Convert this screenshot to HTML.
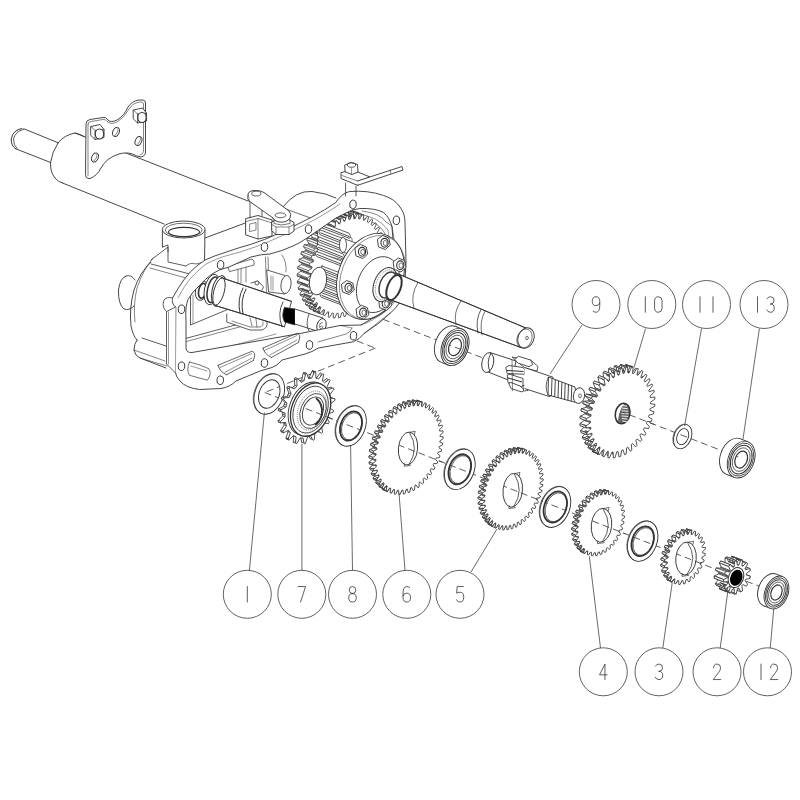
<!DOCTYPE html>
<html><head><meta charset="utf-8"><style>
html,body{margin:0;padding:0;background:#fff;width:800px;height:800px;overflow:hidden;font-family:"Liberation Sans",sans-serif}
svg{display:block}
</style></head><body>
<svg width="800" height="800" viewBox="0 0 800 800">
<rect width="800" height="800" fill="#fff"/>
<path d="M75,133 L248,201" fill="none" stroke="#333" stroke-width="0.9" stroke-linejoin="round" stroke-linecap="round" />
<path d="M62.5,183 L164,224" fill="none" stroke="#333" stroke-width="0.9" stroke-linejoin="round" stroke-linecap="round" />
<path d="M58,143 Q52,152 50.6,162.5 Q50,172 55,178 Q58,182 62.5,183" fill="none" stroke="#333" stroke-width="0.9" stroke-linejoin="round" stroke-linecap="round" />
<path d="M58,143 Q64,135 75,133 Q80,134 84,136.5" fill="none" stroke="#333" stroke-width="0.9" stroke-linejoin="round" stroke-linecap="round" />
<path d="M23.75,128.75 L58.1,142.75" fill="none" stroke="#333" stroke-width="0.9" stroke-linejoin="round" stroke-linecap="round" />
<path d="M15.6,148.75 L50.6,162.5" fill="none" stroke="#333" stroke-width="0.9" stroke-linejoin="round" stroke-linecap="round" />
<path d="M21.9,128.5 Q13,130 11.25,138.75 Q11,146 15.6,148.75" fill="none" stroke="#333" stroke-width="1.0" stroke-linejoin="round" stroke-linecap="round" />
<path d="M23.5,129.5 Q15.5,131 13.5,139 Q13.5,145.5 17,148.5" fill="none" stroke="#333" stroke-width="0.8" stroke-linejoin="round" stroke-linecap="round" />
<path d="M86,124 Q86,120 90,119.5 L103,117.5 Q106,117 108,120 Q111,123 117,120 Q124,116 128,107 Q132,101 139,100 L143,100 Q145.5,100.5 145.5,103 L145.5,152 Q145.5,156 141,157 L137,156 Q128,151 119,154 Q106,158 101,168 Q97,176 90,178.5 L88,178.5 Q85.5,178 85.5,175 Z" fill="#fff" stroke="#333" stroke-width="0.9" stroke-linejoin="round" stroke-linecap="round" />
<path d="M88,124.5 Q88,121.5 91,121.5 L103,119.5 Q105.5,119 107,121.5 Q111,125 117,122 Q124,118 129,109 Q133,102.5 139,102 L142,102 Q143.5,102.5 143.5,104 L143.5,151 Q143.5,154.5 140,155" fill="none" stroke="#333" stroke-width="0.6" stroke-linejoin="round" stroke-linecap="round" />
<path d="M88,124.5 L88,176" fill="none" stroke="#333" stroke-width="0.6" stroke-linejoin="round" stroke-linecap="round" />
<path d="M91,126.5 L100,124.5 L104,129.5 L104,137.5 L95,139.5 L91,135.5 Z" fill="#fff" stroke="#333" stroke-width="0.9" stroke-linejoin="round" stroke-linecap="round" />
<path d="M91,126.5 L95,130.5 L104,129.5" fill="none" stroke="#333" stroke-width="0.7" stroke-linejoin="round" stroke-linecap="round" />
<path d="M95,130.5 L95,139.5" fill="none" stroke="#333" stroke-width="0.7" stroke-linejoin="round" stroke-linecap="round" />
<ellipse cx="99.5" cy="134.0" rx="4.2" ry="5" fill="#fff" stroke="#333" stroke-width="1.1"/>
<path d="M133.5,110 L142.5,108 L146.5,113 L146.5,121 L137.5,123 L133.5,119 Z" fill="#fff" stroke="#333" stroke-width="0.9" stroke-linejoin="round" stroke-linecap="round" />
<path d="M133.5,110 L137.5,114 L146.5,113" fill="none" stroke="#333" stroke-width="0.7" stroke-linejoin="round" stroke-linecap="round" />
<path d="M137.5,114 L137.5,123" fill="none" stroke="#333" stroke-width="0.7" stroke-linejoin="round" stroke-linecap="round" />
<ellipse cx="142.0" cy="117.5" rx="4.2" ry="5" fill="#fff" stroke="#333" stroke-width="1.1"/>
<ellipse cx="116" cy="132" rx="3.2" ry="4.8" transform="rotate(20 116 132)" fill="none" stroke="#333" stroke-width="0.9"/>
<path d="M114.5,135.5 Q118.5,133 118,128.5" fill="none" stroke="#333" stroke-width="0.6" stroke-linejoin="round" stroke-linecap="round" />
<ellipse cx="138.5" cy="141" rx="3.2" ry="4.8" transform="rotate(20 138.5 141)" fill="none" stroke="#333" stroke-width="0.9"/>
<path d="M137.0,144.5 Q141.0,142 140.5,137.5" fill="none" stroke="#333" stroke-width="0.6" stroke-linejoin="round" stroke-linecap="round" />
<ellipse cx="95" cy="157.5" rx="3.2" ry="4.8" transform="rotate(20 95 157.5)" fill="none" stroke="#333" stroke-width="0.9"/>
<path d="M93.5,161.0 Q97.5,158.5 97,154.0" fill="none" stroke="#333" stroke-width="0.6" stroke-linejoin="round" stroke-linecap="round" />
<path d="M205,238 L248,222" fill="none" stroke="#333" stroke-width="0.9" stroke-linejoin="round" stroke-linecap="round" />
<path d="M285,208.75 L316,220" fill="none" stroke="#333" stroke-width="0.7" stroke-linejoin="round" stroke-linecap="round" />
<path d="M151,262 Q140,272 134,290 Q129,308 131,326 Q133,336 137,340" fill="none" stroke="#333" stroke-width="0.9" stroke-linejoin="round" stroke-linecap="round" />
<path d="M153,258 Q143,270 137,288 Q133,305 135,322" fill="none" stroke="#333" stroke-width="0.6" stroke-linejoin="round" stroke-linecap="round" />
<path d="M151,260 L168,247 L168,252" fill="none" stroke="#333" stroke-width="0.8" stroke-linejoin="round" stroke-linecap="round" />
<path d="M151,264 L190,274" fill="none" stroke="#333" stroke-width="0.8" stroke-linejoin="round" stroke-linecap="round" />
<path d="M150,268 L186,278" fill="none" stroke="#333" stroke-width="0.6" stroke-linejoin="round" stroke-linecap="round" />
<path d="M126,276 Q120,278 118.5,290 Q118,304 124,309 Q129,311 134,306" fill="none" stroke="#333" stroke-width="0.9" stroke-linejoin="round" stroke-linecap="round" />
<path d="M126,276 Q131,274 135,280" fill="none" stroke="#333" stroke-width="0.8" stroke-linejoin="round" stroke-linecap="round" />
<path d="M137,340 Q134,344 134,350 Q135,356 140,358 L166,368" fill="none" stroke="#333" stroke-width="0.9" stroke-linejoin="round" stroke-linecap="round" />
<path d="M142,338 L166,346" fill="none" stroke="#333" stroke-width="0.8" stroke-linejoin="round" stroke-linecap="round" />
<path d="M140,358 L167,366" fill="none" stroke="#333" stroke-width="0.6" stroke-linejoin="round" stroke-linecap="round" />
<path d="M134,350 L165,361" fill="none" stroke="#333" stroke-width="0.6" stroke-linejoin="round" stroke-linecap="round" />
<path d="M175,372 Q182,380 191,384 Q203,388 215,388 L235,381" fill="none" stroke="#333" stroke-width="0.9" stroke-linejoin="round" stroke-linecap="round" />
<path d="M162.4,230 L162.4,247 M205,230 L204.5,262" fill="none" stroke="#333" stroke-width="0.9" stroke-linejoin="round" stroke-linecap="round" />
<path d="M162.4,247 L168,245 L168,262 L186,266" fill="none" stroke="#333" stroke-width="0.8" stroke-linejoin="round" stroke-linecap="round" />
<path d="M186,266 Q190,262 196,264 L204.5,262" fill="none" stroke="#333" stroke-width="0.7" stroke-linejoin="round" stroke-linecap="round" />
<ellipse cx="183.7" cy="229.5" rx="21.3" ry="8.5" fill="#fff" stroke="#333" stroke-width="0.9"/>
<ellipse cx="183.7" cy="230" rx="18.5" ry="6.8" fill="none" stroke="#333" stroke-width="0.7"/>
<ellipse cx="184" cy="232" rx="15.5" ry="4.6" fill="none" stroke="#333" stroke-width="1.1"/>
<path d="M190.5,293.5 L190.5,325 L230,308.5" fill="none" stroke="#333" stroke-width="0.8" stroke-linejoin="round" stroke-linecap="round" />
<path d="M193,295 L193,323.5" fill="none" stroke="#333" stroke-width="0.5" stroke-linejoin="round" stroke-linecap="round" />
<path d="M180,340 L276,314" fill="none" stroke="#333" stroke-width="0.8" stroke-linejoin="round" stroke-linecap="round" />
<path d="M181,343 L276,317" fill="none" stroke="#333" stroke-width="0.6" stroke-linejoin="round" stroke-linecap="round" />
<path d="M186,358 L276,334" fill="none" stroke="#333" stroke-width="0.5" stroke-linejoin="round" stroke-linecap="round" />
<path d="M226.75,314 L226.75,322 L250,330 L262,330 Q268,328 267,322 L262,318" fill="#fff" stroke="#333" stroke-width="0.8" stroke-linejoin="round" stroke-linecap="round" />
<path d="M232,321 L250,327 L260,327 Q264,326 263,322" fill="none" stroke="#333" stroke-width="0.6" stroke-linejoin="round" stroke-linecap="round" />
<path d="M250,318 L252,326 M256,319 L257,327" fill="none" stroke="#333" stroke-width="0.6" stroke-linejoin="round" stroke-linecap="round" />
<path d="M228,266 L252,259 L254,261 L254,265 L230,271.5 Z" fill="#fff" stroke="#333" stroke-width="0.7" stroke-linejoin="round" stroke-linecap="round" />
<path d="M238,270 L238,283 M241,269 L241,283 M246,267.5 L246,282" fill="none" stroke="#333" stroke-width="0.6" stroke-linejoin="round" stroke-linecap="round" />
<path d="M265.5,257 L266.5,292 M268,257 L269,292" fill="none" stroke="#333" stroke-width="0.6" stroke-linejoin="round" stroke-linecap="round" />
<path d="M282,255 Q287,262 286,272" fill="none" stroke="#333" stroke-width="0.6" stroke-linejoin="round" stroke-linecap="round" />
<path d="M267,270 L285,275.5 L285,294 L269,292 Z" fill="#fff" stroke="#333" stroke-width="0.8" stroke-linejoin="round" stroke-linecap="round" />
<ellipse cx="286" cy="284.5" rx="5" ry="9" transform="rotate(8 286 284.5)" fill="#fff" stroke="#333" stroke-width="0.8"/>
<path d="M271,276 L271,290 M273,276.5 L273,290.5" fill="none" stroke="#333" stroke-width="0.5" stroke-linejoin="round" stroke-linecap="round" />
<path d="M366.00,273.80 L365.74,274.45 L368.03,277.32 L367.12,279.36 L363.61,279.26 L363.15,280.20 L362.83,280.82 L364.68,284.24 L363.60,286.16 L360.28,285.35 L359.74,286.23 L359.37,286.81 L360.75,290.70 L359.51,292.47 L356.45,290.97 L355.84,291.77 L355.43,292.29 L356.31,296.58 L354.94,298.16 L352.20,296.00 L351.54,296.70 L351.09,297.16 L351.45,301.76 L349.98,303.11 L347.62,300.34 L346.91,300.93 L346.43,301.31 L346.27,306.12 L344.73,307.22 L342.79,303.90 L342.06,304.36 L341.56,304.66 L340.88,309.59 L339.29,310.42 L337.82,306.60 L337.07,306.93 L336.57,307.14 L335.38,312.09 L333.79,312.63 L332.81,308.40 L332.06,308.59 L331.56,308.70 L329.89,313.57 L328.32,313.80 L327.86,309.25 L327.13,309.30 L326.64,309.32 L324.52,314.00 L323.00,313.93 L323.07,309.14 L322.37,309.04 L321.91,308.96 L319.38,313.37 L317.95,312.99 L318.54,308.07 L317.88,307.83 L317.45,307.66 L314.57,311.70 L313.26,311.02 L314.35,306.07 L313.76,305.69 L313.37,305.42 L310.20,309.01 L309.02,308.05 L310.61,303.16 L310.09,302.65 L309.75,302.30 L306.34,305.37 L305.33,304.14 L307.37,299.42 L306.93,298.79 L306.65,298.36 L303.08,300.84 L302.26,299.38 L304.71,294.92 L304.37,294.18 L304.15,293.68 L300.49,295.53 L299.87,293.85 L302.69,289.74 L302.44,288.92 L302.29,288.36 L298.61,289.53 L298.21,287.68 L301.34,284.00 L301.19,283.10 L301.11,282.50 L297.49,282.97 L297.31,280.98 L300.68,277.82 L300.65,276.86 L300.63,276.22 L297.15,275.99 L297.20,273.90 L300.75,271.31 L300.82,270.31 L300.87,269.65 L297.59,268.72 L297.87,266.57 L301.52,264.61 L301.70,263.60 L301.82,262.93 L298.82,261.31 L299.31,259.16 L302.99,257.86 L303.27,256.85 L303.46,256.18 L300.79,253.92 L301.50,251.80 L305.13,251.20 L305.51,250.21 L305.76,249.56 L303.48,246.69 L304.38,244.64 L307.89,244.75 L308.36,243.81 L308.67,243.19 L306.82,239.77 L307.90,237.84 L311.22,238.65 L311.76,237.78 L312.13,237.20 L310.75,233.31 L311.99,231.54 L315.05,233.03 L315.66,232.24 L316.07,231.72 L315.19,227.43 L316.56,225.85 L319.30,228.00 L319.97,227.31 L320.42,226.85 L320.05,222.25 L321.52,220.90 L323.88,223.67 L324.59,223.08 L325.07,222.70 L325.23,217.89 L326.77,216.78 L328.71,220.11 L329.45,219.65 L329.94,219.35 L330.62,214.42 L332.21,213.59 L333.68,217.41 L334.43,217.08 L334.93,216.87 L336.12,211.92 L337.72,211.38 L338.69,215.61 L339.44,215.42 L339.94,215.31 L341.61,210.44 L343.18,210.21 L343.64,214.76 L344.37,214.71 L344.86,214.69 L346.98,210.01 L348.50,210.08 L348.43,214.87 L349.13,214.97 L349.59,215.04 L352.12,210.64 L353.55,211.02 L352.97,215.94 L353.62,216.18 L354.05,216.35 L356.93,212.31 L358.25,212.99 L357.15,217.94 L357.74,218.32 L358.13,218.59 L361.31,215.00 L362.48,215.96 L360.90,220.85 L361.42,221.36 L361.76,221.71 L365.16,218.64 L366.17,219.86 L364.13,224.59 L364.57,225.22 L364.85,225.65 L368.42,223.16 L369.25,224.63 L366.79,229.09 L367.13,229.83 L367.36,230.33 L371.02,228.48 L371.64,230.15 L368.81,234.27 L369.06,235.09 L369.22,235.65 L372.89,234.48 L373.30,236.33 L370.17,240.00 L370.31,240.91 L370.40,241.51 L374.01,241.04 L374.19,243.03 L370.82,246.19 L370.86,247.15 L370.87,247.79 L374.35,248.02 L374.30,250.11 L370.76,252.70 L370.69,253.69 L370.63,254.36 L373.91,255.29 L373.63,257.43 L369.98,259.40 L369.81,260.41 L369.68,261.08 L372.69,262.70 L372.19,264.85 L368.51,266.15 L368.23,267.15 L368.04,267.83 L370.71,270.09 L370.00,272.21 L366.37,272.81 Z" fill="#fff" stroke="#333" stroke-width="0.8" stroke-linejoin="round" />
<line x1="323.50" y1="315.02" x2="313.26" y2="311.02" stroke="#333" stroke-width="0.7200000000000001" />
<line x1="324.60" y1="310.06" x2="314.35" y2="306.07" stroke="#333" stroke-width="0.7200000000000001" />
<line x1="324.01" y1="309.68" x2="313.76" y2="305.69" stroke="#333" stroke-width="0.7200000000000001" />
<line x1="323.62" y1="309.42" x2="313.37" y2="305.42" stroke="#333" stroke-width="0.7200000000000001" />
<line x1="320.44" y1="313.01" x2="310.20" y2="309.01" stroke="#333" stroke-width="0.7200000000000001" />
<line x1="319.27" y1="312.05" x2="309.02" y2="308.05" stroke="#333" stroke-width="0.7200000000000001" />
<line x1="320.85" y1="307.16" x2="310.61" y2="303.16" stroke="#333" stroke-width="0.7200000000000001" />
<line x1="320.34" y1="306.65" x2="310.09" y2="302.65" stroke="#333" stroke-width="0.7200000000000001" />
<line x1="320.00" y1="306.30" x2="309.75" y2="302.30" stroke="#333" stroke-width="0.7200000000000001" />
<line x1="316.59" y1="309.37" x2="306.34" y2="305.37" stroke="#333" stroke-width="0.7200000000000001" />
<line x1="315.58" y1="308.14" x2="305.33" y2="304.14" stroke="#333" stroke-width="0.7200000000000001" />
<line x1="317.62" y1="303.42" x2="307.37" y2="299.42" stroke="#333" stroke-width="0.7200000000000001" />
<line x1="317.18" y1="302.79" x2="306.93" y2="298.79" stroke="#333" stroke-width="0.7200000000000001" />
<line x1="316.90" y1="302.36" x2="306.65" y2="298.36" stroke="#333" stroke-width="0.7200000000000001" />
<line x1="313.33" y1="304.84" x2="303.08" y2="300.84" stroke="#333" stroke-width="0.7200000000000001" />
<line x1="312.50" y1="303.37" x2="302.26" y2="299.38" stroke="#333" stroke-width="0.7200000000000001" />
<line x1="314.96" y1="298.91" x2="304.71" y2="294.92" stroke="#333" stroke-width="0.7200000000000001" />
<line x1="314.62" y1="298.18" x2="304.37" y2="294.18" stroke="#333" stroke-width="0.7200000000000001" />
<line x1="314.39" y1="297.68" x2="304.15" y2="293.68" stroke="#333" stroke-width="0.7200000000000001" />
<line x1="310.73" y1="299.52" x2="300.49" y2="295.53" stroke="#333" stroke-width="0.7200000000000001" />
<line x1="310.11" y1="297.85" x2="299.87" y2="293.85" stroke="#333" stroke-width="0.7200000000000001" />
<line x1="312.94" y1="293.74" x2="302.69" y2="289.74" stroke="#333" stroke-width="0.7200000000000001" />
<line x1="312.69" y1="292.91" x2="302.44" y2="288.92" stroke="#333" stroke-width="0.7200000000000001" />
<line x1="312.53" y1="292.35" x2="302.29" y2="288.36" stroke="#333" stroke-width="0.7200000000000001" />
<line x1="308.86" y1="293.53" x2="298.61" y2="289.53" stroke="#333" stroke-width="0.7200000000000001" />
<line x1="308.45" y1="291.68" x2="298.21" y2="287.68" stroke="#333" stroke-width="0.7200000000000001" />
<line x1="311.58" y1="288.00" x2="301.34" y2="284.00" stroke="#333" stroke-width="0.7200000000000001" />
<line x1="311.44" y1="287.10" x2="301.19" y2="283.10" stroke="#333" stroke-width="0.7200000000000001" />
<line x1="311.35" y1="286.49" x2="301.11" y2="282.50" stroke="#333" stroke-width="0.7200000000000001" />
<line x1="307.74" y1="286.97" x2="297.49" y2="282.97" stroke="#333" stroke-width="0.7200000000000001" />
<line x1="307.56" y1="284.98" x2="297.31" y2="280.98" stroke="#333" stroke-width="0.7200000000000001" />
<line x1="310.93" y1="281.81" x2="300.68" y2="277.82" stroke="#333" stroke-width="0.7200000000000001" />
<line x1="310.90" y1="280.86" x2="300.65" y2="276.86" stroke="#333" stroke-width="0.7200000000000001" />
<line x1="310.88" y1="280.21" x2="300.63" y2="276.22" stroke="#333" stroke-width="0.7200000000000001" />
<line x1="307.40" y1="279.98" x2="297.15" y2="275.99" stroke="#333" stroke-width="0.7200000000000001" />
<line x1="307.45" y1="277.90" x2="297.20" y2="273.90" stroke="#333" stroke-width="0.7200000000000001" />
<line x1="310.99" y1="275.31" x2="300.75" y2="271.31" stroke="#333" stroke-width="0.7200000000000001" />
<line x1="311.07" y1="274.31" x2="300.82" y2="270.31" stroke="#333" stroke-width="0.7200000000000001" />
<line x1="311.12" y1="273.64" x2="300.87" y2="269.65" stroke="#333" stroke-width="0.7200000000000001" />
<line x1="307.84" y1="272.71" x2="297.59" y2="268.72" stroke="#333" stroke-width="0.7200000000000001" />
<line x1="308.12" y1="270.57" x2="297.87" y2="266.57" stroke="#333" stroke-width="0.7200000000000001" />
<line x1="311.77" y1="268.61" x2="301.52" y2="264.61" stroke="#333" stroke-width="0.7200000000000001" />
<line x1="311.95" y1="267.60" x2="301.70" y2="263.60" stroke="#333" stroke-width="0.7200000000000001" />
<line x1="312.07" y1="266.92" x2="301.82" y2="262.93" stroke="#333" stroke-width="0.7200000000000001" />
<line x1="309.07" y1="265.30" x2="298.82" y2="261.31" stroke="#333" stroke-width="0.7200000000000001" />
<line x1="309.56" y1="263.15" x2="299.31" y2="259.16" stroke="#333" stroke-width="0.7200000000000001" />
<line x1="313.24" y1="261.86" x2="302.99" y2="257.86" stroke="#333" stroke-width="0.7200000000000001" />
<line x1="313.52" y1="260.85" x2="303.27" y2="256.85" stroke="#333" stroke-width="0.7200000000000001" />
<line x1="313.71" y1="260.18" x2="303.46" y2="256.18" stroke="#333" stroke-width="0.7200000000000001" />
<line x1="311.04" y1="257.91" x2="300.79" y2="253.92" stroke="#333" stroke-width="0.7200000000000001" />
<line x1="311.75" y1="255.79" x2="301.50" y2="251.80" stroke="#333" stroke-width="0.7200000000000001" />
<line x1="315.38" y1="255.19" x2="305.13" y2="251.20" stroke="#333" stroke-width="0.7200000000000001" />
<line x1="315.75" y1="254.21" x2="305.51" y2="250.21" stroke="#333" stroke-width="0.7200000000000001" />
<line x1="316.01" y1="253.55" x2="305.76" y2="249.56" stroke="#333" stroke-width="0.7200000000000001" />
<line x1="313.72" y1="250.68" x2="303.48" y2="246.69" stroke="#333" stroke-width="0.7200000000000001" />
<line x1="314.63" y1="248.64" x2="304.38" y2="244.64" stroke="#333" stroke-width="0.7200000000000001" />
<line x1="318.14" y1="248.75" x2="307.89" y2="244.75" stroke="#333" stroke-width="0.7200000000000001" />
<line x1="318.60" y1="247.81" x2="308.36" y2="243.81" stroke="#333" stroke-width="0.7200000000000001" />
<line x1="318.92" y1="247.18" x2="308.67" y2="243.19" stroke="#333" stroke-width="0.7200000000000001" />
<line x1="317.07" y1="243.77" x2="306.82" y2="239.77" stroke="#333" stroke-width="0.7200000000000001" />
<line x1="318.15" y1="241.84" x2="307.90" y2="237.84" stroke="#333" stroke-width="0.7200000000000001" />
<line x1="321.47" y1="242.65" x2="311.22" y2="238.65" stroke="#333" stroke-width="0.7200000000000001" />
<line x1="322.01" y1="241.77" x2="311.76" y2="237.78" stroke="#333" stroke-width="0.7200000000000001" />
<line x1="322.38" y1="241.20" x2="312.13" y2="237.20" stroke="#333" stroke-width="0.7200000000000001" />
<line x1="321.00" y1="237.30" x2="310.75" y2="233.31" stroke="#333" stroke-width="0.7200000000000001" />
<line x1="322.24" y1="235.53" x2="311.99" y2="231.54" stroke="#333" stroke-width="0.7200000000000001" />
<line x1="325.30" y1="237.03" x2="315.05" y2="233.03" stroke="#333" stroke-width="0.7200000000000001" />
<line x1="325.91" y1="236.24" x2="315.66" y2="232.24" stroke="#333" stroke-width="0.7200000000000001" />
<line x1="326.32" y1="235.71" x2="316.07" y2="231.72" stroke="#333" stroke-width="0.7200000000000001" />
<line x1="325.44" y1="231.42" x2="315.19" y2="227.43" stroke="#333" stroke-width="0.7200000000000001" />
<line x1="326.81" y1="229.85" x2="316.56" y2="225.85" stroke="#333" stroke-width="0.7200000000000001" />
<line x1="329.55" y1="232.00" x2="319.30" y2="228.00" stroke="#333" stroke-width="0.7200000000000001" />
<line x1="330.22" y1="231.30" x2="319.97" y2="227.31" stroke="#333" stroke-width="0.7200000000000001" />
<line x1="330.67" y1="230.85" x2="320.42" y2="226.85" stroke="#333" stroke-width="0.7200000000000001" />
<line x1="330.30" y1="226.25" x2="320.05" y2="222.25" stroke="#333" stroke-width="0.7200000000000001" />
<line x1="331.77" y1="224.89" x2="321.52" y2="220.90" stroke="#333" stroke-width="0.7200000000000001" />
<line x1="334.13" y1="227.66" x2="323.88" y2="223.67" stroke="#333" stroke-width="0.7200000000000001" />
<line x1="334.84" y1="227.08" x2="324.59" y2="223.08" stroke="#333" stroke-width="0.7200000000000001" />
<line x1="335.32" y1="226.70" x2="325.07" y2="222.70" stroke="#333" stroke-width="0.7200000000000001" />
<line x1="335.48" y1="221.88" x2="325.23" y2="217.89" stroke="#333" stroke-width="0.7200000000000001" />
<line x1="337.02" y1="220.78" x2="326.77" y2="216.78" stroke="#333" stroke-width="0.7200000000000001" />
<line x1="338.96" y1="224.11" x2="328.71" y2="220.11" stroke="#333" stroke-width="0.7200000000000001" />
<line x1="339.70" y1="223.64" x2="329.45" y2="219.65" stroke="#333" stroke-width="0.7200000000000001" />
<line x1="340.19" y1="223.35" x2="329.94" y2="219.35" stroke="#333" stroke-width="0.7200000000000001" />
<line x1="340.87" y1="218.41" x2="330.62" y2="214.42" stroke="#333" stroke-width="0.7200000000000001" />
<line x1="342.46" y1="217.59" x2="332.21" y2="213.59" stroke="#333" stroke-width="0.7200000000000001" />
<line x1="343.93" y1="221.40" x2="333.68" y2="217.41" stroke="#333" stroke-width="0.7200000000000001" />
<line x1="344.68" y1="221.07" x2="334.43" y2="217.08" stroke="#333" stroke-width="0.7200000000000001" />
<line x1="345.18" y1="220.86" x2="334.93" y2="216.87" stroke="#333" stroke-width="0.7200000000000001" />
<line x1="346.37" y1="215.91" x2="336.12" y2="211.92" stroke="#333" stroke-width="0.7200000000000001" />
<line x1="347.96" y1="215.38" x2="337.72" y2="211.38" stroke="#333" stroke-width="0.7200000000000001" />
<line x1="348.94" y1="219.60" x2="338.69" y2="215.61" stroke="#333" stroke-width="0.7200000000000001" />
<line x1="349.69" y1="219.42" x2="339.44" y2="215.42" stroke="#333" stroke-width="0.7200000000000001" />
<line x1="350.19" y1="219.30" x2="339.94" y2="215.31" stroke="#333" stroke-width="0.7200000000000001" />
<line x1="351.86" y1="214.43" x2="341.61" y2="210.44" stroke="#333" stroke-width="0.7200000000000001" />
<line x1="353.43" y1="214.20" x2="343.18" y2="210.21" stroke="#333" stroke-width="0.7200000000000001" />
<line x1="353.89" y1="218.75" x2="343.64" y2="214.76" stroke="#333" stroke-width="0.7200000000000001" />
<line x1="354.62" y1="218.71" x2="344.37" y2="214.71" stroke="#333" stroke-width="0.7200000000000001" />
<line x1="355.11" y1="218.69" x2="344.86" y2="214.69" stroke="#333" stroke-width="0.7200000000000001" />
<line x1="357.23" y1="214.00" x2="346.98" y2="210.01" stroke="#333" stroke-width="0.7200000000000001" />
<line x1="358.75" y1="214.08" x2="348.50" y2="210.08" stroke="#333" stroke-width="0.7200000000000001" />
<line x1="358.68" y1="218.86" x2="348.43" y2="214.87" stroke="#333" stroke-width="0.7200000000000001" />
<line x1="359.38" y1="218.96" x2="349.13" y2="214.97" stroke="#333" stroke-width="0.7200000000000001" />
<line x1="359.84" y1="219.04" x2="349.59" y2="215.04" stroke="#333" stroke-width="0.7200000000000001" />
<line x1="362.37" y1="214.63" x2="352.12" y2="210.64" stroke="#333" stroke-width="0.7200000000000001" />
<line x1="363.80" y1="215.01" x2="353.55" y2="211.02" stroke="#333" stroke-width="0.7200000000000001" />
<path d="M376.25,277.79 L375.99,278.45 L378.28,281.32 L377.37,283.36 L373.86,283.25 L373.40,284.19 L373.08,284.82 L374.93,288.23 L373.85,290.16 L370.53,289.35 L369.99,290.23 L369.62,290.80 L371.00,294.70 L369.76,296.47 L366.70,294.97 L366.09,295.76 L365.68,296.29 L366.56,300.58 L365.19,302.15 L362.45,300.00 L361.78,300.70 L361.33,301.15 L361.70,305.75 L360.23,307.11 L357.87,304.34 L357.16,304.92 L356.68,305.30 L356.52,310.12 L354.98,311.22 L353.04,307.89 L352.30,308.36 L351.81,308.65 L351.13,313.59 L349.54,314.41 L348.07,310.60 L347.32,310.93 L346.82,311.14 L345.63,316.09 L344.04,316.62 L343.06,312.40 L342.31,312.58 L341.81,312.70 L340.14,317.57 L338.57,317.80 L338.11,313.25 L337.38,313.29 L336.89,313.31 L334.77,318.00 L333.25,317.92 L333.32,313.14 L332.62,313.04 L332.16,312.96 L329.63,317.37 L328.20,316.99 L328.78,312.07 L328.13,311.83 L327.70,311.65 L324.82,315.69 L323.50,315.02 L324.60,310.06 L324.01,309.68 L323.62,309.42 L320.44,313.01 L319.27,312.05 L320.85,307.16 L320.34,306.65 L320.00,306.30 L316.59,309.37 L315.58,308.14 L317.62,303.42 L317.18,302.79 L316.90,302.36 L313.33,304.84 L312.50,303.37 L314.96,298.91 L314.62,298.18 L314.39,297.68 L310.73,299.52 L310.11,297.85 L312.94,293.74 L312.69,292.91 L312.53,292.35 L308.86,293.53 L308.45,291.68 L311.58,288.00 L311.44,287.10 L311.35,286.49 L307.74,286.97 L307.56,284.98 L310.93,281.81 L310.90,280.86 L310.88,280.21 L307.40,279.98 L307.45,277.90 L310.99,275.31 L311.07,274.31 L311.12,273.64 L307.84,272.71 L308.12,270.57 L311.77,268.61 L311.95,267.60 L312.07,266.92 L309.07,265.30 L309.56,263.15 L313.24,261.86 L313.52,260.85 L313.71,260.18 L311.04,257.91 L311.75,255.79 L315.38,255.19 L315.75,254.21 L316.01,253.55 L313.72,250.68 L314.63,248.64 L318.14,248.75 L318.60,247.81 L318.92,247.18 L317.07,243.77 L318.15,241.84 L321.47,242.65 L322.01,241.77 L322.38,241.20 L321.00,237.30 L322.24,235.53 L325.30,237.03 L325.91,236.24 L326.32,235.71 L325.44,231.42 L326.81,229.85 L329.55,232.00 L330.22,231.30 L330.67,230.85 L330.30,226.25 L331.77,224.89 L334.13,227.66 L334.84,227.08 L335.32,226.70 L335.48,221.88 L337.02,220.78 L338.96,224.11 L339.70,223.64 L340.19,223.35 L340.87,218.41 L342.46,217.59 L343.93,221.40 L344.68,221.07 L345.18,220.86 L346.37,215.91 L347.96,215.38 L348.94,219.60 L349.69,219.42 L350.19,219.30 L351.86,214.43 L353.43,214.20 L353.89,218.75 L354.62,218.71 L355.11,218.69 L357.23,214.00 L358.75,214.08 L358.68,218.86 L359.38,218.96 L359.84,219.04 L362.37,214.63 L363.80,215.01 L363.22,219.93 L363.87,220.17 L364.30,220.35 L367.18,216.31 L368.50,216.98 L367.40,221.94 L367.99,222.32 L368.38,222.58 L371.56,218.99 L372.73,219.95 L371.15,224.84 L371.66,225.35 L372.00,225.70 L375.41,222.63 L376.42,223.86 L374.38,228.58 L374.82,229.21 L375.10,229.64 L378.67,227.16 L379.50,228.63 L377.04,233.09 L377.38,233.82 L377.61,234.32 L381.27,232.48 L381.89,234.15 L379.06,238.26 L379.31,239.09 L379.47,239.65 L383.14,238.47 L383.55,240.32 L380.42,244.00 L380.56,244.90 L380.65,245.51 L384.26,245.03 L384.44,247.02 L381.07,250.19 L381.10,251.14 L381.12,251.79 L384.60,252.02 L384.55,254.10 L381.01,256.69 L380.93,257.69 L380.88,258.36 L384.16,259.29 L383.88,261.43 L380.23,263.39 L380.05,264.40 L379.93,265.08 L382.93,266.70 L382.44,268.85 L378.76,270.14 L378.48,271.15 L378.29,271.82 L380.96,274.09 L380.25,276.21 L376.62,276.81 Z" fill="#fff" stroke="#333" stroke-width="0.8" stroke-linejoin="round" />
<path d="M318,226 L352,238 L352,262 L318,254 Z" fill="#fff" stroke="#333" stroke-width="0.6" stroke-linejoin="round" stroke-linecap="round" />
<path d="M321.0,222.5 L349.0,233.2 Q351.5,235.8 349.5,238.4 L321.5,227.7 Q319.0,225.1 321.0,222.5 Z" fill="#fff" stroke="#333" stroke-width="0.8" stroke-linejoin="round" stroke-linecap="round" />
<path d="M322.0,225.7 L349.0,236.5" fill="none" stroke="#333" stroke-width="0.8800000000000001" stroke-linejoin="round" stroke-linecap="round" />
<path d="M319.8,229.7 L347.1,240.2 Q349.6,242.8 347.6,245.4 L320.3,234.9 Q317.8,232.3 319.8,229.7 Z" fill="#fff" stroke="#333" stroke-width="0.8" stroke-linejoin="round" stroke-linecap="round" />
<path d="M320.8,232.9 L347.1,243.4" fill="none" stroke="#333" stroke-width="0.8800000000000001" stroke-linejoin="round" stroke-linecap="round" />
<path d="M318.6,236.9 L345.1,247.1 Q347.6,249.7 345.6,252.3 L319.1,242.1 Q316.6,239.5 318.6,236.9 Z" fill="#fff" stroke="#333" stroke-width="0.8" stroke-linejoin="round" stroke-linecap="round" />
<path d="M319.6,240.1 L345.1,250.3" fill="none" stroke="#333" stroke-width="0.8800000000000001" stroke-linejoin="round" stroke-linecap="round" />
<path d="M317.4,244.1 L343.2,254.0 Q345.7,256.6 343.7,259.2 L317.9,249.3 Q315.4,246.7 317.4,244.1 Z" fill="#fff" stroke="#333" stroke-width="0.8" stroke-linejoin="round" stroke-linecap="round" />
<path d="M318.4,247.3 L343.2,257.2" fill="none" stroke="#333" stroke-width="0.8800000000000001" stroke-linejoin="round" stroke-linecap="round" />
<path d="M316.2,251.3 L341.2,260.9 Q343.7,263.5 341.7,266.1 L316.7,256.5 Q314.2,253.9 316.2,251.3 Z" fill="#fff" stroke="#333" stroke-width="0.8" stroke-linejoin="round" stroke-linecap="round" />
<path d="M317.2,254.5 L341.2,264.1" fill="none" stroke="#333" stroke-width="0.8800000000000001" stroke-linejoin="round" stroke-linecap="round" />
<path d="M322,268 L348,277 L348,302 L322,296 Z" fill="#fff" stroke="#333" stroke-width="0.6" stroke-linejoin="round" stroke-linecap="round" />
<path d="M322.0,266.0 L346.3,275.3 Q348.8,277.7 346.8,280.1 L322.5,270.8 Q320.0,268.4 322.0,266.0 Z" fill="#fff" stroke="#333" stroke-width="0.8" stroke-linejoin="round" stroke-linecap="round" />
<path d="M323.0,269.0 L346.3,278.3" fill="none" stroke="#333" stroke-width="0.8800000000000001" stroke-linejoin="round" stroke-linecap="round" />
<path d="M321.7,272.6 L346.0,281.9 Q348.5,284.3 346.5,286.7 L322.2,277.4 Q319.7,275.0 321.7,272.6 Z" fill="#fff" stroke="#333" stroke-width="0.8" stroke-linejoin="round" stroke-linecap="round" />
<path d="M322.7,275.6 L346.0,284.9" fill="none" stroke="#333" stroke-width="0.8800000000000001" stroke-linejoin="round" stroke-linecap="round" />
<path d="M321.4,279.2 L345.7,288.5 Q348.2,290.9 346.2,293.3 L321.9,284.0 Q319.4,281.6 321.4,279.2 Z" fill="#fff" stroke="#333" stroke-width="0.8" stroke-linejoin="round" stroke-linecap="round" />
<path d="M322.4,282.2 L345.7,291.5" fill="none" stroke="#333" stroke-width="0.8800000000000001" stroke-linejoin="round" stroke-linecap="round" />
<path d="M321.1,285.8 L345.4,295.1 Q347.9,297.5 345.9,299.9 L321.6,290.6 Q319.1,288.2 321.1,285.8 Z" fill="#fff" stroke="#333" stroke-width="0.8" stroke-linejoin="round" stroke-linecap="round" />
<path d="M322.1,288.8 L345.4,298.1" fill="none" stroke="#333" stroke-width="0.8800000000000001" stroke-linejoin="round" stroke-linecap="round" />
<path d="M320.8,292.4 L345.1,301.7 Q347.6,304.1 345.6,306.5 L321.3,297.2 Q318.8,294.8 320.8,292.4 Z" fill="#fff" stroke="#333" stroke-width="0.8" stroke-linejoin="round" stroke-linecap="round" />
<path d="M321.8,295.4 L345.1,304.7" fill="none" stroke="#333" stroke-width="0.8800000000000001" stroke-linejoin="round" stroke-linecap="round" />
<ellipse cx="318" cy="281" rx="8.5" ry="14" transform="rotate(10 318 281)" fill="#fff" stroke="#333" stroke-width="0.85"/>
<path d="M342,238 L356,243 L356,256 L342,252 Z" fill="#fff" stroke="#333" stroke-width="0.8" stroke-linejoin="round" stroke-linecap="round" />
<ellipse cx="343" cy="245" rx="3.5" ry="7.5" fill="#fff" stroke="#333" stroke-width="0.8"/>
<ellipse cx="201.5" cy="290.5" rx="6" ry="10" transform="rotate(12 201.5 290.5)" fill="#fff" stroke="#333" stroke-width="0.9"/>
<ellipse cx="202.5" cy="290.8" rx="3.8" ry="7.5" transform="rotate(12 202.5 290.8)" fill="none" stroke="#333" stroke-width="1.6"/>
<ellipse cx="212" cy="289.5" rx="7.5" ry="15.5" transform="rotate(12 212 289.5)" fill="#fff" stroke="#333" stroke-width="0.9"/>
<ellipse cx="213" cy="289.8" rx="5.5" ry="13" transform="rotate(12 213 289.8)" fill="none" stroke="#333" stroke-width="1.5"/>
<ellipse cx="219" cy="291" rx="7" ry="15.5" transform="rotate(12 219 291)" fill="#fff" stroke="#333" stroke-width="1.0"/>
<path d="M221.5,277.75 L291.5,301.4 L284.5,326.75 L216,305.75 Z" fill="#fff" stroke="#333" stroke-width="0.9" stroke-linejoin="round" stroke-linecap="round" />
<ellipse cx="219" cy="291.5" rx="5.2" ry="14" transform="rotate(15 219 291.5)" fill="#fff" stroke="#333" stroke-width="0.9"/>
<path d="M221.5,277.75 L291.5,301.4 M216,305.75 L284.5,326.75" fill="none" stroke="#333" stroke-width="0.9" stroke-linejoin="round" stroke-linecap="round" />
<path d="M243,288 Q237,299 240,313 M246,289 Q240,300 243,314" fill="none" stroke="#333" stroke-width="1.0" stroke-linejoin="round" stroke-linecap="round" />
<path d="M283,302 Q277,313 282,326.75" fill="none" stroke="#333" stroke-width="0.9" stroke-linejoin="round" stroke-linecap="round" />
<path d="M284.5,307.5 L295,309 L295,325 L284.5,322 Q281,315 284.5,307.5 Z" fill="#000" stroke="#333" stroke-width="0.8" stroke-linejoin="round" stroke-linecap="round" />
<path d="M295,309 L323,318 L320,332 L295,324" fill="#fff" stroke="#333" stroke-width="0.9" stroke-linejoin="round" stroke-linecap="round" />
<path d="M309,314 Q305,324 309,331" fill="none" stroke="#333" stroke-width="0.8" stroke-linejoin="round" stroke-linecap="round" />
<ellipse cx="321.5" cy="325.5" rx="4.5" ry="7" transform="rotate(15 321.5 325.5)" fill="#fff" stroke="#333" stroke-width="0.9"/>
<path d="M320,324 Q318.5,327.5 321,329 Q323,328.5 322.5,326.5 Q321,325.5 320,326.5 M320,324 Q320.5,322.5 322.5,322.5" fill="none" stroke="#333" stroke-width="0.6" stroke-linejoin="round" stroke-linecap="round" />
<path d="M251,283 L258,281 L263.5,287 L262,290" fill="none" stroke="#333" stroke-width="0.8" stroke-linejoin="round" stroke-linecap="round" />
<circle cx="257" cy="283" r="2" fill="#fff" stroke="#333" stroke-width="0.8"/>
<path d="M175.5,307 Q171,303 172.5,298 Q178,288 183.75,280 Q190,271 198,265 Q205,259 214.6,256 L238.4,248 Q250,245 264.5,239.5 Q280,233 293,226.5 L312,217 Q325,210 335.8,202.5 Q342,193 349.7,191.5 Q368,190 383.7,195.5 Q395,199 400.7,208 Q405,214 405,222.5 L406,262 Q405,290 400,302 Q396,308 391,312.5 L379,323 L364,333.5 Q360,339 353.5,341.75 L318.5,348 Q312,352 305,354 L282,360 Q277,366 272,367.5 L260,371 L236,381 Q230,387 221,388.5 L199.5,389.5 Q186,388 180,381 Q176,377 175.5,373 Z M186,320.5 Q185,307 188,299.5 Q193,291 199,286 Q205,279 212,274 Q219,269 229,267 L251,257 Q262,254 270,254 Q282,251 293,246 Q300,243 307,238 L326,225 Q336,217 345,213.5 Q352,209 360,208.5 Q375,208 383.7,212.5 Q390,218 392,227 L393,240 L392,285 Q390,302 385,311 L361,325 L340,325.5 L300,333.5 L192,352.5 Q186,353 186,348 Z" fill="#fff" stroke="#333" stroke-width="0.9" stroke-linejoin="round" stroke-linecap="round" fill-rule="evenodd"/>
<path d="M175.5,307 L166.5,311.5 L166.5,364 L175.5,373" fill="#fff" stroke="#333" stroke-width="0.8" stroke-linejoin="round" stroke-linecap="round" />
<path d="M168.5,312 L168.5,364" fill="none" stroke="#333" stroke-width="0.5" stroke-linejoin="round" stroke-linecap="round" />
<path d="M172.5,298 Q166,296 163.5,301 Q162,308 166.5,311.5" fill="#fff" stroke="#333" stroke-width="0.8" stroke-linejoin="round" stroke-linecap="round" />
<path d="M178,298 Q184,286 190,279 Q198,270 206,264 Q214,260 222,257 L240,252 Q256,247 268,242 Q282,236 296,229 L316,219 Q330,211 340,204" fill="none" stroke="#333" stroke-width="0.5" stroke-linejoin="round" stroke-linecap="round" />
<path d="M189.5,362 Q199,364 209,368.8 Q212,374 207.4,380.2 L189.5,375.3 Q186,370 189.5,362" fill="none" stroke="#333" stroke-width="0.7" stroke-linejoin="round" stroke-linecap="round" />
<path d="M191,366 L207,371" fill="none" stroke="#333" stroke-width="0.5" stroke-linejoin="round" stroke-linecap="round" />
<path d="M218,365.25 L252.5,351 Q256.0,353.5 254.5,357 L253.3,360.5" fill="none" stroke="#333" stroke-width="0.75" stroke-linejoin="round" stroke-linecap="round" />
<path d="M219.5,367.75 L252.0,353.5" fill="none" stroke="#333" stroke-width="0.55" stroke-linejoin="round" stroke-linecap="round" />
<path d="M225.0,372.25 L252.0,358.0" fill="none" stroke="#333" stroke-width="0.55" stroke-linejoin="round" stroke-linecap="round" />
<path d="M226.5,374.75 L253.3,360.5 M218,365.25 Q219,371.25 226.5,374.75" fill="none" stroke="#333" stroke-width="0.75" stroke-linejoin="round" stroke-linecap="round" />
<path d="M263,348 L297.5,333 Q301.0,335.5 299.5,339 L298.4,342.5" fill="none" stroke="#333" stroke-width="0.75" stroke-linejoin="round" stroke-linecap="round" />
<path d="M264.5,350.5 L297.0,335.5" fill="none" stroke="#333" stroke-width="0.55" stroke-linejoin="round" stroke-linecap="round" />
<path d="M270.0,355.0 L297.0,340.0" fill="none" stroke="#333" stroke-width="0.55" stroke-linejoin="round" stroke-linecap="round" />
<path d="M271.5,357.5 L298.4,342.5 M263,348 Q264,354 271.5,357.5" fill="none" stroke="#333" stroke-width="0.75" stroke-linejoin="round" stroke-linecap="round" />
<path d="M318,342 L346,334 Q350,333 352,328" fill="none" stroke="#333" stroke-width="0.6" stroke-linejoin="round" stroke-linecap="round" />
<path d="M340,325.5 L352,328 M361,325 Q372,322 385,311" fill="none" stroke="#333" stroke-width="0.5" stroke-linejoin="round" stroke-linecap="round" />
<path d="M364,333.5 L385,317 L391,312.5" fill="none" stroke="#333" stroke-width="0.5" stroke-linejoin="round" stroke-linecap="round" />
<ellipse cx="181.5" cy="309.25" rx="3.3" ry="4.3" transform="rotate(10 181.5 309.25)" fill="#fff" stroke="#333" stroke-width="0.9"/>
<ellipse cx="181.5" cy="366.25" rx="3.3" ry="4.3" transform="rotate(10 181.5 366.25)" fill="#fff" stroke="#333" stroke-width="0.9"/>
<ellipse cx="220.6" cy="264.8" rx="3.3" ry="4.3" transform="rotate(10 220.6 264.8)" fill="#fff" stroke="#333" stroke-width="0.9"/>
<ellipse cx="264.5" cy="247" rx="3.3" ry="4.3" transform="rotate(10 264.5 247)" fill="#fff" stroke="#333" stroke-width="0.9"/>
<ellipse cx="308.5" cy="229.2" rx="3.3" ry="4.3" transform="rotate(10 308.5 229.2)" fill="#fff" stroke="#333" stroke-width="0.9"/>
<ellipse cx="353" cy="204.4" rx="3.3" ry="4.3" transform="rotate(10 353 204.4)" fill="#fff" stroke="#333" stroke-width="0.9"/>
<ellipse cx="396.4" cy="220.3" rx="3.3" ry="4.3" transform="rotate(10 396.4 220.3)" fill="#fff" stroke="#333" stroke-width="0.9"/>
<ellipse cx="353.5" cy="335.75" rx="3.3" ry="4.3" transform="rotate(10 353.5 335.75)" fill="#fff" stroke="#333" stroke-width="0.9"/>
<ellipse cx="309.5" cy="345" rx="3.3" ry="4.3" transform="rotate(10 309.5 345)" fill="#fff" stroke="#333" stroke-width="0.9"/>
<ellipse cx="264.5" cy="363" rx="3.3" ry="4.3" transform="rotate(10 264.5 363)" fill="#fff" stroke="#333" stroke-width="0.9"/>
<ellipse cx="220.25" cy="380.25" rx="3.3" ry="4.3" transform="rotate(10 220.25 380.25)" fill="#fff" stroke="#333" stroke-width="0.9"/>
<path d="M357,214 Q378,216 388,230 Q390,240 390,250" fill="none" stroke="#333" stroke-width="0.5" stroke-linejoin="round" stroke-linecap="round" />
<path d="M362,211 Q380,213 386,222 L392,226 L395,245 L395,262" fill="none" stroke="#333" stroke-width="0.6" stroke-linejoin="round" stroke-linecap="round" />
<path d="M372,222 Q382,226 386,236 L390,258" fill="none" stroke="#333" stroke-width="0.6" stroke-linejoin="round" stroke-linecap="round" />
<path d="M386,254 L394,252 L395,262" fill="none" stroke="#333" stroke-width="0.5" stroke-linejoin="round" stroke-linecap="round" />
<ellipse cx="370.50" cy="276.50" rx="31.99" ry="44.44" transform="rotate(21.30 370.50 276.50)" fill="#fff" stroke="#333" stroke-width="0.9" />
<ellipse cx="372.50" cy="277.50" rx="31.25" ry="43.40" transform="rotate(21.30 372.50 277.50)" fill="none" stroke="#333" stroke-width="0.5" />
<ellipse cx="378.00" cy="284.60" rx="20.29" ry="28.99" transform="rotate(21.30 378.00 284.60)" fill="#fff" stroke="#333" stroke-width="0.8" />
<path d="M377.75,239 L382.75,235.5 L388.75,238 L390.25,245 L385.25,249.5 L378.75,247 Z" fill="#fff" stroke="#333" stroke-width="0.9" stroke-linejoin="round" stroke-linecap="round" />
<ellipse cx="384.55" cy="242.8" rx="3.6" ry="4.4" fill="#fff" stroke="#333" stroke-width="1.1"/>
<ellipse cx="385.25" cy="243" rx="2" ry="2.6" fill="none" stroke="#333" stroke-width="0.7"/>
<path d="M355.25,248 L360.25,244.5 L366.25,247 L367.75,254 L362.75,258.5 L356.25,256 Z" fill="#fff" stroke="#333" stroke-width="0.9" stroke-linejoin="round" stroke-linecap="round" />
<ellipse cx="362.05" cy="251.8" rx="3.6" ry="4.4" fill="#fff" stroke="#333" stroke-width="1.1"/>
<ellipse cx="362.75" cy="252" rx="2" ry="2.6" fill="none" stroke="#333" stroke-width="0.7"/>
<path d="M393.5,261.5 L398.5,258.0 L404.5,260.5 L406.0,267.5 L401.0,272.0 L394.5,269.5 Z" fill="#fff" stroke="#333" stroke-width="0.9" stroke-linejoin="round" stroke-linecap="round" />
<ellipse cx="400.3" cy="265.3" rx="3.6" ry="4.4" fill="#fff" stroke="#333" stroke-width="1.1"/>
<ellipse cx="401.0" cy="265.5" rx="2" ry="2.6" fill="none" stroke="#333" stroke-width="0.7"/>
<path d="M341.75,284 L346.75,280.5 L352.75,283 L354.25,290 L349.25,294.5 L342.75,292 Z" fill="#fff" stroke="#333" stroke-width="0.9" stroke-linejoin="round" stroke-linecap="round" />
<ellipse cx="348.55" cy="287.8" rx="3.6" ry="4.4" fill="#fff" stroke="#333" stroke-width="1.1"/>
<ellipse cx="349.25" cy="288" rx="2" ry="2.6" fill="none" stroke="#333" stroke-width="0.7"/>
<path d="M379,299.75 L384,296.25 L390,298.75 L391.5,305.75 L386.5,310.25 L380,307.75 Z" fill="#fff" stroke="#333" stroke-width="0.9" stroke-linejoin="round" stroke-linecap="round" />
<ellipse cx="385.8" cy="303.55" rx="3.6" ry="4.4" fill="#fff" stroke="#333" stroke-width="1.1"/>
<ellipse cx="386.5" cy="303.75" rx="2" ry="2.6" fill="none" stroke="#333" stroke-width="0.7"/>
<path d="M356.4,308.75 L361.4,305.25 L367.4,307.75 L368.9,314.75 L363.9,319.25 L357.4,316.75 Z" fill="#fff" stroke="#333" stroke-width="0.9" stroke-linejoin="round" stroke-linecap="round" />
<ellipse cx="363.2" cy="312.55" rx="3.6" ry="4.4" fill="#fff" stroke="#333" stroke-width="1.1"/>
<ellipse cx="363.9" cy="312.75" rx="2" ry="2.6" fill="none" stroke="#333" stroke-width="0.7"/>
<ellipse cx="385.00" cy="284.60" rx="11.00" ry="17.74" transform="rotate(21.30 385.00 284.60)" fill="#fff" stroke="#333" stroke-width="1.0" />
<ellipse cx="386.00" cy="284.80" rx="9.70" ry="15.65" transform="rotate(21.30 386.00 284.80)" fill="none" stroke="#333" stroke-width="0.6" stroke-dasharray="1 1.2"/>
<ellipse cx="388.00" cy="285.00" rx="8.15" ry="13.59" transform="rotate(21.30 388.00 285.00)" fill="#fff" stroke="#333" stroke-width="1.4" />
<path d="M396,273 L527.5,328.75 L521,347.5 L391,300 Z" fill="#fff" stroke="#333" stroke-width="0.9" stroke-linejoin="round" stroke-linecap="round" />
<ellipse cx="394.00" cy="287.50" rx="6.58" ry="13.17" transform="rotate(21.30 394.00 287.50)" fill="#fff" stroke="#333" stroke-width="2.0" />
<path d="M396,273 L527.5,328.75 M391,300 L521,347.5" fill="none" stroke="#333" stroke-width="0.9" stroke-linejoin="round" stroke-linecap="round" />
<path d="M418,282.5 Q410,295 414,308" fill="none" stroke="#333" stroke-width="0.7" stroke-linejoin="round" stroke-linecap="round" />
<path d="M461,301 Q453,312 456,325" fill="none" stroke="#333" stroke-width="0.7" stroke-linejoin="round" stroke-linecap="round" />
<path d="M481,309.5 Q475,320 478,333" fill="none" stroke="#333" stroke-width="0.8" stroke-linejoin="round" stroke-linecap="round" />
<path d="M485,311 Q479,322 482,335" fill="none" stroke="#333" stroke-width="0.7" stroke-linejoin="round" stroke-linecap="round" />
<ellipse cx="526.00" cy="338.00" rx="7.88" ry="10.51" transform="rotate(21.30 526.00 338.00)" fill="#fff" stroke="#333" stroke-width="0.9" />
<ellipse cx="524.50" cy="338.50" rx="7.34" ry="9.79" transform="rotate(21.30 524.50 338.50)" fill="none" stroke="#333" stroke-width="0.6" />
<ellipse cx="527" cy="338" rx="1.3" ry="1.8" fill="none" stroke="#333" stroke-width="0.7"/>
<path d="M282.5,207.5 Q296,190 312,191.5 Q326,193 336,198" fill="none" stroke="#333" stroke-width="0.9" stroke-linejoin="round" stroke-linecap="round" />
<path d="M246,218.5 L258,215.5 L272,220 L272,236 L258,239 L246,235 Z" fill="#fff" stroke="#333" stroke-width="0.9" stroke-linejoin="round" stroke-linecap="round" />
<path d="M246,221.5 L258,218.5 L272,223 M258,218.5 L258,239" fill="none" stroke="#333" stroke-width="0.6" stroke-linejoin="round" stroke-linecap="round" />
<path d="M250,224 L256,222.5 L256,230 L250,231.5 Z" fill="none" stroke="#333" stroke-width="0.6" stroke-linejoin="round" stroke-linecap="round" />
<path d="M272,222 L276,219.5 L289,219.5 L294,222.5 L294,231 L289,234.5 L276,234.5 L272,231 Z" fill="#fff" stroke="#333" stroke-width="0.9" stroke-linejoin="round" stroke-linecap="round" />
<path d="M272,224.5 L276,227 L289,227 L294,224.5 M276,227 L276,234.5 M289,227 L289,234.5" fill="none" stroke="#333" stroke-width="0.6" stroke-linejoin="round" stroke-linecap="round" />
<path d="M250,200 L250,218 M262,198 L262,216" fill="none" stroke="#333" stroke-width="0.8" stroke-linejoin="round" stroke-linecap="round" />
<path d="M248,196 Q247,191 254,190.5 Q260,190 264,192.5 L289,211 Q292,214 290,218 Q287,223 279,222 Q274,221 273,218 L249,201 Q247,199 248,196 Z" fill="#fff" stroke="#333" stroke-width="0.9" stroke-linejoin="round" stroke-linecap="round" />
<path d="M249,201 L249,198 M273,218 L273,221" fill="none" stroke="#333" stroke-width="0.5" stroke-linejoin="round" stroke-linecap="round" />
<ellipse cx="256.3" cy="193.6" rx="4.6" ry="2.4" fill="#fff" stroke="#333" stroke-width="0.8"/>
<ellipse cx="280.5" cy="215.3" rx="5.4" ry="2.4" fill="none" stroke="#333" stroke-width="0.8"/>
<path d="M274,221 L274,223.5 Q281,226.5 290,223.5 L290,220" fill="none" stroke="#333" stroke-width="0.7" stroke-linejoin="round" stroke-linecap="round" />
<path d="M341,173 L341,178.5 L358,185.5 L359,181 L370,177 L353,170 Z" fill="#fff" stroke="#333" stroke-width="0.9" stroke-linejoin="round" stroke-linecap="round" />
<path d="M342,175.5 L357.5,181" fill="none" stroke="#333" stroke-width="0.6" stroke-linejoin="round" stroke-linecap="round" />
<path d="M345.6,183 L345.6,196 M356,186 L356,196" fill="none" stroke="#333" stroke-width="0.8" stroke-linejoin="round" stroke-linecap="round" />
<path d="M357.5,181 L402,166.5 L403,170 L358.5,185" fill="#fff" stroke="#333" stroke-width="0.9" stroke-linejoin="round" stroke-linecap="round" />
<path d="M390,170 L391,173.5" fill="none" stroke="#333" stroke-width="0.6" stroke-linejoin="round" stroke-linecap="round" />
<path d="M345,165 L351,162.5 L357.5,164.5 L358,172 L352,174.5 L345.5,172 Z" fill="#fff" stroke="#333" stroke-width="0.9" stroke-linejoin="round" stroke-linecap="round" />
<ellipse cx="351.5" cy="165" rx="4.2" ry="2.2" fill="none" stroke="#333" stroke-width="0.8"/>
<path d="M351.5,168 L351.5,174.5" fill="none" stroke="#333" stroke-width="0.5" stroke-linejoin="round" stroke-linecap="round" />
<line x1="357.00" y1="341.00" x2="375.40" y2="348.10" stroke="#333" stroke-width="0.8" stroke-dasharray="7 4"/>
<line x1="375.40" y1="348.10" x2="264.75" y2="392.50" stroke="#333" stroke-width="0.8" stroke-dasharray="7 4"/>
<line x1="264.75" y1="392.50" x2="760.00" y2="586.60" stroke="#333" stroke-width="0.8" stroke-dasharray="7 4"/>
<line x1="383.00" y1="319.25" x2="742.00" y2="458.50" stroke="#333" stroke-width="0.8" stroke-dasharray="7 4"/>
<ellipse cx="268.60" cy="393.75" rx="14.29" ry="21.01" transform="rotate(21.30 268.60 393.75)" fill="#fff" stroke="#333" stroke-width="0.6" />
<ellipse cx="269.25" cy="394.00" rx="14.29" ry="21.01" transform="rotate(21.30 269.25 394.00)" fill="#fff" stroke="#333" stroke-width="0.9" />
<ellipse cx="269.25" cy="394.00" rx="10.05" ry="14.78" transform="rotate(21.30 269.25 394.00)" fill="none" stroke="#333" stroke-width="0.9" />
<path d="M325.07,414.77 L324.28,416.67 L326.93,421.19 L326.13,422.72 L321.43,422.08 L320.33,423.76 L319.17,425.37 L320.30,431.22 L319.22,432.44 L315.35,429.69 L313.98,430.94 L312.57,432.09 L312.05,438.63 L310.81,439.41 L308.18,434.85 L306.69,435.54 L305.19,436.10 L303.07,442.63 L301.81,442.88 L300.72,437.01 L299.26,437.05 L297.83,436.97 L294.35,442.77 L293.20,442.47 L293.75,435.92 L292.49,435.32 L291.28,434.60 L286.82,439.04 L285.91,438.23 L288.05,431.71 L287.12,430.53 L286.27,429.25 L281.30,431.86 L280.72,430.62 L284.22,424.83 L283.72,423.20 L283.32,421.49 L278.39,421.99 L278.21,420.45 L282.69,416.03 L282.68,414.12 L282.76,412.18 L278.40,410.50 L278.64,408.84 L283.61,406.26 L284.09,404.29 L284.65,402.32 L281.33,398.65 L281.96,397.04 L286.89,396.58 L287.80,394.75 L288.79,392.97 L286.87,387.71 L287.83,386.32 L292.17,388.04 L293.42,386.55 L294.73,385.16 L294.42,378.87 L295.59,377.86 L298.89,381.56 L300.34,380.58 L301.81,379.72 L303.15,373.09 L304.41,372.57 L306.30,377.85 L307.80,377.48 L309.29,377.24 L312.12,370.99 L313.34,371.01 L313.62,377.31 L315.00,377.59 L316.34,378.01 L320.36,372.81 L321.41,373.37 L320.04,380.00 L321.15,380.90 L322.20,381.92 L326.98,378.34 L327.73,379.38 L324.87,385.62 L325.60,387.05 L326.23,388.56 L331.25,386.99 L331.63,388.39 L327.59,393.57 L327.85,395.36 L328.01,397.21 L332.72,397.81 L332.69,399.43 L327.90,402.98 L327.66,404.95 L327.33,406.93 L331.23,409.64 L330.79,411.30 L325.77,412.84 Z" fill="#fff" stroke="#333" stroke-width="0.85" stroke-linejoin="round" />
<line x1="294.82" y1="436.23" x2="292.49" y2="435.32" stroke="#333" stroke-width="0.765" />
<line x1="293.61" y1="435.50" x2="291.28" y2="434.60" stroke="#333" stroke-width="0.765" />
<line x1="289.15" y1="439.95" x2="286.82" y2="439.04" stroke="#333" stroke-width="0.765" />
<line x1="288.24" y1="439.14" x2="285.91" y2="438.23" stroke="#333" stroke-width="0.765" />
<line x1="290.38" y1="432.62" x2="288.05" y2="431.71" stroke="#333" stroke-width="0.765" />
<line x1="289.45" y1="431.44" x2="287.12" y2="430.53" stroke="#333" stroke-width="0.765" />
<line x1="288.60" y1="430.15" x2="286.27" y2="429.25" stroke="#333" stroke-width="0.765" />
<line x1="283.63" y1="432.77" x2="281.30" y2="431.86" stroke="#333" stroke-width="0.765" />
<line x1="283.05" y1="431.53" x2="280.72" y2="430.62" stroke="#333" stroke-width="0.765" />
<line x1="286.55" y1="425.74" x2="284.22" y2="424.83" stroke="#333" stroke-width="0.765" />
<line x1="286.05" y1="424.11" x2="283.72" y2="423.20" stroke="#333" stroke-width="0.765" />
<line x1="285.65" y1="422.40" x2="283.32" y2="421.49" stroke="#333" stroke-width="0.765" />
<line x1="280.71" y1="422.90" x2="278.39" y2="421.99" stroke="#333" stroke-width="0.765" />
<line x1="280.54" y1="421.36" x2="278.21" y2="420.45" stroke="#333" stroke-width="0.765" />
<line x1="285.02" y1="416.94" x2="282.69" y2="416.03" stroke="#333" stroke-width="0.765" />
<line x1="285.00" y1="415.03" x2="282.68" y2="414.12" stroke="#333" stroke-width="0.765" />
<line x1="285.09" y1="413.09" x2="282.76" y2="412.18" stroke="#333" stroke-width="0.765" />
<line x1="280.73" y1="411.41" x2="278.40" y2="410.50" stroke="#333" stroke-width="0.765" />
<line x1="280.97" y1="409.75" x2="278.64" y2="408.84" stroke="#333" stroke-width="0.765" />
<line x1="285.94" y1="407.17" x2="283.61" y2="406.26" stroke="#333" stroke-width="0.765" />
<line x1="286.42" y1="405.19" x2="284.09" y2="404.29" stroke="#333" stroke-width="0.765" />
<line x1="286.98" y1="403.23" x2="284.65" y2="402.32" stroke="#333" stroke-width="0.765" />
<line x1="283.66" y1="399.56" x2="281.33" y2="398.65" stroke="#333" stroke-width="0.765" />
<line x1="284.29" y1="397.94" x2="281.96" y2="397.04" stroke="#333" stroke-width="0.765" />
<line x1="289.22" y1="397.49" x2="286.89" y2="396.58" stroke="#333" stroke-width="0.765" />
<line x1="290.13" y1="395.66" x2="287.80" y2="394.75" stroke="#333" stroke-width="0.765" />
<line x1="291.12" y1="393.88" x2="288.79" y2="392.97" stroke="#333" stroke-width="0.765" />
<line x1="289.20" y1="388.62" x2="286.87" y2="387.71" stroke="#333" stroke-width="0.765" />
<line x1="290.16" y1="387.23" x2="287.83" y2="386.32" stroke="#333" stroke-width="0.765" />
<line x1="294.50" y1="388.95" x2="292.17" y2="388.04" stroke="#333" stroke-width="0.765" />
<line x1="295.75" y1="387.46" x2="293.42" y2="386.55" stroke="#333" stroke-width="0.765" />
<line x1="297.06" y1="386.07" x2="294.73" y2="385.16" stroke="#333" stroke-width="0.765" />
<line x1="296.75" y1="379.78" x2="294.42" y2="378.87" stroke="#333" stroke-width="0.765" />
<line x1="297.92" y1="378.77" x2="295.59" y2="377.86" stroke="#333" stroke-width="0.765" />
<line x1="301.22" y1="382.47" x2="298.89" y2="381.56" stroke="#333" stroke-width="0.765" />
<line x1="302.67" y1="381.49" x2="300.34" y2="380.58" stroke="#333" stroke-width="0.765" />
<line x1="304.14" y1="380.63" x2="301.81" y2="379.72" stroke="#333" stroke-width="0.765" />
<line x1="305.48" y1="374.00" x2="303.15" y2="373.09" stroke="#333" stroke-width="0.765" />
<line x1="306.74" y1="373.47" x2="304.41" y2="372.57" stroke="#333" stroke-width="0.765" />
<line x1="308.63" y1="378.76" x2="306.30" y2="377.85" stroke="#333" stroke-width="0.765" />
<line x1="310.13" y1="378.39" x2="307.80" y2="377.48" stroke="#333" stroke-width="0.765" />
<line x1="311.62" y1="378.15" x2="309.29" y2="377.24" stroke="#333" stroke-width="0.765" />
<line x1="314.45" y1="371.90" x2="312.12" y2="370.99" stroke="#333" stroke-width="0.765" />
<line x1="315.67" y1="371.92" x2="313.34" y2="371.01" stroke="#333" stroke-width="0.765" />
<line x1="315.95" y1="378.22" x2="313.62" y2="377.31" stroke="#333" stroke-width="0.765" />
<line x1="317.33" y1="378.50" x2="315.00" y2="377.59" stroke="#333" stroke-width="0.765" />
<path d="M289.15,439.95 L288.24,439.14 L285.91,438.23 L286.82,439.04 Z" fill="#fff" stroke="#333" stroke-width="0.765" stroke-linejoin="round" />
<path d="M283.63,432.77 L283.05,431.53 L280.72,430.62 L281.30,431.86 Z" fill="#fff" stroke="#333" stroke-width="0.765" stroke-linejoin="round" />
<path d="M280.71,422.90 L280.54,421.36 L278.21,420.45 L278.39,421.99 Z" fill="#fff" stroke="#333" stroke-width="0.765" stroke-linejoin="round" />
<path d="M280.73,411.41 L280.97,409.75 L278.64,408.84 L278.40,410.50 Z" fill="#fff" stroke="#333" stroke-width="0.765" stroke-linejoin="round" />
<path d="M283.66,399.56 L284.29,397.94 L281.96,397.04 L281.33,398.65 Z" fill="#fff" stroke="#333" stroke-width="0.765" stroke-linejoin="round" />
<path d="M289.20,388.62 L290.16,387.23 L287.83,386.32 L286.87,387.71 Z" fill="#fff" stroke="#333" stroke-width="0.765" stroke-linejoin="round" />
<path d="M296.75,379.78 L297.92,378.77 L295.59,377.86 L294.42,378.87 Z" fill="#fff" stroke="#333" stroke-width="0.765" stroke-linejoin="round" />
<path d="M305.48,374.00 L306.74,373.47 L304.41,372.57 L303.15,373.09 Z" fill="#fff" stroke="#333" stroke-width="0.765" stroke-linejoin="round" />
<path d="M314.45,371.90 L315.67,371.92 L313.34,371.01 L312.12,370.99 Z" fill="#fff" stroke="#333" stroke-width="0.765" stroke-linejoin="round" />
<path d="M327.39,415.68 L326.61,417.58 L329.26,422.10 L328.46,423.63 L323.76,422.98 L322.66,424.67 L321.50,426.28 L322.63,432.13 L321.55,433.35 L317.68,430.60 L316.31,431.85 L314.90,433.00 L314.38,439.54 L313.14,440.32 L310.51,435.76 L309.02,436.45 L307.52,437.01 L305.40,443.53 L304.14,443.79 L303.05,437.92 L301.59,437.96 L300.16,437.87 L296.68,443.68 L295.53,443.38 L296.08,436.83 L294.82,436.23 L293.61,435.50 L289.15,439.95 L288.24,439.14 L290.38,432.62 L289.45,431.44 L288.60,430.15 L283.63,432.77 L283.05,431.53 L286.55,425.74 L286.05,424.11 L285.65,422.40 L280.71,422.90 L280.54,421.36 L285.02,416.94 L285.00,415.03 L285.09,413.09 L280.73,411.41 L280.97,409.75 L285.94,407.17 L286.42,405.19 L286.98,403.23 L283.66,399.56 L284.29,397.94 L289.22,397.49 L290.13,395.66 L291.12,393.88 L289.20,388.62 L290.16,387.23 L294.50,388.95 L295.75,387.46 L297.06,386.07 L296.75,379.78 L297.92,378.77 L301.22,382.47 L302.67,381.49 L304.14,380.63 L305.48,374.00 L306.74,373.47 L308.63,378.76 L310.13,378.39 L311.62,378.15 L314.45,371.90 L315.67,371.92 L315.95,378.22 L317.33,378.50 L318.66,378.91 L322.69,373.72 L323.73,374.28 L322.37,380.90 L323.48,381.81 L324.53,382.83 L329.31,379.25 L330.06,380.29 L327.20,386.53 L327.93,387.95 L328.56,389.47 L333.58,387.89 L333.96,389.30 L329.92,394.47 L330.18,396.27 L330.34,398.12 L335.05,398.72 L335.02,400.34 L330.23,403.89 L329.99,405.86 L329.66,407.84 L333.56,410.55 L333.12,412.21 L328.10,413.75 Z" fill="#fff" stroke="#333" stroke-width="0.85" stroke-linejoin="round" />
<ellipse cx="308.27" cy="408.69" rx="18.77" ry="27.60" transform="rotate(21.30 308.27 408.69)" fill="#fff" stroke="#333" stroke-width="0.9" />
<ellipse cx="310.60" cy="409.60" rx="18.77" ry="27.60" transform="rotate(21.30 310.60 409.60)" fill="#fff" stroke="#333" stroke-width="1.3" />
<ellipse cx="310.60" cy="409.60" rx="16.51" ry="24.28" transform="rotate(21.30 310.60 409.60)" fill="none" stroke="#333" stroke-width="0.8" />
<ellipse cx="312.00" cy="410.50" rx="13.76" ry="20.23" transform="rotate(21.30 312.00 410.50)" fill="none" stroke="#333" stroke-width="0.6" stroke-dasharray="1 1"/>
<ellipse cx="313.00" cy="411.00" rx="12.35" ry="18.16" transform="rotate(21.30 313.00 411.00)" fill="none" stroke="#333" stroke-width="0.8" />
<ellipse cx="313.00" cy="411.00" rx="9.95" ry="14.63" transform="rotate(21.30 313.00 411.00)" fill="#fff" stroke="#333" stroke-width="0.9" />
<path d="M316,398 Q323,404 322,414 Q320,422 315,425" fill="none" stroke="#333" stroke-width="1.8" stroke-linejoin="round"/>
<ellipse cx="350.35" cy="425.75" rx="14.29" ry="21.01" transform="rotate(21.30 350.35 425.75)" fill="#fff" stroke="#333" stroke-width="0.6" />
<ellipse cx="351.00" cy="426.00" rx="14.29" ry="21.01" transform="rotate(21.30 351.00 426.00)" fill="#fff" stroke="#333" stroke-width="0.9" />
<ellipse cx="351.00" cy="426.00" rx="10.30" ry="15.15" transform="rotate(21.30 351.00 426.00)" fill="none" stroke="#333" stroke-width="1.8" />
<ellipse cx="351.75" cy="426.29" rx="9.58" ry="14.09" transform="rotate(21.30 351.75 426.29)" fill="none" stroke="#333" stroke-width="0.7" />
<path d="M432.09,457.39 L431.87,457.95 L434.02,460.48 L433.25,462.22 L430.05,462.06 L429.66,462.86 L429.39,463.39 L431.17,466.39 L430.25,468.04 L427.22,467.27 L426.75,468.02 L426.44,468.52 L427.82,471.93 L426.76,473.45 L423.95,472.10 L423.43,472.79 L423.08,473.24 L424.03,477.00 L422.86,478.37 L420.32,476.46 L419.75,477.06 L419.37,477.46 L419.87,481.50 L418.61,482.69 L416.39,480.25 L415.78,480.77 L415.37,481.11 L415.43,485.35 L414.10,486.33 L412.24,483.42 L411.60,483.84 L411.18,484.11 L410.77,488.48 L409.40,489.24 L407.94,485.91 L407.28,486.22 L406.85,486.41 L406.00,490.82 L404.60,491.35 L403.57,487.66 L402.91,487.85 L402.47,487.97 L401.19,492.35 L399.80,492.63 L399.21,488.64 L398.56,488.72 L398.13,488.76 L396.44,493.01 L395.09,493.05 L394.95,488.84 L394.32,488.80 L393.90,488.76 L391.84,492.82 L390.54,492.60 L390.86,488.25 L390.26,488.09 L389.87,487.98 L387.46,491.76 L386.25,491.29 L387.02,486.88 L386.47,486.61 L386.10,486.42 L383.40,489.86 L382.30,489.15 L383.50,484.77 L383.00,484.39 L382.68,484.12 L379.73,487.15 L378.75,486.22 L380.37,481.94 L379.93,481.46 L379.65,481.13 L376.52,483.69 L375.68,482.55 L377.68,478.45 L377.32,477.87 L377.08,477.48 L373.82,479.53 L373.14,478.21 L375.49,474.37 L375.21,473.71 L375.02,473.26 L371.69,474.76 L371.19,473.27 L373.83,469.77 L373.63,469.04 L373.51,468.55 L370.17,469.46 L369.85,467.84 L372.75,464.73 L372.63,463.95 L372.57,463.42 L369.28,463.74 L369.15,462.02 L372.25,459.36 L372.22,458.53 L372.21,457.98 L369.05,457.70 L369.10,455.90 L372.34,453.75 L372.41,452.90 L372.46,452.32 L369.47,451.45 L369.71,449.61 L373.03,448.01 L373.19,447.14 L373.30,446.56 L370.54,445.10 L370.97,443.26 L374.31,442.24 L374.55,441.37 L374.71,440.80 L372.24,438.79 L372.84,436.98 L376.14,436.54 L376.46,435.70 L376.68,435.15 L374.53,432.62 L375.30,430.87 L378.49,431.04 L378.89,430.23 L379.16,429.70 L377.38,426.71 L378.30,425.06 L381.33,425.82 L381.79,425.07 L382.11,424.57 L380.73,421.16 L381.78,419.64 L384.59,420.99 L385.12,420.31 L385.47,419.85 L384.52,416.10 L385.69,414.73 L388.22,416.64 L388.79,416.03 L389.18,415.63 L388.67,411.59 L389.93,410.41 L392.15,412.84 L392.76,412.32 L393.17,411.99 L393.12,407.74 L394.45,406.76 L396.31,409.67 L396.94,409.25 L397.37,408.98 L397.77,404.62 L399.15,403.85 L400.61,407.19 L401.26,406.88 L401.70,406.68 L402.55,402.27 L403.94,401.74 L404.98,405.44 L405.64,405.24 L406.07,405.12 L407.36,400.75 L408.74,400.47 L409.34,404.46 L409.99,404.38 L410.42,404.33 L412.11,400.08 L413.46,400.05 L413.60,404.26 L414.23,404.29 L414.64,404.33 L416.71,400.28 L418.01,400.50 L417.69,404.84 L418.29,405.00 L418.68,405.11 L421.08,401.34 L422.30,401.80 L421.53,406.21 L422.08,406.48 L422.44,406.67 L425.14,403.24 L426.25,403.94 L425.05,408.33 L425.55,408.71 L425.87,408.97 L428.81,405.94 L429.80,406.87 L428.18,411.16 L428.61,411.64 L428.90,411.97 L432.03,409.41 L432.86,410.55 L430.87,414.64 L431.23,415.22 L431.46,415.61 L434.72,413.56 L435.40,414.89 L433.06,418.73 L433.34,419.38 L433.52,419.83 L436.85,418.34 L437.36,419.82 L434.71,423.33 L434.91,424.06 L435.04,424.55 L438.38,423.63 L438.70,425.25 L435.80,428.36 L435.91,429.15 L435.98,429.67 L439.26,429.35 L439.40,431.08 L436.30,433.73 L436.32,434.56 L436.33,435.12 L439.50,435.40 L439.44,437.19 L436.20,439.34 L436.14,440.20 L436.09,440.77 L439.08,441.65 L438.83,443.48 L435.51,445.09 L435.36,445.95 L435.25,446.53 L438.01,447.99 L437.58,449.83 L434.24,450.86 L434.00,451.72 L433.83,452.29 L436.31,454.31 L435.71,456.12 L432.41,456.55 Z" fill="#fff" stroke="#333" stroke-width="0.85" stroke-linejoin="round" />
<line x1="390.19" y1="488.07" x2="386.47" y2="486.61" stroke="#333" stroke-width="0.765" />
<line x1="389.83" y1="487.88" x2="386.10" y2="486.42" stroke="#333" stroke-width="0.765" />
<line x1="387.13" y1="491.31" x2="383.40" y2="489.86" stroke="#333" stroke-width="0.765" />
<line x1="386.02" y1="490.61" x2="382.30" y2="489.15" stroke="#333" stroke-width="0.765" />
<line x1="387.22" y1="486.22" x2="383.50" y2="484.77" stroke="#333" stroke-width="0.765" />
<line x1="386.73" y1="485.84" x2="383.00" y2="484.39" stroke="#333" stroke-width="0.765" />
<line x1="386.40" y1="485.58" x2="382.68" y2="484.12" stroke="#333" stroke-width="0.765" />
<line x1="383.46" y1="488.60" x2="379.73" y2="487.15" stroke="#333" stroke-width="0.765" />
<line x1="382.48" y1="487.67" x2="378.75" y2="486.22" stroke="#333" stroke-width="0.765" />
<line x1="384.09" y1="483.39" x2="380.37" y2="481.94" stroke="#333" stroke-width="0.765" />
<line x1="383.66" y1="482.91" x2="379.93" y2="481.46" stroke="#333" stroke-width="0.765" />
<line x1="383.38" y1="482.58" x2="379.65" y2="481.13" stroke="#333" stroke-width="0.765" />
<line x1="380.25" y1="485.14" x2="376.52" y2="483.69" stroke="#333" stroke-width="0.765" />
<line x1="379.41" y1="484.00" x2="375.68" y2="482.55" stroke="#333" stroke-width="0.765" />
<line x1="381.41" y1="479.90" x2="377.68" y2="478.45" stroke="#333" stroke-width="0.765" />
<line x1="381.04" y1="479.33" x2="377.32" y2="477.87" stroke="#333" stroke-width="0.765" />
<line x1="380.81" y1="478.94" x2="377.08" y2="477.48" stroke="#333" stroke-width="0.765" />
<line x1="377.55" y1="480.98" x2="373.82" y2="479.53" stroke="#333" stroke-width="0.765" />
<line x1="376.87" y1="479.66" x2="373.14" y2="478.21" stroke="#333" stroke-width="0.765" />
<line x1="379.22" y1="475.82" x2="375.49" y2="474.37" stroke="#333" stroke-width="0.765" />
<line x1="378.93" y1="475.16" x2="375.21" y2="473.71" stroke="#333" stroke-width="0.765" />
<line x1="378.75" y1="474.72" x2="375.02" y2="473.26" stroke="#333" stroke-width="0.765" />
<line x1="375.42" y1="476.21" x2="371.69" y2="474.76" stroke="#333" stroke-width="0.765" />
<line x1="374.91" y1="474.73" x2="371.19" y2="473.27" stroke="#333" stroke-width="0.765" />
<line x1="377.56" y1="471.22" x2="373.83" y2="469.77" stroke="#333" stroke-width="0.765" />
<line x1="377.36" y1="470.49" x2="373.63" y2="469.04" stroke="#333" stroke-width="0.765" />
<line x1="377.24" y1="470.00" x2="373.51" y2="468.55" stroke="#333" stroke-width="0.765" />
<line x1="373.90" y1="470.92" x2="370.17" y2="469.46" stroke="#333" stroke-width="0.765" />
<line x1="373.57" y1="469.30" x2="369.85" y2="467.84" stroke="#333" stroke-width="0.765" />
<line x1="376.47" y1="466.19" x2="372.75" y2="464.73" stroke="#333" stroke-width="0.765" />
<line x1="376.36" y1="465.40" x2="372.63" y2="463.95" stroke="#333" stroke-width="0.765" />
<line x1="376.29" y1="464.87" x2="372.57" y2="463.42" stroke="#333" stroke-width="0.765" />
<line x1="373.01" y1="465.19" x2="369.28" y2="463.74" stroke="#333" stroke-width="0.765" />
<line x1="372.87" y1="463.47" x2="369.15" y2="462.02" stroke="#333" stroke-width="0.765" />
<line x1="375.97" y1="460.82" x2="372.25" y2="459.36" stroke="#333" stroke-width="0.765" />
<line x1="375.95" y1="459.99" x2="372.22" y2="458.53" stroke="#333" stroke-width="0.765" />
<line x1="375.94" y1="459.43" x2="372.21" y2="457.98" stroke="#333" stroke-width="0.765" />
<line x1="372.78" y1="459.15" x2="369.05" y2="457.70" stroke="#333" stroke-width="0.765" />
<line x1="372.83" y1="457.35" x2="369.10" y2="455.90" stroke="#333" stroke-width="0.765" />
<line x1="376.07" y1="455.20" x2="372.34" y2="453.75" stroke="#333" stroke-width="0.765" />
<line x1="376.14" y1="454.35" x2="372.41" y2="452.90" stroke="#333" stroke-width="0.765" />
<line x1="376.19" y1="453.78" x2="372.46" y2="452.32" stroke="#333" stroke-width="0.765" />
<line x1="373.20" y1="452.90" x2="369.47" y2="451.45" stroke="#333" stroke-width="0.765" />
<line x1="373.44" y1="451.06" x2="369.71" y2="449.61" stroke="#333" stroke-width="0.765" />
<line x1="376.76" y1="449.46" x2="373.03" y2="448.01" stroke="#333" stroke-width="0.765" />
<line x1="376.92" y1="448.59" x2="373.19" y2="447.14" stroke="#333" stroke-width="0.765" />
<line x1="377.03" y1="448.02" x2="373.30" y2="446.56" stroke="#333" stroke-width="0.765" />
<line x1="374.26" y1="446.56" x2="370.54" y2="445.10" stroke="#333" stroke-width="0.765" />
<line x1="374.69" y1="444.72" x2="370.97" y2="443.26" stroke="#333" stroke-width="0.765" />
<line x1="378.03" y1="443.69" x2="374.31" y2="442.24" stroke="#333" stroke-width="0.765" />
<line x1="378.27" y1="442.83" x2="374.55" y2="441.37" stroke="#333" stroke-width="0.765" />
<line x1="378.44" y1="442.25" x2="374.71" y2="440.80" stroke="#333" stroke-width="0.765" />
<line x1="375.96" y1="440.24" x2="372.24" y2="438.79" stroke="#333" stroke-width="0.765" />
<line x1="376.57" y1="438.43" x2="372.84" y2="436.98" stroke="#333" stroke-width="0.765" />
<line x1="379.87" y1="438.00" x2="376.14" y2="436.54" stroke="#333" stroke-width="0.765" />
<line x1="380.19" y1="437.16" x2="376.46" y2="435.70" stroke="#333" stroke-width="0.765" />
<line x1="380.41" y1="436.60" x2="376.68" y2="435.15" stroke="#333" stroke-width="0.765" />
<line x1="378.26" y1="434.07" x2="374.53" y2="432.62" stroke="#333" stroke-width="0.765" />
<line x1="379.03" y1="432.32" x2="375.30" y2="430.87" stroke="#333" stroke-width="0.765" />
<line x1="382.22" y1="432.49" x2="378.49" y2="431.04" stroke="#333" stroke-width="0.765" />
<line x1="382.62" y1="431.69" x2="378.89" y2="430.23" stroke="#333" stroke-width="0.765" />
<line x1="382.89" y1="431.16" x2="379.16" y2="429.70" stroke="#333" stroke-width="0.765" />
<line x1="381.10" y1="428.16" x2="377.38" y2="426.71" stroke="#333" stroke-width="0.765" />
<line x1="382.03" y1="426.51" x2="378.30" y2="425.06" stroke="#333" stroke-width="0.765" />
<line x1="385.06" y1="427.27" x2="381.33" y2="425.82" stroke="#333" stroke-width="0.765" />
<line x1="385.52" y1="426.52" x2="381.79" y2="425.07" stroke="#333" stroke-width="0.765" />
<line x1="385.83" y1="426.03" x2="382.11" y2="424.57" stroke="#333" stroke-width="0.765" />
<line x1="384.45" y1="422.62" x2="380.73" y2="421.16" stroke="#333" stroke-width="0.765" />
<line x1="385.51" y1="421.09" x2="381.78" y2="419.64" stroke="#333" stroke-width="0.765" />
<line x1="388.32" y1="422.44" x2="384.59" y2="420.99" stroke="#333" stroke-width="0.765" />
<line x1="388.84" y1="421.76" x2="385.12" y2="420.31" stroke="#333" stroke-width="0.765" />
<line x1="389.20" y1="421.31" x2="385.47" y2="419.85" stroke="#333" stroke-width="0.765" />
<line x1="388.24" y1="417.55" x2="384.52" y2="416.10" stroke="#333" stroke-width="0.765" />
<line x1="389.41" y1="416.18" x2="385.69" y2="414.73" stroke="#333" stroke-width="0.765" />
<line x1="391.95" y1="418.09" x2="388.22" y2="416.64" stroke="#333" stroke-width="0.765" />
<line x1="392.52" y1="417.48" x2="388.79" y2="416.03" stroke="#333" stroke-width="0.765" />
<line x1="392.91" y1="417.09" x2="389.18" y2="415.63" stroke="#333" stroke-width="0.765" />
<line x1="392.40" y1="413.05" x2="388.67" y2="411.59" stroke="#333" stroke-width="0.765" />
<line x1="393.66" y1="411.86" x2="389.93" y2="410.41" stroke="#333" stroke-width="0.765" />
<line x1="395.88" y1="414.29" x2="392.15" y2="412.84" stroke="#333" stroke-width="0.765" />
<line x1="396.49" y1="413.78" x2="392.76" y2="412.32" stroke="#333" stroke-width="0.765" />
<line x1="396.90" y1="413.44" x2="393.17" y2="411.99" stroke="#333" stroke-width="0.765" />
<line x1="396.84" y1="409.20" x2="393.12" y2="407.74" stroke="#333" stroke-width="0.765" />
<line x1="398.18" y1="408.21" x2="394.45" y2="406.76" stroke="#333" stroke-width="0.765" />
<line x1="400.03" y1="411.12" x2="396.31" y2="409.67" stroke="#333" stroke-width="0.765" />
<line x1="400.67" y1="410.71" x2="396.94" y2="409.25" stroke="#333" stroke-width="0.765" />
<line x1="401.10" y1="410.44" x2="397.37" y2="408.98" stroke="#333" stroke-width="0.765" />
<line x1="401.50" y1="406.07" x2="397.77" y2="404.62" stroke="#333" stroke-width="0.765" />
<line x1="402.88" y1="405.31" x2="399.15" y2="403.85" stroke="#333" stroke-width="0.765" />
<line x1="404.34" y1="408.64" x2="400.61" y2="407.19" stroke="#333" stroke-width="0.765" />
<line x1="404.99" y1="408.33" x2="401.26" y2="406.88" stroke="#333" stroke-width="0.765" />
<line x1="405.43" y1="408.13" x2="401.70" y2="406.68" stroke="#333" stroke-width="0.765" />
<line x1="406.27" y1="403.72" x2="402.55" y2="402.27" stroke="#333" stroke-width="0.765" />
<line x1="407.67" y1="403.19" x2="403.94" y2="401.74" stroke="#333" stroke-width="0.765" />
<line x1="408.71" y1="406.89" x2="404.98" y2="405.44" stroke="#333" stroke-width="0.765" />
<line x1="409.36" y1="406.69" x2="405.64" y2="405.24" stroke="#333" stroke-width="0.765" />
<line x1="409.80" y1="406.57" x2="406.07" y2="405.12" stroke="#333" stroke-width="0.765" />
<line x1="411.08" y1="402.20" x2="407.36" y2="400.75" stroke="#333" stroke-width="0.765" />
<line x1="412.47" y1="401.92" x2="408.74" y2="400.47" stroke="#333" stroke-width="0.765" />
<line x1="413.06" y1="405.91" x2="409.34" y2="404.46" stroke="#333" stroke-width="0.765" />
<line x1="413.71" y1="405.83" x2="409.99" y2="404.38" stroke="#333" stroke-width="0.765" />
<line x1="414.14" y1="405.78" x2="410.42" y2="404.33" stroke="#333" stroke-width="0.765" />
<line x1="415.83" y1="401.53" x2="412.11" y2="400.08" stroke="#333" stroke-width="0.765" />
<line x1="417.19" y1="401.50" x2="413.46" y2="400.05" stroke="#333" stroke-width="0.765" />
<line x1="417.33" y1="405.71" x2="413.60" y2="404.26" stroke="#333" stroke-width="0.765" />
<line x1="417.95" y1="405.75" x2="414.23" y2="404.29" stroke="#333" stroke-width="0.765" />
<line x1="418.37" y1="405.78" x2="414.64" y2="404.33" stroke="#333" stroke-width="0.765" />
<line x1="420.44" y1="401.73" x2="416.71" y2="400.28" stroke="#333" stroke-width="0.765" />
<line x1="421.73" y1="401.95" x2="418.01" y2="400.50" stroke="#333" stroke-width="0.765" />
<line x1="421.42" y1="406.30" x2="417.69" y2="404.84" stroke="#333" stroke-width="0.765" />
<line x1="422.01" y1="406.45" x2="418.29" y2="405.00" stroke="#333" stroke-width="0.765" />
<path d="M387.13,491.31 L386.02,490.61 L382.30,489.15 L383.40,489.86 Z" fill="#fff" stroke="#333" stroke-width="0.765" stroke-linejoin="round" />
<path d="M383.46,488.60 L382.48,487.67 L378.75,486.22 L379.73,487.15 Z" fill="#fff" stroke="#333" stroke-width="0.765" stroke-linejoin="round" />
<path d="M380.25,485.14 L379.41,484.00 L375.68,482.55 L376.52,483.69 Z" fill="#fff" stroke="#333" stroke-width="0.765" stroke-linejoin="round" />
<path d="M377.55,480.98 L376.87,479.66 L373.14,478.21 L373.82,479.53 Z" fill="#fff" stroke="#333" stroke-width="0.765" stroke-linejoin="round" />
<path d="M375.42,476.21 L374.91,474.73 L371.19,473.27 L371.69,474.76 Z" fill="#fff" stroke="#333" stroke-width="0.765" stroke-linejoin="round" />
<path d="M373.90,470.92 L373.57,469.30 L369.85,467.84 L370.17,469.46 Z" fill="#fff" stroke="#333" stroke-width="0.765" stroke-linejoin="round" />
<path d="M373.01,465.19 L372.87,463.47 L369.15,462.02 L369.28,463.74 Z" fill="#fff" stroke="#333" stroke-width="0.765" stroke-linejoin="round" />
<path d="M372.78,459.15 L372.83,457.35 L369.10,455.90 L369.05,457.70 Z" fill="#fff" stroke="#333" stroke-width="0.765" stroke-linejoin="round" />
<path d="M373.20,452.90 L373.44,451.06 L369.71,449.61 L369.47,451.45 Z" fill="#fff" stroke="#333" stroke-width="0.765" stroke-linejoin="round" />
<path d="M374.26,446.56 L374.69,444.72 L370.97,443.26 L370.54,445.10 Z" fill="#fff" stroke="#333" stroke-width="0.765" stroke-linejoin="round" />
<path d="M375.96,440.24 L376.57,438.43 L372.84,436.98 L372.24,438.79 Z" fill="#fff" stroke="#333" stroke-width="0.765" stroke-linejoin="round" />
<path d="M378.26,434.07 L379.03,432.32 L375.30,430.87 L374.53,432.62 Z" fill="#fff" stroke="#333" stroke-width="0.765" stroke-linejoin="round" />
<path d="M381.10,428.16 L382.03,426.51 L378.30,425.06 L377.38,426.71 Z" fill="#fff" stroke="#333" stroke-width="0.765" stroke-linejoin="round" />
<path d="M384.45,422.62 L385.51,421.09 L381.78,419.64 L380.73,421.16 Z" fill="#fff" stroke="#333" stroke-width="0.765" stroke-linejoin="round" />
<path d="M388.24,417.55 L389.41,416.18 L385.69,414.73 L384.52,416.10 Z" fill="#fff" stroke="#333" stroke-width="0.765" stroke-linejoin="round" />
<path d="M392.40,413.05 L393.66,411.86 L389.93,410.41 L388.67,411.59 Z" fill="#fff" stroke="#333" stroke-width="0.765" stroke-linejoin="round" />
<path d="M396.84,409.20 L398.18,408.21 L394.45,406.76 L393.12,407.74 Z" fill="#fff" stroke="#333" stroke-width="0.765" stroke-linejoin="round" />
<path d="M401.50,406.07 L402.88,405.31 L399.15,403.85 L397.77,404.62 Z" fill="#fff" stroke="#333" stroke-width="0.765" stroke-linejoin="round" />
<path d="M406.27,403.72 L407.67,403.19 L403.94,401.74 L402.55,402.27 Z" fill="#fff" stroke="#333" stroke-width="0.765" stroke-linejoin="round" />
<path d="M411.08,402.20 L412.47,401.92 L408.74,400.47 L407.36,400.75 Z" fill="#fff" stroke="#333" stroke-width="0.765" stroke-linejoin="round" />
<path d="M415.83,401.53 L417.19,401.50 L413.46,400.05 L412.11,400.08 Z" fill="#fff" stroke="#333" stroke-width="0.765" stroke-linejoin="round" />
<path d="M420.44,401.73 L421.73,401.95 L418.01,400.50 L416.71,400.28 Z" fill="#fff" stroke="#333" stroke-width="0.765" stroke-linejoin="round" />
<path d="M435.81,458.84 L435.59,459.40 L437.74,461.93 L436.97,463.68 L433.78,463.51 L433.38,464.31 L433.11,464.84 L434.90,467.84 L433.97,469.49 L430.94,468.73 L430.48,469.48 L430.17,469.97 L431.55,473.38 L430.49,474.91 L427.68,473.56 L427.16,474.24 L426.80,474.69 L427.76,478.45 L426.59,479.82 L424.05,477.91 L423.48,478.52 L423.09,478.91 L423.60,482.95 L422.34,484.14 L420.12,481.71 L419.51,482.22 L419.10,482.56 L419.16,486.80 L417.82,487.79 L415.97,484.88 L415.33,485.29 L414.90,485.56 L414.50,489.93 L413.12,490.69 L411.66,487.36 L411.01,487.67 L410.57,487.87 L409.73,492.28 L408.33,492.81 L407.29,489.11 L406.64,489.31 L406.20,489.43 L404.92,493.80 L403.53,494.08 L402.94,490.09 L402.29,490.17 L401.86,490.22 L400.17,494.47 L398.81,494.50 L398.67,490.29 L398.05,490.25 L397.63,490.22 L395.56,494.27 L394.27,494.05 L394.58,489.70 L393.99,489.55 L393.60,489.43 L391.19,493.21 L389.98,492.75 L390.74,488.34 L390.19,488.07 L389.83,487.88 L387.13,491.31 L386.02,490.61 L387.22,486.22 L386.73,485.84 L386.40,485.58 L383.46,488.60 L382.48,487.67 L384.09,483.39 L383.66,482.91 L383.38,482.58 L380.25,485.14 L379.41,484.00 L381.41,479.90 L381.04,479.33 L380.81,478.94 L377.55,480.98 L376.87,479.66 L379.22,475.82 L378.93,475.16 L378.75,474.72 L375.42,476.21 L374.91,474.73 L377.56,471.22 L377.36,470.49 L377.24,470.00 L373.90,470.92 L373.57,469.30 L376.47,466.19 L376.36,465.40 L376.29,464.87 L373.01,465.19 L372.87,463.47 L375.97,460.82 L375.95,459.99 L375.94,459.43 L372.78,459.15 L372.83,457.35 L376.07,455.20 L376.14,454.35 L376.19,453.78 L373.20,452.90 L373.44,451.06 L376.76,449.46 L376.92,448.59 L377.03,448.02 L374.26,446.56 L374.69,444.72 L378.03,443.69 L378.27,442.83 L378.44,442.25 L375.96,440.24 L376.57,438.43 L379.87,438.00 L380.19,437.16 L380.41,436.60 L378.26,434.07 L379.03,432.32 L382.22,432.49 L382.62,431.69 L382.89,431.16 L381.10,428.16 L382.03,426.51 L385.06,427.27 L385.52,426.52 L385.83,426.03 L384.45,422.62 L385.51,421.09 L388.32,422.44 L388.84,421.76 L389.20,421.31 L388.24,417.55 L389.41,416.18 L391.95,418.09 L392.52,417.48 L392.91,417.09 L392.40,413.05 L393.66,411.86 L395.88,414.29 L396.49,413.78 L396.90,413.44 L396.84,409.20 L398.18,408.21 L400.03,411.12 L400.67,410.71 L401.10,410.44 L401.50,406.07 L402.88,405.31 L404.34,408.64 L404.99,408.33 L405.43,408.13 L406.27,403.72 L407.67,403.19 L408.71,406.89 L409.36,406.69 L409.80,406.57 L411.08,402.20 L412.47,401.92 L413.06,405.91 L413.71,405.83 L414.14,405.78 L415.83,401.53 L417.19,401.50 L417.33,405.71 L417.95,405.75 L418.37,405.78 L420.44,401.73 L421.73,401.95 L421.42,406.30 L422.01,406.45 L422.40,406.57 L424.81,402.79 L426.02,403.25 L425.26,407.66 L425.81,407.93 L426.17,408.12 L428.87,404.69 L429.98,405.39 L428.78,409.78 L429.27,410.16 L429.60,410.42 L432.54,407.40 L433.52,408.33 L431.91,412.61 L432.34,413.09 L432.62,413.42 L435.75,410.86 L436.59,412.00 L434.59,416.10 L434.96,416.67 L435.19,417.06 L438.45,415.02 L439.13,416.34 L436.78,420.18 L437.07,420.84 L437.25,421.28 L440.58,419.79 L441.09,421.27 L438.44,424.78 L438.64,425.51 L438.76,426.00 L442.10,425.08 L442.43,426.70 L439.53,429.81 L439.64,430.60 L439.71,431.13 L442.99,430.81 L443.13,432.53 L440.03,435.18 L440.05,436.01 L440.06,436.57 L443.22,436.85 L443.17,438.65 L439.93,440.80 L439.86,441.65 L439.81,442.22 L442.80,443.10 L442.56,444.94 L439.24,446.54 L439.08,447.41 L438.97,447.98 L441.74,449.44 L441.31,451.28 L437.97,452.31 L437.73,453.17 L437.56,453.75 L440.04,455.76 L439.43,457.57 L436.13,458.00 Z" fill="#fff" stroke="#333" stroke-width="0.85" stroke-linejoin="round" />
<ellipse cx="408.00" cy="448.50" rx="9.57" ry="16.50" transform="rotate(6 408.00 448.50)" fill="#fff" stroke="#333" stroke-width="0.9"/>
<path d="M409.4,432.5 Q419.5,448.5 409.0,464.5" fill="none" stroke="#333" stroke-width="0.8" stroke-linejoin="round"/>
<path d="M409.9,432.3 L415.2,431.2 L414.2,435.3" fill="none" stroke="#333" stroke-width="0.7" stroke-linejoin="round"/>
<path d="M404.7,463.4 L404.2,466.3 L410.9,465.3" fill="none" stroke="#333" stroke-width="0.7" stroke-linejoin="round"/>
<ellipse cx="459.15" cy="469.05" rx="14.32" ry="21.06" transform="rotate(21.30 459.15 469.05)" fill="#fff" stroke="#333" stroke-width="0.6" />
<ellipse cx="459.80" cy="469.30" rx="14.32" ry="21.06" transform="rotate(21.30 459.80 469.30)" fill="#fff" stroke="#333" stroke-width="0.9" />
<ellipse cx="459.80" cy="469.30" rx="10.58" ry="15.56" transform="rotate(21.30 459.80 469.30)" fill="none" stroke="#333" stroke-width="1.8" />
<ellipse cx="460.55" cy="469.59" rx="9.84" ry="14.47" transform="rotate(21.30 460.55 469.59)" fill="none" stroke="#333" stroke-width="0.7" />
<path d="M532.73,497.39 L532.53,497.89 L534.65,500.26 L533.94,501.85 L530.89,501.59 L530.53,502.31 L530.29,502.78 L532.03,505.63 L531.18,507.13 L528.31,506.26 L527.89,506.94 L527.60,507.38 L528.95,510.64 L527.97,512.02 L525.34,510.57 L524.86,511.18 L524.54,511.58 L525.45,515.20 L524.37,516.42 L522.02,514.42 L521.50,514.95 L521.15,515.30 L521.62,519.20 L520.45,520.24 L518.44,517.73 L517.88,518.18 L517.51,518.47 L517.52,522.56 L516.30,523.41 L514.66,520.44 L514.08,520.79 L513.69,521.02 L513.25,525.23 L511.99,525.86 L510.76,522.49 L510.17,522.74 L509.78,522.89 L508.88,527.13 L507.61,527.54 L506.82,523.84 L506.23,523.98 L505.84,524.06 L504.51,528.25 L503.26,528.42 L502.92,524.46 L502.34,524.48 L501.96,524.49 L500.23,528.54 L499.02,528.47 L499.14,524.33 L498.59,524.25 L498.22,524.19 L496.12,528.01 L494.98,527.70 L495.55,523.47 L495.04,523.28 L494.70,523.14 L492.27,526.66 L491.22,526.12 L492.24,521.89 L491.77,521.59 L491.46,521.38 L488.76,524.53 L487.81,523.77 L489.26,519.62 L488.84,519.22 L488.57,518.95 L485.65,521.66 L484.84,520.69 L486.67,516.70 L486.33,516.22 L486.10,515.88 L483.02,518.10 L482.35,516.95 L484.54,513.21 L484.26,512.64 L484.09,512.25 L480.91,513.93 L480.40,512.62 L482.90,509.20 L482.70,508.56 L482.57,508.12 L479.36,509.23 L479.02,507.79 L481.79,504.76 L481.67,504.06 L481.60,503.59 L478.42,504.11 L478.26,502.55 L481.23,499.98 L481.19,499.24 L481.17,498.74 L478.09,498.65 L478.11,497.02 L481.23,494.95 L481.27,494.19 L481.31,493.67 L478.39,492.98 L478.59,491.31 L481.78,489.79 L481.92,489.01 L482.01,488.49 L479.30,487.21 L479.68,485.53 L482.89,484.59 L483.10,483.82 L483.25,483.30 L480.82,481.46 L481.36,479.81 L484.53,479.46 L484.81,478.71 L485.01,478.20 L482.90,475.84 L483.61,474.25 L486.65,474.51 L487.01,473.79 L487.26,473.31 L485.51,470.46 L486.36,468.97 L489.23,469.83 L489.66,469.16 L489.94,468.71 L488.60,465.45 L489.57,464.08 L492.21,465.52 L492.69,464.91 L493.01,464.51 L492.09,460.90 L493.17,459.68 L495.52,461.67 L496.04,461.14 L496.40,460.79 L495.93,456.90 L497.09,455.85 L499.11,458.36 L499.66,457.92 L500.04,457.63 L500.03,453.53 L501.25,452.68 L502.89,455.65 L503.47,455.30 L503.85,455.08 L504.30,450.87 L505.56,450.23 L506.79,453.60 L507.38,453.36 L507.77,453.20 L508.67,448.96 L509.94,448.55 L510.73,452.26 L511.32,452.12 L511.71,452.03 L513.03,447.85 L514.29,447.68 L514.63,451.64 L515.20,451.61 L515.59,451.60 L517.32,447.56 L518.53,447.63 L518.41,451.76 L518.96,451.84 L519.33,451.91 L521.42,448.09 L522.57,448.39 L521.99,452.62 L522.51,452.81 L522.85,452.95 L525.27,449.43 L526.33,449.97 L525.31,454.20 L525.78,454.50 L526.09,454.71 L528.79,451.56 L529.73,452.32 L528.29,456.48 L528.70,456.87 L528.97,457.15 L531.89,454.44 L532.71,455.40 L530.87,459.39 L531.22,459.88 L531.45,460.21 L534.53,457.99 L535.20,459.14 L533.00,462.89 L533.28,463.46 L533.46,463.84 L536.64,462.16 L537.15,463.48 L534.64,466.90 L534.84,467.54 L534.97,467.97 L538.19,466.86 L538.52,468.31 L535.76,471.34 L535.88,472.03 L535.95,472.50 L539.13,471.99 L539.29,473.54 L536.32,476.12 L536.35,476.86 L536.37,477.35 L539.46,477.44 L539.44,479.07 L536.32,481.14 L536.27,481.91 L536.23,482.42 L539.16,483.11 L538.96,484.78 L535.76,486.30 L535.63,487.08 L535.54,487.60 L538.25,488.88 L537.87,490.56 L534.65,491.50 L534.44,492.28 L534.29,492.80 L536.73,494.64 L536.18,496.29 L533.02,496.63 Z" fill="#fff" stroke="#333" stroke-width="0.85" stroke-linejoin="round" />
<line x1="494.94" y1="527.58" x2="491.22" y2="526.12" stroke="#333" stroke-width="0.765" />
<line x1="495.96" y1="523.34" x2="492.24" y2="521.89" stroke="#333" stroke-width="0.765" />
<line x1="495.49" y1="523.04" x2="491.77" y2="521.59" stroke="#333" stroke-width="0.765" />
<line x1="495.18" y1="522.84" x2="491.46" y2="521.38" stroke="#333" stroke-width="0.765" />
<line x1="492.49" y1="525.98" x2="488.76" y2="524.53" stroke="#333" stroke-width="0.765" />
<line x1="491.54" y1="525.23" x2="487.81" y2="523.77" stroke="#333" stroke-width="0.765" />
<line x1="492.98" y1="521.07" x2="489.26" y2="519.62" stroke="#333" stroke-width="0.765" />
<line x1="492.57" y1="520.67" x2="488.84" y2="519.22" stroke="#333" stroke-width="0.765" />
<line x1="492.30" y1="520.40" x2="488.57" y2="518.95" stroke="#333" stroke-width="0.765" />
<line x1="489.38" y1="523.11" x2="485.65" y2="521.66" stroke="#333" stroke-width="0.765" />
<line x1="488.56" y1="522.15" x2="484.84" y2="520.69" stroke="#333" stroke-width="0.765" />
<line x1="490.40" y1="518.16" x2="486.67" y2="516.70" stroke="#333" stroke-width="0.765" />
<line x1="490.05" y1="517.67" x2="486.33" y2="516.22" stroke="#333" stroke-width="0.765" />
<line x1="489.82" y1="517.34" x2="486.10" y2="515.88" stroke="#333" stroke-width="0.765" />
<line x1="486.74" y1="519.55" x2="483.02" y2="518.10" stroke="#333" stroke-width="0.765" />
<line x1="486.08" y1="518.40" x2="482.35" y2="516.95" stroke="#333" stroke-width="0.765" />
<line x1="488.27" y1="514.66" x2="484.54" y2="513.21" stroke="#333" stroke-width="0.765" />
<line x1="487.99" y1="514.09" x2="484.26" y2="512.64" stroke="#333" stroke-width="0.765" />
<line x1="487.81" y1="513.70" x2="484.09" y2="512.25" stroke="#333" stroke-width="0.765" />
<line x1="484.63" y1="515.38" x2="480.91" y2="513.93" stroke="#333" stroke-width="0.765" />
<line x1="484.12" y1="514.07" x2="480.40" y2="512.62" stroke="#333" stroke-width="0.765" />
<line x1="486.63" y1="510.65" x2="482.90" y2="509.20" stroke="#333" stroke-width="0.765" />
<line x1="486.43" y1="510.01" x2="482.70" y2="508.56" stroke="#333" stroke-width="0.765" />
<line x1="486.30" y1="509.58" x2="482.57" y2="508.12" stroke="#333" stroke-width="0.765" />
<line x1="483.09" y1="510.69" x2="479.36" y2="509.23" stroke="#333" stroke-width="0.765" />
<line x1="482.75" y1="509.24" x2="479.02" y2="507.79" stroke="#333" stroke-width="0.765" />
<line x1="485.52" y1="506.21" x2="481.79" y2="504.76" stroke="#333" stroke-width="0.765" />
<line x1="485.40" y1="505.51" x2="481.67" y2="504.06" stroke="#333" stroke-width="0.765" />
<line x1="485.32" y1="505.04" x2="481.60" y2="503.59" stroke="#333" stroke-width="0.765" />
<line x1="482.14" y1="505.56" x2="478.42" y2="504.11" stroke="#333" stroke-width="0.765" />
<line x1="481.98" y1="504.01" x2="478.26" y2="502.55" stroke="#333" stroke-width="0.765" />
<line x1="484.95" y1="501.43" x2="481.23" y2="499.98" stroke="#333" stroke-width="0.765" />
<line x1="484.92" y1="500.69" x2="481.19" y2="499.24" stroke="#333" stroke-width="0.765" />
<line x1="484.90" y1="500.19" x2="481.17" y2="498.74" stroke="#333" stroke-width="0.765" />
<line x1="481.81" y1="500.10" x2="478.09" y2="498.65" stroke="#333" stroke-width="0.765" />
<line x1="481.84" y1="498.48" x2="478.11" y2="497.02" stroke="#333" stroke-width="0.765" />
<line x1="484.95" y1="496.41" x2="481.23" y2="494.95" stroke="#333" stroke-width="0.765" />
<line x1="485.00" y1="495.64" x2="481.27" y2="494.19" stroke="#333" stroke-width="0.765" />
<line x1="485.04" y1="495.13" x2="481.31" y2="493.67" stroke="#333" stroke-width="0.765" />
<line x1="482.11" y1="494.43" x2="478.39" y2="492.98" stroke="#333" stroke-width="0.765" />
<line x1="482.31" y1="492.76" x2="478.59" y2="491.31" stroke="#333" stroke-width="0.765" />
<line x1="485.51" y1="491.24" x2="481.78" y2="489.79" stroke="#333" stroke-width="0.765" />
<line x1="485.64" y1="490.46" x2="481.92" y2="489.01" stroke="#333" stroke-width="0.765" />
<line x1="485.74" y1="489.94" x2="482.01" y2="488.49" stroke="#333" stroke-width="0.765" />
<line x1="483.03" y1="488.66" x2="479.30" y2="487.21" stroke="#333" stroke-width="0.765" />
<line x1="483.41" y1="486.99" x2="479.68" y2="485.53" stroke="#333" stroke-width="0.765" />
<line x1="486.62" y1="486.04" x2="482.89" y2="484.59" stroke="#333" stroke-width="0.765" />
<line x1="486.83" y1="485.27" x2="483.10" y2="483.82" stroke="#333" stroke-width="0.765" />
<line x1="486.98" y1="484.75" x2="483.25" y2="483.30" stroke="#333" stroke-width="0.765" />
<line x1="484.54" y1="482.91" x2="480.82" y2="481.46" stroke="#333" stroke-width="0.765" />
<line x1="485.09" y1="481.26" x2="481.36" y2="479.81" stroke="#333" stroke-width="0.765" />
<line x1="488.25" y1="480.92" x2="484.53" y2="479.46" stroke="#333" stroke-width="0.765" />
<line x1="488.54" y1="480.16" x2="484.81" y2="478.71" stroke="#333" stroke-width="0.765" />
<line x1="488.74" y1="479.66" x2="485.01" y2="478.20" stroke="#333" stroke-width="0.765" />
<line x1="486.63" y1="477.29" x2="482.90" y2="475.84" stroke="#333" stroke-width="0.765" />
<line x1="487.33" y1="475.70" x2="483.61" y2="474.25" stroke="#333" stroke-width="0.765" />
<line x1="490.38" y1="475.96" x2="486.65" y2="474.51" stroke="#333" stroke-width="0.765" />
<line x1="490.74" y1="475.24" x2="487.01" y2="473.79" stroke="#333" stroke-width="0.765" />
<line x1="490.99" y1="474.76" x2="487.26" y2="473.31" stroke="#333" stroke-width="0.765" />
<line x1="489.24" y1="471.92" x2="485.51" y2="470.46" stroke="#333" stroke-width="0.765" />
<line x1="490.09" y1="470.42" x2="486.36" y2="468.97" stroke="#333" stroke-width="0.765" />
<line x1="492.96" y1="471.28" x2="489.23" y2="469.83" stroke="#333" stroke-width="0.765" />
<line x1="493.38" y1="470.61" x2="489.66" y2="469.16" stroke="#333" stroke-width="0.765" />
<line x1="493.67" y1="470.17" x2="489.94" y2="468.71" stroke="#333" stroke-width="0.765" />
<line x1="492.32" y1="466.90" x2="488.60" y2="465.45" stroke="#333" stroke-width="0.765" />
<line x1="493.30" y1="465.53" x2="489.57" y2="464.08" stroke="#333" stroke-width="0.765" />
<line x1="495.94" y1="466.98" x2="492.21" y2="465.52" stroke="#333" stroke-width="0.765" />
<line x1="496.41" y1="466.37" x2="492.69" y2="464.91" stroke="#333" stroke-width="0.765" />
<line x1="496.74" y1="465.97" x2="493.01" y2="464.51" stroke="#333" stroke-width="0.765" />
<line x1="495.82" y1="462.35" x2="492.09" y2="460.90" stroke="#333" stroke-width="0.765" />
<line x1="496.90" y1="461.13" x2="493.17" y2="459.68" stroke="#333" stroke-width="0.765" />
<line x1="499.25" y1="463.13" x2="495.52" y2="461.67" stroke="#333" stroke-width="0.765" />
<line x1="499.77" y1="462.59" x2="496.04" y2="461.14" stroke="#333" stroke-width="0.765" />
<line x1="500.12" y1="462.25" x2="496.40" y2="460.79" stroke="#333" stroke-width="0.765" />
<line x1="499.66" y1="458.35" x2="495.93" y2="456.90" stroke="#333" stroke-width="0.765" />
<line x1="500.82" y1="457.31" x2="497.09" y2="455.85" stroke="#333" stroke-width="0.765" />
<line x1="502.83" y1="459.81" x2="499.11" y2="458.36" stroke="#333" stroke-width="0.765" />
<line x1="503.39" y1="459.37" x2="499.66" y2="457.92" stroke="#333" stroke-width="0.765" />
<line x1="503.76" y1="459.08" x2="500.04" y2="457.63" stroke="#333" stroke-width="0.765" />
<line x1="503.75" y1="454.98" x2="500.03" y2="453.53" stroke="#333" stroke-width="0.765" />
<line x1="504.98" y1="454.14" x2="501.25" y2="452.68" stroke="#333" stroke-width="0.765" />
<line x1="506.61" y1="457.11" x2="502.89" y2="455.65" stroke="#333" stroke-width="0.765" />
<line x1="507.19" y1="456.76" x2="503.47" y2="455.30" stroke="#333" stroke-width="0.765" />
<line x1="507.58" y1="456.53" x2="503.85" y2="455.08" stroke="#333" stroke-width="0.765" />
<line x1="508.03" y1="452.32" x2="504.30" y2="450.87" stroke="#333" stroke-width="0.765" />
<line x1="509.29" y1="451.69" x2="505.56" y2="450.23" stroke="#333" stroke-width="0.765" />
<line x1="510.51" y1="455.06" x2="506.79" y2="453.60" stroke="#333" stroke-width="0.765" />
<line x1="511.10" y1="454.81" x2="507.38" y2="453.36" stroke="#333" stroke-width="0.765" />
<line x1="511.50" y1="454.65" x2="507.77" y2="453.20" stroke="#333" stroke-width="0.765" />
<line x1="512.39" y1="450.41" x2="508.67" y2="448.96" stroke="#333" stroke-width="0.765" />
<line x1="513.66" y1="450.01" x2="509.94" y2="448.55" stroke="#333" stroke-width="0.765" />
<line x1="514.45" y1="453.71" x2="510.73" y2="452.26" stroke="#333" stroke-width="0.765" />
<line x1="515.04" y1="453.57" x2="511.32" y2="452.12" stroke="#333" stroke-width="0.765" />
<line x1="515.44" y1="453.49" x2="511.71" y2="452.03" stroke="#333" stroke-width="0.765" />
<line x1="516.76" y1="449.30" x2="513.03" y2="447.85" stroke="#333" stroke-width="0.765" />
<line x1="518.02" y1="449.13" x2="514.29" y2="447.68" stroke="#333" stroke-width="0.765" />
<line x1="518.35" y1="453.09" x2="514.63" y2="451.64" stroke="#333" stroke-width="0.765" />
<line x1="518.93" y1="453.06" x2="515.20" y2="451.61" stroke="#333" stroke-width="0.765" />
<line x1="519.31" y1="453.05" x2="515.59" y2="451.60" stroke="#333" stroke-width="0.765" />
<line x1="521.04" y1="449.01" x2="517.32" y2="447.56" stroke="#333" stroke-width="0.765" />
<line x1="522.26" y1="449.08" x2="518.53" y2="447.63" stroke="#333" stroke-width="0.765" />
<line x1="522.14" y1="453.21" x2="518.41" y2="451.76" stroke="#333" stroke-width="0.765" />
<line x1="522.69" y1="453.30" x2="518.96" y2="451.84" stroke="#333" stroke-width="0.765" />
<line x1="523.05" y1="453.36" x2="519.33" y2="451.91" stroke="#333" stroke-width="0.765" />
<line x1="525.15" y1="449.54" x2="521.42" y2="448.09" stroke="#333" stroke-width="0.765" />
<line x1="526.30" y1="449.85" x2="522.57" y2="448.39" stroke="#333" stroke-width="0.765" />
<path d="M492.49,525.98 L491.54,525.23 L487.81,523.77 L488.76,524.53 Z" fill="#fff" stroke="#333" stroke-width="0.765" stroke-linejoin="round" />
<path d="M489.38,523.11 L488.56,522.15 L484.84,520.69 L485.65,521.66 Z" fill="#fff" stroke="#333" stroke-width="0.765" stroke-linejoin="round" />
<path d="M486.74,519.55 L486.08,518.40 L482.35,516.95 L483.02,518.10 Z" fill="#fff" stroke="#333" stroke-width="0.765" stroke-linejoin="round" />
<path d="M484.63,515.38 L484.12,514.07 L480.40,512.62 L480.91,513.93 Z" fill="#fff" stroke="#333" stroke-width="0.765" stroke-linejoin="round" />
<path d="M483.09,510.69 L482.75,509.24 L479.02,507.79 L479.36,509.23 Z" fill="#fff" stroke="#333" stroke-width="0.765" stroke-linejoin="round" />
<path d="M482.14,505.56 L481.98,504.01 L478.26,502.55 L478.42,504.11 Z" fill="#fff" stroke="#333" stroke-width="0.765" stroke-linejoin="round" />
<path d="M481.81,500.10 L481.84,498.48 L478.11,497.02 L478.09,498.65 Z" fill="#fff" stroke="#333" stroke-width="0.765" stroke-linejoin="round" />
<path d="M482.11,494.43 L482.31,492.76 L478.59,491.31 L478.39,492.98 Z" fill="#fff" stroke="#333" stroke-width="0.765" stroke-linejoin="round" />
<path d="M483.03,488.66 L483.41,486.99 L479.68,485.53 L479.30,487.21 Z" fill="#fff" stroke="#333" stroke-width="0.765" stroke-linejoin="round" />
<path d="M484.54,482.91 L485.09,481.26 L481.36,479.81 L480.82,481.46 Z" fill="#fff" stroke="#333" stroke-width="0.765" stroke-linejoin="round" />
<path d="M486.63,477.29 L487.33,475.70 L483.61,474.25 L482.90,475.84 Z" fill="#fff" stroke="#333" stroke-width="0.765" stroke-linejoin="round" />
<path d="M489.24,471.92 L490.09,470.42 L486.36,468.97 L485.51,470.46 Z" fill="#fff" stroke="#333" stroke-width="0.765" stroke-linejoin="round" />
<path d="M492.32,466.90 L493.30,465.53 L489.57,464.08 L488.60,465.45 Z" fill="#fff" stroke="#333" stroke-width="0.765" stroke-linejoin="round" />
<path d="M495.82,462.35 L496.90,461.13 L493.17,459.68 L492.09,460.90 Z" fill="#fff" stroke="#333" stroke-width="0.765" stroke-linejoin="round" />
<path d="M499.66,458.35 L500.82,457.31 L497.09,455.85 L495.93,456.90 Z" fill="#fff" stroke="#333" stroke-width="0.765" stroke-linejoin="round" />
<path d="M503.75,454.98 L504.98,454.14 L501.25,452.68 L500.03,453.53 Z" fill="#fff" stroke="#333" stroke-width="0.765" stroke-linejoin="round" />
<path d="M508.03,452.32 L509.29,451.69 L505.56,450.23 L504.30,450.87 Z" fill="#fff" stroke="#333" stroke-width="0.765" stroke-linejoin="round" />
<path d="M512.39,450.41 L513.66,450.01 L509.94,448.55 L508.67,448.96 Z" fill="#fff" stroke="#333" stroke-width="0.765" stroke-linejoin="round" />
<path d="M516.76,449.30 L518.02,449.13 L514.29,447.68 L513.03,447.85 Z" fill="#fff" stroke="#333" stroke-width="0.765" stroke-linejoin="round" />
<path d="M521.04,449.01 L522.26,449.08 L518.53,447.63 L517.32,447.56 Z" fill="#fff" stroke="#333" stroke-width="0.765" stroke-linejoin="round" />
<path d="M536.46,498.84 L536.26,499.34 L538.37,501.71 L537.67,503.30 L534.62,503.04 L534.26,503.76 L534.01,504.24 L535.76,507.08 L534.91,508.58 L532.04,507.72 L531.62,508.39 L531.33,508.83 L532.68,512.10 L531.70,513.47 L529.06,512.02 L528.59,512.63 L528.26,513.03 L529.18,516.65 L528.10,517.87 L525.75,515.87 L525.23,516.41 L524.88,516.75 L525.34,520.65 L524.18,521.69 L522.17,519.19 L521.61,519.63 L521.24,519.92 L521.25,524.02 L520.02,524.86 L518.39,521.89 L517.81,522.24 L517.42,522.47 L516.97,526.68 L515.71,527.31 L514.49,523.94 L513.90,524.19 L513.50,524.35 L512.61,528.59 L511.34,528.99 L510.55,525.29 L509.96,525.43 L509.56,525.51 L508.24,529.70 L506.98,529.87 L506.65,525.91 L506.07,525.94 L505.69,525.95 L503.96,529.99 L502.74,529.92 L502.86,525.79 L502.31,525.70 L501.95,525.64 L499.85,529.46 L498.70,529.15 L499.28,524.92 L498.76,524.73 L498.42,524.60 L496.00,528.12 L494.94,527.58 L495.96,523.34 L495.49,523.04 L495.18,522.84 L492.49,525.98 L491.54,525.23 L492.98,521.07 L492.57,520.67 L492.30,520.40 L489.38,523.11 L488.56,522.15 L490.40,518.16 L490.05,517.67 L489.82,517.34 L486.74,519.55 L486.08,518.40 L488.27,514.66 L487.99,514.09 L487.81,513.70 L484.63,515.38 L484.12,514.07 L486.63,510.65 L486.43,510.01 L486.30,509.58 L483.09,510.69 L482.75,509.24 L485.52,506.21 L485.40,505.51 L485.32,505.04 L482.14,505.56 L481.98,504.01 L484.95,501.43 L484.92,500.69 L484.90,500.19 L481.81,500.10 L481.84,498.48 L484.95,496.41 L485.00,495.64 L485.04,495.13 L482.11,494.43 L482.31,492.76 L485.51,491.24 L485.64,490.46 L485.74,489.94 L483.03,488.66 L483.41,486.99 L486.62,486.04 L486.83,485.27 L486.98,484.75 L484.54,482.91 L485.09,481.26 L488.25,480.92 L488.54,480.16 L488.74,479.66 L486.63,477.29 L487.33,475.70 L490.38,475.96 L490.74,475.24 L490.99,474.76 L489.24,471.92 L490.09,470.42 L492.96,471.28 L493.38,470.61 L493.67,470.17 L492.32,466.90 L493.30,465.53 L495.94,466.98 L496.41,466.37 L496.74,465.97 L495.82,462.35 L496.90,461.13 L499.25,463.13 L499.77,462.59 L500.12,462.25 L499.66,458.35 L500.82,457.31 L502.83,459.81 L503.39,459.37 L503.76,459.08 L503.75,454.98 L504.98,454.14 L506.61,457.11 L507.19,456.76 L507.58,456.53 L508.03,452.32 L509.29,451.69 L510.51,455.06 L511.10,454.81 L511.50,454.65 L512.39,450.41 L513.66,450.01 L514.45,453.71 L515.04,453.57 L515.44,453.49 L516.76,449.30 L518.02,449.13 L518.35,453.09 L518.93,453.06 L519.31,453.05 L521.04,449.01 L522.26,449.08 L522.14,453.21 L522.69,453.30 L523.05,453.36 L525.15,449.54 L526.30,449.85 L525.72,454.08 L526.24,454.27 L526.58,454.40 L529.00,450.88 L530.06,451.42 L529.04,455.66 L529.51,455.96 L529.82,456.16 L532.51,453.02 L533.46,453.77 L532.02,457.93 L532.43,458.33 L532.70,458.60 L535.62,455.89 L536.44,456.85 L534.60,460.84 L534.95,461.33 L535.18,461.66 L538.26,459.45 L538.92,460.60 L536.73,464.34 L537.01,464.91 L537.19,465.30 L540.37,463.62 L540.88,464.93 L538.37,468.35 L538.57,468.99 L538.70,469.42 L541.91,468.31 L542.25,469.76 L539.48,472.79 L539.60,473.49 L539.68,473.96 L542.86,473.44 L543.02,474.99 L540.05,477.57 L540.08,478.31 L540.10,478.81 L543.19,478.90 L543.16,480.52 L540.05,482.59 L540.00,483.36 L539.96,483.87 L542.89,484.57 L542.69,486.24 L539.49,487.76 L539.36,488.54 L539.26,489.06 L541.97,490.34 L541.59,492.01 L538.38,492.96 L538.17,493.73 L538.02,494.25 L540.46,496.09 L539.91,497.74 L536.75,498.08 Z" fill="#fff" stroke="#333" stroke-width="0.85" stroke-linejoin="round" />
<ellipse cx="512.75" cy="490.25" rx="9.69" ry="17.00" transform="rotate(6 512.75 490.25)" fill="#fff" stroke="#333" stroke-width="0.9"/>
<path d="M514.2,473.8 Q524.4,490.2 513.7,506.7" fill="none" stroke="#333" stroke-width="0.8" stroke-linejoin="round"/>
<path d="M514.7,473.6 L520.0,472.4 L519.0,476.6" fill="none" stroke="#333" stroke-width="0.7" stroke-linejoin="round"/>
<path d="M509.4,505.6 L508.9,508.6 L515.7,507.6" fill="none" stroke="#333" stroke-width="0.7" stroke-linejoin="round"/>
<ellipse cx="554.65" cy="506.75" rx="14.39" ry="21.16" transform="rotate(21.30 554.65 506.75)" fill="#fff" stroke="#333" stroke-width="0.6" />
<ellipse cx="555.30" cy="507.00" rx="14.39" ry="21.16" transform="rotate(21.30 555.30 507.00)" fill="#fff" stroke="#333" stroke-width="0.9" />
<ellipse cx="555.30" cy="507.00" rx="10.93" ry="16.08" transform="rotate(21.30 555.30 507.00)" fill="none" stroke="#333" stroke-width="1.8" />
<ellipse cx="556.05" cy="507.29" rx="10.17" ry="14.96" transform="rotate(21.30 556.05 507.29)" fill="none" stroke="#333" stroke-width="0.7" />
<path d="M615.44,529.52 L615.23,530.04 L616.79,532.24 L616.03,533.88 L613.48,533.84 L613.09,534.57 L612.83,535.06 L613.96,537.72 L613.02,539.22 L610.65,538.54 L610.18,539.20 L609.86,539.63 L610.53,542.66 L609.44,543.97 L607.32,542.68 L606.78,543.24 L606.42,543.61 L606.61,546.91 L605.41,547.98 L603.61,546.11 L603.03,546.56 L602.64,546.85 L602.35,550.30 L601.06,551.11 L599.66,548.73 L599.05,549.04 L598.65,549.24 L597.87,552.73 L596.56,553.25 L595.59,550.44 L594.98,550.61 L594.57,550.71 L593.34,554.12 L592.04,554.32 L591.54,551.18 L590.95,551.20 L590.55,551.21 L588.92,554.42 L587.67,554.30 L587.66,550.93 L587.10,550.80 L586.73,550.71 L584.74,553.61 L583.59,553.17 L584.07,549.69 L583.56,549.42 L583.23,549.23 L580.95,551.73 L579.95,550.99 L580.89,547.52 L580.46,547.11 L580.18,546.83 L577.69,548.84 L576.86,547.82 L578.24,544.47 L577.89,543.95 L577.67,543.59 L575.06,545.03 L574.43,543.78 L576.20,540.67 L575.95,540.04 L575.80,539.61 L573.15,540.44 L572.74,538.99 L574.85,536.23 L574.71,535.51 L574.62,535.03 L572.03,535.23 L571.86,533.63 L574.22,531.30 L574.19,530.53 L574.18,530.01 L571.73,529.57 L571.80,527.87 L574.35,526.06 L574.43,525.26 L574.50,524.72 L572.27,523.65 L572.59,521.91 L575.22,520.69 L575.41,519.88 L575.55,519.34 L573.63,517.68 L574.17,515.96 L576.81,515.36 L577.11,514.57 L577.31,514.05 L575.76,511.85 L576.51,510.22 L579.06,510.26 L579.45,509.52 L579.72,509.04 L578.59,506.37 L579.53,504.88 L581.90,505.56 L582.37,504.90 L582.69,504.46 L582.02,501.43 L583.11,500.12 L585.23,501.42 L585.76,500.86 L586.12,500.49 L585.93,497.19 L587.14,496.11 L588.93,497.98 L589.51,497.54 L589.90,497.25 L590.20,493.79 L591.48,492.98 L592.89,495.37 L593.49,495.05 L593.90,494.85 L594.67,491.36 L595.99,490.85 L596.96,493.66 L597.57,493.48 L597.97,493.38 L599.20,489.97 L600.50,489.77 L601.00,492.92 L601.60,492.89 L601.99,492.89 L603.63,489.68 L604.87,489.80 L604.89,493.17 L605.45,493.29 L605.82,493.39 L607.81,490.48 L608.95,490.92 L608.48,494.40 L608.98,494.67 L609.32,494.86 L611.59,492.37 L612.60,493.10 L611.65,496.58 L612.09,496.98 L612.37,497.26 L614.86,495.26 L615.69,496.27 L614.31,499.62 L614.65,500.15 L614.88,500.51 L617.49,499.06 L618.12,500.32 L616.35,503.43 L616.59,504.06 L616.75,504.48 L619.40,503.65 L619.80,505.10 L617.70,507.87 L617.84,508.58 L617.93,509.06 L620.52,508.86 L620.69,510.47 L618.33,512.79 L618.35,513.56 L618.36,514.08 L620.81,514.53 L620.74,516.23 L618.20,518.03 L618.12,518.83 L618.05,519.37 L620.27,520.45 L619.96,522.18 L617.33,523.41 L617.13,524.21 L616.99,524.75 L618.91,526.42 L618.37,528.13 L615.74,528.74 Z" fill="#fff" stroke="#333" stroke-width="0.85" stroke-linejoin="round" />
<line x1="587.79" y1="551.14" x2="584.07" y2="549.69" stroke="#333" stroke-width="0.765" />
<line x1="587.29" y1="550.88" x2="583.56" y2="549.42" stroke="#333" stroke-width="0.765" />
<line x1="586.96" y1="550.69" x2="583.23" y2="549.23" stroke="#333" stroke-width="0.765" />
<line x1="584.68" y1="553.18" x2="580.95" y2="551.73" stroke="#333" stroke-width="0.765" />
<line x1="583.67" y1="552.44" x2="579.95" y2="550.99" stroke="#333" stroke-width="0.765" />
<line x1="584.62" y1="548.97" x2="580.89" y2="547.52" stroke="#333" stroke-width="0.765" />
<line x1="584.18" y1="548.57" x2="580.46" y2="547.11" stroke="#333" stroke-width="0.765" />
<line x1="583.90" y1="548.29" x2="580.18" y2="546.83" stroke="#333" stroke-width="0.765" />
<line x1="581.42" y1="550.29" x2="577.69" y2="548.84" stroke="#333" stroke-width="0.765" />
<line x1="580.58" y1="549.27" x2="576.86" y2="547.82" stroke="#333" stroke-width="0.765" />
<line x1="581.97" y1="545.93" x2="578.24" y2="544.47" stroke="#333" stroke-width="0.765" />
<line x1="581.62" y1="545.40" x2="577.89" y2="543.95" stroke="#333" stroke-width="0.765" />
<line x1="581.40" y1="545.04" x2="577.67" y2="543.59" stroke="#333" stroke-width="0.765" />
<line x1="578.78" y1="546.48" x2="575.06" y2="545.03" stroke="#333" stroke-width="0.765" />
<line x1="578.15" y1="545.23" x2="574.43" y2="543.78" stroke="#333" stroke-width="0.765" />
<line x1="579.93" y1="542.12" x2="576.20" y2="540.67" stroke="#333" stroke-width="0.765" />
<line x1="579.68" y1="541.49" x2="575.95" y2="540.04" stroke="#333" stroke-width="0.765" />
<line x1="579.52" y1="541.06" x2="575.80" y2="539.61" stroke="#333" stroke-width="0.765" />
<line x1="576.88" y1="541.90" x2="573.15" y2="540.44" stroke="#333" stroke-width="0.765" />
<line x1="576.47" y1="540.44" x2="572.74" y2="538.99" stroke="#333" stroke-width="0.765" />
<line x1="578.57" y1="537.68" x2="574.85" y2="536.23" stroke="#333" stroke-width="0.765" />
<line x1="578.43" y1="536.97" x2="574.71" y2="535.51" stroke="#333" stroke-width="0.765" />
<line x1="578.35" y1="536.49" x2="574.62" y2="535.03" stroke="#333" stroke-width="0.765" />
<line x1="575.76" y1="536.68" x2="572.03" y2="535.23" stroke="#333" stroke-width="0.765" />
<line x1="575.58" y1="535.08" x2="571.86" y2="533.63" stroke="#333" stroke-width="0.765" />
<line x1="577.95" y1="532.75" x2="574.22" y2="531.30" stroke="#333" stroke-width="0.765" />
<line x1="577.92" y1="531.98" x2="574.19" y2="530.53" stroke="#333" stroke-width="0.765" />
<line x1="577.91" y1="531.47" x2="574.18" y2="530.01" stroke="#333" stroke-width="0.765" />
<line x1="575.46" y1="531.02" x2="571.73" y2="529.57" stroke="#333" stroke-width="0.765" />
<line x1="575.53" y1="529.32" x2="571.80" y2="527.87" stroke="#333" stroke-width="0.765" />
<line x1="578.07" y1="527.52" x2="574.35" y2="526.06" stroke="#333" stroke-width="0.765" />
<line x1="578.16" y1="526.71" x2="574.43" y2="525.26" stroke="#333" stroke-width="0.765" />
<line x1="578.22" y1="526.18" x2="574.50" y2="524.72" stroke="#333" stroke-width="0.765" />
<line x1="576.00" y1="525.10" x2="572.27" y2="523.65" stroke="#333" stroke-width="0.765" />
<line x1="576.31" y1="523.37" x2="572.59" y2="521.91" stroke="#333" stroke-width="0.765" />
<line x1="578.95" y1="522.14" x2="575.22" y2="520.69" stroke="#333" stroke-width="0.765" />
<line x1="579.14" y1="521.33" x2="575.41" y2="519.88" stroke="#333" stroke-width="0.765" />
<line x1="579.28" y1="520.80" x2="575.55" y2="519.34" stroke="#333" stroke-width="0.765" />
<line x1="577.36" y1="519.13" x2="573.63" y2="517.68" stroke="#333" stroke-width="0.765" />
<line x1="577.90" y1="517.41" x2="574.17" y2="515.96" stroke="#333" stroke-width="0.765" />
<line x1="580.54" y1="516.81" x2="576.81" y2="515.36" stroke="#333" stroke-width="0.765" />
<line x1="580.83" y1="516.03" x2="577.11" y2="514.57" stroke="#333" stroke-width="0.765" />
<line x1="581.04" y1="515.51" x2="577.31" y2="514.05" stroke="#333" stroke-width="0.765" />
<line x1="579.49" y1="513.30" x2="575.76" y2="511.85" stroke="#333" stroke-width="0.765" />
<line x1="580.24" y1="511.67" x2="576.51" y2="510.22" stroke="#333" stroke-width="0.765" />
<line x1="582.79" y1="511.71" x2="579.06" y2="510.26" stroke="#333" stroke-width="0.765" />
<line x1="583.18" y1="510.98" x2="579.45" y2="509.52" stroke="#333" stroke-width="0.765" />
<line x1="583.45" y1="510.49" x2="579.72" y2="509.04" stroke="#333" stroke-width="0.765" />
<line x1="582.31" y1="507.83" x2="578.59" y2="506.37" stroke="#333" stroke-width="0.765" />
<line x1="583.25" y1="506.33" x2="579.53" y2="504.88" stroke="#333" stroke-width="0.765" />
<line x1="585.63" y1="507.01" x2="581.90" y2="505.56" stroke="#333" stroke-width="0.765" />
<line x1="586.10" y1="506.35" x2="582.37" y2="504.90" stroke="#333" stroke-width="0.765" />
<line x1="586.42" y1="505.92" x2="582.69" y2="504.46" stroke="#333" stroke-width="0.765" />
<line x1="585.74" y1="502.88" x2="582.02" y2="501.43" stroke="#333" stroke-width="0.765" />
<line x1="586.84" y1="501.57" x2="583.11" y2="500.12" stroke="#333" stroke-width="0.765" />
<line x1="588.95" y1="502.87" x2="585.23" y2="501.42" stroke="#333" stroke-width="0.765" />
<line x1="589.49" y1="502.31" x2="585.76" y2="500.86" stroke="#333" stroke-width="0.765" />
<line x1="589.85" y1="501.94" x2="586.12" y2="500.49" stroke="#333" stroke-width="0.765" />
<line x1="589.66" y1="498.64" x2="585.93" y2="497.19" stroke="#333" stroke-width="0.765" />
<line x1="590.87" y1="497.56" x2="587.14" y2="496.11" stroke="#333" stroke-width="0.765" />
<line x1="592.66" y1="499.44" x2="588.93" y2="497.98" stroke="#333" stroke-width="0.765" />
<line x1="593.24" y1="498.99" x2="589.51" y2="497.54" stroke="#333" stroke-width="0.765" />
<line x1="593.63" y1="498.70" x2="589.90" y2="497.25" stroke="#333" stroke-width="0.765" />
<line x1="593.93" y1="495.25" x2="590.20" y2="493.79" stroke="#333" stroke-width="0.765" />
<line x1="595.21" y1="494.44" x2="591.48" y2="492.98" stroke="#333" stroke-width="0.765" />
<line x1="596.61" y1="496.82" x2="592.89" y2="495.37" stroke="#333" stroke-width="0.765" />
<line x1="597.22" y1="496.50" x2="593.49" y2="495.05" stroke="#333" stroke-width="0.765" />
<line x1="597.62" y1="496.30" x2="593.90" y2="494.85" stroke="#333" stroke-width="0.765" />
<line x1="598.40" y1="492.81" x2="594.67" y2="491.36" stroke="#333" stroke-width="0.765" />
<line x1="599.71" y1="492.30" x2="595.99" y2="490.85" stroke="#333" stroke-width="0.765" />
<line x1="600.68" y1="495.11" x2="596.96" y2="493.66" stroke="#333" stroke-width="0.765" />
<line x1="601.29" y1="494.94" x2="597.57" y2="493.48" stroke="#333" stroke-width="0.765" />
<line x1="601.70" y1="494.83" x2="597.97" y2="493.38" stroke="#333" stroke-width="0.765" />
<line x1="602.93" y1="491.43" x2="599.20" y2="489.97" stroke="#333" stroke-width="0.765" />
<line x1="604.23" y1="491.23" x2="600.50" y2="489.77" stroke="#333" stroke-width="0.765" />
<line x1="604.73" y1="494.37" x2="601.00" y2="492.92" stroke="#333" stroke-width="0.765" />
<line x1="605.32" y1="494.34" x2="601.60" y2="492.89" stroke="#333" stroke-width="0.765" />
<line x1="605.72" y1="494.34" x2="601.99" y2="492.89" stroke="#333" stroke-width="0.765" />
<line x1="607.36" y1="491.13" x2="603.63" y2="489.68" stroke="#333" stroke-width="0.765" />
<line x1="608.60" y1="491.25" x2="604.87" y2="489.80" stroke="#333" stroke-width="0.765" />
<line x1="608.61" y1="494.62" x2="604.89" y2="493.17" stroke="#333" stroke-width="0.765" />
<line x1="609.17" y1="494.74" x2="605.45" y2="493.29" stroke="#333" stroke-width="0.765" />
<line x1="609.54" y1="494.84" x2="605.82" y2="493.39" stroke="#333" stroke-width="0.765" />
<path d="M584.68,553.18 L583.67,552.44 L579.95,550.99 L580.95,551.73 Z" fill="#fff" stroke="#333" stroke-width="0.765" stroke-linejoin="round" />
<path d="M581.42,550.29 L580.58,549.27 L576.86,547.82 L577.69,548.84 Z" fill="#fff" stroke="#333" stroke-width="0.765" stroke-linejoin="round" />
<path d="M578.78,546.48 L578.15,545.23 L574.43,543.78 L575.06,545.03 Z" fill="#fff" stroke="#333" stroke-width="0.765" stroke-linejoin="round" />
<path d="M576.88,541.90 L576.47,540.44 L572.74,538.99 L573.15,540.44 Z" fill="#fff" stroke="#333" stroke-width="0.765" stroke-linejoin="round" />
<path d="M575.76,536.68 L575.58,535.08 L571.86,533.63 L572.03,535.23 Z" fill="#fff" stroke="#333" stroke-width="0.765" stroke-linejoin="round" />
<path d="M575.46,531.02 L575.53,529.32 L571.80,527.87 L571.73,529.57 Z" fill="#fff" stroke="#333" stroke-width="0.765" stroke-linejoin="round" />
<path d="M576.00,525.10 L576.31,523.37 L572.59,521.91 L572.27,523.65 Z" fill="#fff" stroke="#333" stroke-width="0.765" stroke-linejoin="round" />
<path d="M577.36,519.13 L577.90,517.41 L574.17,515.96 L573.63,517.68 Z" fill="#fff" stroke="#333" stroke-width="0.765" stroke-linejoin="round" />
<path d="M579.49,513.30 L580.24,511.67 L576.51,510.22 L575.76,511.85 Z" fill="#fff" stroke="#333" stroke-width="0.765" stroke-linejoin="round" />
<path d="M582.31,507.83 L583.25,506.33 L579.53,504.88 L578.59,506.37 Z" fill="#fff" stroke="#333" stroke-width="0.765" stroke-linejoin="round" />
<path d="M585.74,502.88 L586.84,501.57 L583.11,500.12 L582.02,501.43 Z" fill="#fff" stroke="#333" stroke-width="0.765" stroke-linejoin="round" />
<path d="M589.66,498.64 L590.87,497.56 L587.14,496.11 L585.93,497.19 Z" fill="#fff" stroke="#333" stroke-width="0.765" stroke-linejoin="round" />
<path d="M593.93,495.25 L595.21,494.44 L591.48,492.98 L590.20,493.79 Z" fill="#fff" stroke="#333" stroke-width="0.765" stroke-linejoin="round" />
<path d="M598.40,492.81 L599.71,492.30 L595.99,490.85 L594.67,491.36 Z" fill="#fff" stroke="#333" stroke-width="0.765" stroke-linejoin="round" />
<path d="M602.93,491.43 L604.23,491.23 L600.50,489.77 L599.20,489.97 Z" fill="#fff" stroke="#333" stroke-width="0.765" stroke-linejoin="round" />
<path d="M607.36,491.13 L608.60,491.25 L604.87,489.80 L603.63,489.68 Z" fill="#fff" stroke="#333" stroke-width="0.765" stroke-linejoin="round" />
<path d="M619.17,530.97 L618.96,531.49 L620.51,533.70 L619.76,535.33 L617.21,535.29 L616.82,536.02 L616.55,536.51 L617.69,539.17 L616.75,540.67 L614.37,539.99 L613.90,540.65 L613.58,541.08 L614.26,544.12 L613.16,545.43 L611.05,544.13 L610.51,544.69 L610.15,545.06 L610.34,548.36 L609.13,549.44 L607.34,547.56 L606.76,548.01 L606.37,548.30 L606.07,551.75 L604.79,552.56 L603.39,550.18 L602.78,550.50 L602.38,550.70 L601.60,554.19 L600.29,554.70 L599.32,551.89 L598.71,552.06 L598.30,552.17 L597.07,555.57 L595.77,555.77 L595.27,552.63 L594.68,552.66 L594.28,552.66 L592.64,555.87 L591.40,555.75 L591.39,552.38 L590.83,552.26 L590.46,552.16 L588.46,555.06 L587.32,554.63 L587.79,551.14 L587.29,550.88 L586.96,550.69 L584.68,553.18 L583.67,552.44 L584.62,548.97 L584.18,548.57 L583.90,548.29 L581.42,550.29 L580.58,549.27 L581.97,545.93 L581.62,545.40 L581.40,545.04 L578.78,546.48 L578.15,545.23 L579.93,542.12 L579.68,541.49 L579.52,541.06 L576.88,541.90 L576.47,540.44 L578.57,537.68 L578.43,536.97 L578.35,536.49 L575.76,536.68 L575.58,535.08 L577.95,532.75 L577.92,531.98 L577.91,531.47 L575.46,531.02 L575.53,529.32 L578.07,527.52 L578.16,526.71 L578.22,526.18 L576.00,525.10 L576.31,523.37 L578.95,522.14 L579.14,521.33 L579.28,520.80 L577.36,519.13 L577.90,517.41 L580.54,516.81 L580.83,516.03 L581.04,515.51 L579.49,513.30 L580.24,511.67 L582.79,511.71 L583.18,510.98 L583.45,510.49 L582.31,507.83 L583.25,506.33 L585.63,507.01 L586.10,506.35 L586.42,505.92 L585.74,502.88 L586.84,501.57 L588.95,502.87 L589.49,502.31 L589.85,501.94 L589.66,498.64 L590.87,497.56 L592.66,499.44 L593.24,498.99 L593.63,498.70 L593.93,495.25 L595.21,494.44 L596.61,496.82 L597.22,496.50 L597.62,496.30 L598.40,492.81 L599.71,492.30 L600.68,495.11 L601.29,494.94 L601.70,494.83 L602.93,491.43 L604.23,491.23 L604.73,494.37 L605.32,494.34 L605.72,494.34 L607.36,491.13 L608.60,491.25 L608.61,494.62 L609.17,494.74 L609.54,494.84 L611.54,491.94 L612.68,492.37 L612.21,495.86 L612.71,496.12 L613.04,496.31 L615.32,493.82 L616.33,494.56 L615.38,498.03 L615.82,498.43 L616.10,498.71 L618.58,496.71 L619.42,497.73 L618.03,501.07 L618.38,501.60 L618.60,501.96 L621.22,500.52 L621.85,501.77 L620.07,504.88 L620.32,505.51 L620.48,505.94 L623.12,505.10 L623.53,506.56 L621.43,509.32 L621.57,510.03 L621.65,510.51 L624.24,510.32 L624.42,511.92 L622.05,514.25 L622.08,515.02 L622.09,515.53 L624.54,515.98 L624.47,517.68 L621.93,519.48 L621.84,520.29 L621.78,520.82 L624.00,521.90 L623.69,523.63 L621.05,524.86 L620.86,525.67 L620.72,526.20 L622.64,527.87 L622.10,529.59 L619.46,530.19 Z" fill="#fff" stroke="#333" stroke-width="0.85" stroke-linejoin="round" />
<ellipse cx="601.50" cy="525.30" rx="10.20" ry="17.00" transform="rotate(6 601.50 525.30)" fill="#fff" stroke="#333" stroke-width="0.9"/>
<path d="M603.0,508.8 Q613.7,525.3 602.5,541.8" fill="none" stroke="#333" stroke-width="0.8" stroke-linejoin="round"/>
<path d="M603.5,508.6 L609.1,507.4 L608.1,511.7" fill="none" stroke="#333" stroke-width="0.7" stroke-linejoin="round"/>
<path d="M597.9,540.6 L597.4,543.7 L604.6,542.6" fill="none" stroke="#333" stroke-width="0.7" stroke-linejoin="round"/>
<ellipse cx="642.05" cy="540.95" rx="14.18" ry="20.85" transform="rotate(21.30 642.05 540.95)" fill="#fff" stroke="#333" stroke-width="0.6" />
<ellipse cx="642.70" cy="541.20" rx="14.18" ry="20.85" transform="rotate(21.30 642.70 541.20)" fill="#fff" stroke="#333" stroke-width="0.9" />
<ellipse cx="642.70" cy="541.20" rx="10.48" ry="15.41" transform="rotate(21.30 642.70 541.20)" fill="none" stroke="#333" stroke-width="1.8" />
<ellipse cx="643.45" cy="541.49" rx="9.74" ry="14.33" transform="rotate(21.30 643.45 541.49)" fill="none" stroke="#333" stroke-width="0.7" />
<path d="M696.54,562.00 L696.32,562.54 L698.15,565.02 L697.30,566.78 L694.43,566.45 L694.00,567.20 L693.70,567.68 L694.90,570.86 L693.79,572.40 L691.25,571.12 L690.72,571.75 L690.36,572.16 L690.85,575.83 L689.56,577.07 L687.49,574.91 L686.89,575.38 L686.49,575.69 L686.24,579.65 L684.84,580.51 L683.38,577.60 L682.74,577.90 L682.32,578.08 L681.35,582.10 L679.92,582.53 L679.13,579.04 L678.50,579.14 L678.08,579.19 L676.45,583.04 L675.07,583.02 L675.02,579.15 L674.43,579.05 L674.04,578.96 L671.84,582.41 L670.59,581.93 L671.26,577.91 L670.75,577.61 L670.41,577.40 L667.77,580.24 L666.72,579.35 L668.09,575.40 L667.68,574.92 L667.41,574.59 L664.48,576.67 L663.70,575.40 L665.69,571.77 L665.40,571.14 L665.22,570.71 L662.17,571.90 L661.71,570.34 L664.19,567.22 L664.05,566.48 L663.97,565.97 L660.97,566.21 L660.85,564.44 L663.68,562.03 L663.69,561.21 L663.71,560.66 L660.96,559.93 L661.17,558.05 L664.20,556.48 L664.36,555.64 L664.48,555.08 L662.12,553.43 L662.67,551.55 L665.70,550.91 L666.01,550.10 L666.23,549.56 L664.39,547.07 L665.24,545.31 L668.12,545.64 L668.55,544.90 L668.85,544.41 L667.65,541.24 L668.75,539.69 L671.29,540.98 L671.83,540.35 L672.19,539.94 L671.70,536.27 L672.99,535.03 L675.05,537.19 L675.65,536.71 L676.06,536.40 L676.30,532.44 L677.70,531.58 L679.17,534.49 L679.80,534.20 L680.23,534.01 L681.20,529.99 L682.63,529.56 L683.41,533.05 L684.04,532.95 L684.46,532.90 L686.09,529.05 L687.47,529.08 L687.53,532.95 L688.12,533.05 L688.51,533.13 L690.71,529.69 L691.96,530.16 L691.28,534.19 L691.80,534.48 L692.14,534.70 L694.78,531.85 L695.82,532.75 L694.45,536.69 L694.87,537.17 L695.13,537.50 L698.06,535.42 L698.84,536.69 L696.86,540.33 L697.14,540.96 L697.32,541.39 L700.37,540.19 L700.84,541.76 L698.36,544.87 L698.50,545.62 L698.58,546.12 L701.57,545.88 L701.70,547.66 L698.87,550.07 L698.85,550.89 L698.83,551.43 L701.59,552.16 L701.37,554.04 L698.35,555.61 L698.19,556.45 L698.06,557.01 L700.43,558.67 L699.88,560.54 L696.84,561.18 Z" fill="#fff" stroke="#333" stroke-width="0.85" stroke-linejoin="round" />
<line x1="674.99" y1="579.36" x2="671.26" y2="577.91" stroke="#333" stroke-width="0.765" />
<line x1="674.47" y1="579.06" x2="670.75" y2="577.61" stroke="#333" stroke-width="0.765" />
<line x1="674.14" y1="578.85" x2="670.41" y2="577.40" stroke="#333" stroke-width="0.765" />
<line x1="671.49" y1="581.70" x2="667.77" y2="580.24" stroke="#333" stroke-width="0.765" />
<line x1="670.45" y1="580.80" x2="666.72" y2="579.35" stroke="#333" stroke-width="0.765" />
<line x1="671.82" y1="576.85" x2="668.09" y2="575.40" stroke="#333" stroke-width="0.765" />
<line x1="671.41" y1="576.38" x2="667.68" y2="574.92" stroke="#333" stroke-width="0.765" />
<line x1="671.14" y1="576.04" x2="667.41" y2="574.59" stroke="#333" stroke-width="0.765" />
<line x1="668.21" y1="578.13" x2="664.48" y2="576.67" stroke="#333" stroke-width="0.765" />
<line x1="667.43" y1="576.86" x2="663.70" y2="575.40" stroke="#333" stroke-width="0.765" />
<line x1="669.41" y1="573.22" x2="665.69" y2="571.77" stroke="#333" stroke-width="0.765" />
<line x1="669.13" y1="572.59" x2="665.40" y2="571.14" stroke="#333" stroke-width="0.765" />
<line x1="668.95" y1="572.16" x2="665.22" y2="570.71" stroke="#333" stroke-width="0.765" />
<line x1="665.90" y1="573.36" x2="662.17" y2="571.90" stroke="#333" stroke-width="0.765" />
<line x1="665.43" y1="571.79" x2="661.71" y2="570.34" stroke="#333" stroke-width="0.765" />
<line x1="667.91" y1="568.67" x2="664.19" y2="567.22" stroke="#333" stroke-width="0.765" />
<line x1="667.77" y1="567.93" x2="664.05" y2="566.48" stroke="#333" stroke-width="0.765" />
<line x1="667.69" y1="567.43" x2="663.97" y2="565.97" stroke="#333" stroke-width="0.765" />
<line x1="664.70" y1="567.67" x2="660.97" y2="566.21" stroke="#333" stroke-width="0.765" />
<line x1="664.57" y1="565.89" x2="660.85" y2="564.44" stroke="#333" stroke-width="0.765" />
<line x1="667.41" y1="563.48" x2="663.68" y2="562.03" stroke="#333" stroke-width="0.765" />
<line x1="667.42" y1="562.66" x2="663.69" y2="561.21" stroke="#333" stroke-width="0.765" />
<line x1="667.44" y1="562.11" x2="663.71" y2="560.66" stroke="#333" stroke-width="0.765" />
<line x1="664.68" y1="561.39" x2="660.96" y2="559.93" stroke="#333" stroke-width="0.765" />
<line x1="664.90" y1="559.51" x2="661.17" y2="558.05" stroke="#333" stroke-width="0.765" />
<line x1="667.92" y1="557.94" x2="664.20" y2="556.48" stroke="#333" stroke-width="0.765" />
<line x1="668.09" y1="557.09" x2="664.36" y2="555.64" stroke="#333" stroke-width="0.765" />
<line x1="668.21" y1="556.53" x2="664.48" y2="555.08" stroke="#333" stroke-width="0.765" />
<line x1="665.84" y1="554.88" x2="662.12" y2="553.43" stroke="#333" stroke-width="0.765" />
<line x1="666.39" y1="553.00" x2="662.67" y2="551.55" stroke="#333" stroke-width="0.765" />
<line x1="669.43" y1="552.37" x2="665.70" y2="550.91" stroke="#333" stroke-width="0.765" />
<line x1="669.74" y1="551.55" x2="666.01" y2="550.10" stroke="#333" stroke-width="0.765" />
<line x1="669.95" y1="551.01" x2="666.23" y2="549.56" stroke="#333" stroke-width="0.765" />
<line x1="668.12" y1="548.52" x2="664.39" y2="547.07" stroke="#333" stroke-width="0.765" />
<line x1="668.97" y1="546.76" x2="665.24" y2="545.31" stroke="#333" stroke-width="0.765" />
<line x1="671.84" y1="547.10" x2="668.12" y2="545.64" stroke="#333" stroke-width="0.765" />
<line x1="672.28" y1="546.35" x2="668.55" y2="544.90" stroke="#333" stroke-width="0.765" />
<line x1="672.57" y1="545.86" x2="668.85" y2="544.41" stroke="#333" stroke-width="0.765" />
<line x1="671.38" y1="542.69" x2="667.65" y2="541.24" stroke="#333" stroke-width="0.765" />
<line x1="672.48" y1="541.15" x2="668.75" y2="539.69" stroke="#333" stroke-width="0.765" />
<line x1="675.02" y1="542.43" x2="671.29" y2="540.98" stroke="#333" stroke-width="0.765" />
<line x1="675.55" y1="541.80" x2="671.83" y2="540.35" stroke="#333" stroke-width="0.765" />
<line x1="675.91" y1="541.39" x2="672.19" y2="539.94" stroke="#333" stroke-width="0.765" />
<line x1="675.42" y1="537.72" x2="671.70" y2="536.27" stroke="#333" stroke-width="0.765" />
<line x1="676.71" y1="536.48" x2="672.99" y2="535.03" stroke="#333" stroke-width="0.765" />
<line x1="678.78" y1="538.64" x2="675.05" y2="537.19" stroke="#333" stroke-width="0.765" />
<line x1="679.38" y1="538.16" x2="675.65" y2="536.71" stroke="#333" stroke-width="0.765" />
<line x1="679.78" y1="537.86" x2="676.06" y2="536.40" stroke="#333" stroke-width="0.765" />
<line x1="680.03" y1="533.90" x2="676.30" y2="532.44" stroke="#333" stroke-width="0.765" />
<line x1="681.43" y1="533.04" x2="677.70" y2="531.58" stroke="#333" stroke-width="0.765" />
<line x1="682.90" y1="535.95" x2="679.17" y2="534.49" stroke="#333" stroke-width="0.765" />
<line x1="683.53" y1="535.65" x2="679.80" y2="534.20" stroke="#333" stroke-width="0.765" />
<line x1="683.96" y1="535.46" x2="680.23" y2="534.01" stroke="#333" stroke-width="0.765" />
<line x1="684.92" y1="531.44" x2="681.20" y2="529.99" stroke="#333" stroke-width="0.765" />
<line x1="686.35" y1="531.01" x2="682.63" y2="529.56" stroke="#333" stroke-width="0.765" />
<line x1="687.14" y1="534.51" x2="683.41" y2="533.05" stroke="#333" stroke-width="0.765" />
<line x1="687.77" y1="534.40" x2="684.04" y2="532.95" stroke="#333" stroke-width="0.765" />
<line x1="688.19" y1="534.35" x2="684.46" y2="532.90" stroke="#333" stroke-width="0.765" />
<line x1="689.82" y1="530.51" x2="686.09" y2="529.05" stroke="#333" stroke-width="0.765" />
<line x1="691.20" y1="530.53" x2="687.47" y2="529.08" stroke="#333" stroke-width="0.765" />
<line x1="691.26" y1="534.40" x2="687.53" y2="532.95" stroke="#333" stroke-width="0.765" />
<line x1="691.85" y1="534.50" x2="688.12" y2="533.05" stroke="#333" stroke-width="0.765" />
<line x1="692.24" y1="534.59" x2="688.51" y2="533.13" stroke="#333" stroke-width="0.765" />
<path d="M671.49,581.70 L670.45,580.80 L666.72,579.35 L667.77,580.24 Z" fill="#fff" stroke="#333" stroke-width="0.765" stroke-linejoin="round" />
<path d="M668.21,578.13 L667.43,576.86 L663.70,575.40 L664.48,576.67 Z" fill="#fff" stroke="#333" stroke-width="0.765" stroke-linejoin="round" />
<path d="M665.90,573.36 L665.43,571.79 L661.71,570.34 L662.17,571.90 Z" fill="#fff" stroke="#333" stroke-width="0.765" stroke-linejoin="round" />
<path d="M664.70,567.67 L664.57,565.89 L660.85,564.44 L660.97,566.21 Z" fill="#fff" stroke="#333" stroke-width="0.765" stroke-linejoin="round" />
<path d="M664.68,561.39 L664.90,559.51 L661.17,558.05 L660.96,559.93 Z" fill="#fff" stroke="#333" stroke-width="0.765" stroke-linejoin="round" />
<path d="M665.84,554.88 L666.39,553.00 L662.67,551.55 L662.12,553.43 Z" fill="#fff" stroke="#333" stroke-width="0.765" stroke-linejoin="round" />
<path d="M668.12,548.52 L668.97,546.76 L665.24,545.31 L664.39,547.07 Z" fill="#fff" stroke="#333" stroke-width="0.765" stroke-linejoin="round" />
<path d="M671.38,542.69 L672.48,541.15 L668.75,539.69 L667.65,541.24 Z" fill="#fff" stroke="#333" stroke-width="0.765" stroke-linejoin="round" />
<path d="M675.42,537.72 L676.71,536.48 L672.99,535.03 L671.70,536.27 Z" fill="#fff" stroke="#333" stroke-width="0.765" stroke-linejoin="round" />
<path d="M680.03,533.90 L681.43,533.04 L677.70,531.58 L676.30,532.44 Z" fill="#fff" stroke="#333" stroke-width="0.765" stroke-linejoin="round" />
<path d="M684.92,531.44 L686.35,531.01 L682.63,529.56 L681.20,529.99 Z" fill="#fff" stroke="#333" stroke-width="0.765" stroke-linejoin="round" />
<path d="M689.82,530.51 L691.20,530.53 L687.47,529.08 L686.09,529.05 Z" fill="#fff" stroke="#333" stroke-width="0.765" stroke-linejoin="round" />
<path d="M700.26,563.45 L700.05,563.99 L701.88,566.48 L701.03,568.24 L698.16,567.90 L697.72,568.65 L697.43,569.14 L698.62,572.31 L697.52,573.85 L694.98,572.57 L694.45,573.20 L694.09,573.61 L694.58,577.28 L693.29,578.52 L691.22,576.36 L690.62,576.84 L690.22,577.14 L689.97,581.10 L688.57,581.96 L687.10,579.05 L686.47,579.35 L686.04,579.54 L685.08,583.56 L683.65,583.99 L682.86,580.49 L682.23,580.60 L681.81,580.65 L680.18,584.49 L678.80,584.47 L678.74,580.60 L678.15,580.50 L677.76,580.41 L675.56,583.86 L674.31,583.39 L674.99,579.36 L674.47,579.06 L674.14,578.85 L671.49,581.70 L670.45,580.80 L671.82,576.85 L671.41,576.38 L671.14,576.04 L668.21,578.13 L667.43,576.86 L669.41,573.22 L669.13,572.59 L668.95,572.16 L665.90,573.36 L665.43,571.79 L667.91,568.67 L667.77,567.93 L667.69,567.43 L664.70,567.67 L664.57,565.89 L667.41,563.48 L667.42,562.66 L667.44,562.11 L664.68,561.39 L664.90,559.51 L667.92,557.94 L668.09,557.09 L668.21,556.53 L665.84,554.88 L666.39,553.00 L669.43,552.37 L669.74,551.55 L669.95,551.01 L668.12,548.52 L668.97,546.76 L671.84,547.10 L672.28,546.35 L672.57,545.86 L671.38,542.69 L672.48,541.15 L675.02,542.43 L675.55,541.80 L675.91,541.39 L675.42,537.72 L676.71,536.48 L678.78,538.64 L679.38,538.16 L679.78,537.86 L680.03,533.90 L681.43,533.04 L682.90,535.95 L683.53,535.65 L683.96,535.46 L684.92,531.44 L686.35,531.01 L687.14,534.51 L687.77,534.40 L688.19,534.35 L689.82,530.51 L691.20,530.53 L691.26,534.40 L691.85,534.50 L692.24,534.59 L694.44,531.14 L695.69,531.61 L695.01,535.64 L695.53,535.94 L695.86,536.15 L698.51,533.30 L699.55,534.20 L698.18,538.15 L698.59,538.62 L698.86,538.96 L701.79,536.87 L702.57,538.14 L700.59,541.78 L700.87,542.41 L701.05,542.84 L704.10,541.64 L704.57,543.21 L702.09,546.33 L702.23,547.07 L702.31,547.57 L705.30,547.33 L705.43,549.11 L702.59,551.52 L702.58,552.34 L702.56,552.89 L705.32,553.61 L705.10,555.49 L702.08,557.06 L701.91,557.91 L701.79,558.47 L704.16,560.12 L703.61,562.00 L700.57,562.63 Z" fill="#fff" stroke="#333" stroke-width="0.85" stroke-linejoin="round" />
<ellipse cx="686.00" cy="558.50" rx="10.23" ry="16.50" transform="rotate(6 686.00 558.50)" fill="#fff" stroke="#333" stroke-width="0.9"/>
<path d="M687.5,542.5 Q698.3,558.5 687.0,574.5" fill="none" stroke="#333" stroke-width="0.8" stroke-linejoin="round"/>
<path d="M688.0,542.3 L693.7,541.2 L692.6,545.3" fill="none" stroke="#333" stroke-width="0.7" stroke-linejoin="round"/>
<path d="M682.4,573.4 L681.9,576.3 L689.1,575.3" fill="none" stroke="#333" stroke-width="0.7" stroke-linejoin="round"/>
<path d="M735.93,576.58 L735.71,577.13 L738.30,580.50 L737.06,582.59 L733.46,580.89 L732.91,581.54 L732.53,581.95 L733.29,586.86 L731.53,588.17 L729.37,584.31 L728.69,584.62 L728.24,584.80 L726.99,590.12 L725.13,590.36 L724.88,585.23 L724.24,585.13 L723.83,585.03 L720.85,589.54 L719.31,588.66 L721.04,583.43 L720.58,582.94 L720.29,582.59 L716.28,585.26 L715.41,583.45 L718.72,579.32 L718.55,578.56 L718.45,578.03 L714.31,578.26 L714.32,575.94 L718.46,573.85 L718.60,572.99 L718.73,572.41 L715.41,570.13 L716.29,567.83 L720.30,568.27 L720.74,567.50 L721.06,567.01 L719.33,562.75 L720.87,561.00 L723.84,563.86 L724.47,563.36 L724.90,563.06 L725.15,557.79 L727.02,556.99 L728.26,561.62 L728.93,561.51 L729.38,561.48 L731.56,556.41 L733.31,556.74 L732.54,562.08 L733.11,562.38 L733.48,562.62 L737.08,558.91 L738.32,560.30 L735.72,565.12 L736.05,565.77 L736.24,566.22 L740.44,564.72 L740.89,566.85 L737.05,570.05 L737.06,570.89 L737.05,571.46 L740.89,572.52 L740.43,574.90 L736.23,575.75 Z" fill="#fff" stroke="#333" stroke-width="0.85" stroke-linejoin="round" />
<line x1="728.62" y1="592.29" x2="719.31" y2="588.66" stroke="#333" stroke-width="0.765" />
<line x1="730.36" y1="587.06" x2="721.04" y2="583.43" stroke="#333" stroke-width="0.765" />
<line x1="729.90" y1="586.57" x2="720.58" y2="582.94" stroke="#333" stroke-width="0.765" />
<line x1="729.61" y1="586.22" x2="720.29" y2="582.59" stroke="#333" stroke-width="0.765" />
<line x1="725.59" y1="588.90" x2="716.28" y2="585.26" stroke="#333" stroke-width="0.765" />
<line x1="724.72" y1="587.08" x2="715.41" y2="583.45" stroke="#333" stroke-width="0.765" />
<line x1="728.04" y1="582.95" x2="718.72" y2="579.32" stroke="#333" stroke-width="0.765" />
<line x1="727.86" y1="582.19" x2="718.55" y2="578.56" stroke="#333" stroke-width="0.765" />
<line x1="727.77" y1="581.67" x2="718.45" y2="578.03" stroke="#333" stroke-width="0.765" />
<line x1="723.63" y1="581.89" x2="714.31" y2="578.26" stroke="#333" stroke-width="0.765" />
<line x1="723.63" y1="579.57" x2="714.32" y2="575.94" stroke="#333" stroke-width="0.765" />
<line x1="727.77" y1="577.48" x2="718.46" y2="573.85" stroke="#333" stroke-width="0.765" />
<line x1="727.92" y1="576.62" x2="718.60" y2="572.99" stroke="#333" stroke-width="0.765" />
<line x1="728.05" y1="576.04" x2="718.73" y2="572.41" stroke="#333" stroke-width="0.765" />
<line x1="724.73" y1="573.76" x2="715.41" y2="570.13" stroke="#333" stroke-width="0.765" />
<line x1="725.61" y1="571.46" x2="716.29" y2="567.83" stroke="#333" stroke-width="0.765" />
<line x1="729.62" y1="571.90" x2="720.30" y2="568.27" stroke="#333" stroke-width="0.765" />
<line x1="730.06" y1="571.14" x2="720.74" y2="567.50" stroke="#333" stroke-width="0.765" />
<line x1="730.37" y1="570.64" x2="721.06" y2="567.01" stroke="#333" stroke-width="0.765" />
<line x1="728.64" y1="566.38" x2="719.33" y2="562.75" stroke="#333" stroke-width="0.765" />
<line x1="730.19" y1="564.63" x2="720.87" y2="561.00" stroke="#333" stroke-width="0.765" />
<line x1="733.16" y1="567.49" x2="723.84" y2="563.86" stroke="#333" stroke-width="0.765" />
<line x1="733.79" y1="567.00" x2="724.47" y2="563.36" stroke="#333" stroke-width="0.765" />
<line x1="734.22" y1="566.70" x2="724.90" y2="563.06" stroke="#333" stroke-width="0.765" />
<line x1="734.47" y1="561.43" x2="725.15" y2="557.79" stroke="#333" stroke-width="0.765" />
<line x1="736.33" y1="560.63" x2="727.02" y2="556.99" stroke="#333" stroke-width="0.765" />
<line x1="737.57" y1="565.25" x2="728.26" y2="561.62" stroke="#333" stroke-width="0.765" />
<line x1="738.25" y1="565.15" x2="728.93" y2="561.51" stroke="#333" stroke-width="0.765" />
<line x1="738.70" y1="565.11" x2="729.38" y2="561.48" stroke="#333" stroke-width="0.765" />
<line x1="740.87" y1="560.04" x2="731.56" y2="556.41" stroke="#333" stroke-width="0.765" />
<line x1="742.63" y1="560.38" x2="733.31" y2="556.74" stroke="#333" stroke-width="0.765" />
<path d="M742.61,590.49 L740.85,591.80 L731.53,588.17 L733.29,586.86 Z" fill="#fff" stroke="#333" stroke-width="0.85" stroke-linejoin="round" />
<path d="M736.31,593.75 L734.45,593.99 L725.13,590.36 L726.99,590.12 Z" fill="#fff" stroke="#333" stroke-width="0.85" stroke-linejoin="round" />
<path d="M730.17,593.18 L728.62,592.29 L719.31,588.66 L720.85,589.54 Z" fill="#fff" stroke="#333" stroke-width="0.85" stroke-linejoin="round" />
<path d="M725.59,588.90 L724.72,587.08 L715.41,583.45 L716.28,585.26 Z" fill="#fff" stroke="#333" stroke-width="0.85" stroke-linejoin="round" />
<path d="M723.63,581.89 L723.63,579.57 L714.32,575.94 L714.31,578.26 Z" fill="#fff" stroke="#333" stroke-width="0.85" stroke-linejoin="round" />
<path d="M728.64,566.38 L730.19,564.63 L720.87,561.00 L719.33,562.75 Z" fill="#fff" stroke="#333" stroke-width="0.85" stroke-linejoin="round" />
<path d="M734.47,561.43 L736.33,560.63 L727.02,556.99 L725.15,557.79 Z" fill="#fff" stroke="#333" stroke-width="0.85" stroke-linejoin="round" />
<path d="M740.87,560.04 L742.63,560.38 L733.31,556.74 L731.56,556.41 Z" fill="#fff" stroke="#333" stroke-width="0.85" stroke-linejoin="round" />
<path d="M746.39,562.54 L747.64,563.93 L738.32,560.30 L737.08,558.91 Z" fill="#fff" stroke="#333" stroke-width="0.85" stroke-linejoin="round" />
<path d="M749.76,568.36 L750.21,570.48 L740.89,566.85 L740.44,564.72 Z" fill="#fff" stroke="#333" stroke-width="0.85" stroke-linejoin="round" />
<path d="M750.20,576.15 L749.75,578.53 L740.43,574.90 L740.89,572.52 Z" fill="#fff" stroke="#333" stroke-width="0.85" stroke-linejoin="round" />
<path d="M745.25,580.22 L745.02,580.77 L747.62,584.14 L746.38,586.22 L742.78,584.52 L742.23,585.17 L741.85,585.58 L742.61,590.49 L740.85,591.80 L738.68,587.95 L738.01,588.26 L737.56,588.43 L736.31,593.75 L734.45,593.99 L734.20,588.86 L733.56,588.76 L733.14,588.66 L730.17,593.18 L728.62,592.29 L730.36,587.06 L729.90,586.57 L729.61,586.22 L725.59,588.90 L724.72,587.08 L728.04,582.95 L727.86,582.19 L727.77,581.67 L723.63,581.89 L723.63,579.57 L727.77,577.48 L727.92,576.62 L728.05,576.04 L724.73,573.76 L725.61,571.46 L729.62,571.90 L730.06,571.14 L730.37,570.64 L728.64,566.38 L730.19,564.63 L733.16,567.49 L733.79,567.00 L734.22,566.70 L734.47,561.43 L736.33,560.63 L737.57,565.25 L738.25,565.15 L738.70,565.11 L740.87,560.04 L742.63,560.38 L741.86,565.71 L742.43,566.01 L742.79,566.25 L746.39,562.54 L747.64,563.93 L745.03,568.75 L745.36,569.40 L745.56,569.85 L749.76,568.36 L750.21,570.48 L746.36,573.69 L746.38,574.52 L746.36,575.09 L750.20,576.15 L749.75,578.53 L745.55,579.38 Z" fill="#fff" stroke="#333" stroke-width="0.85" stroke-linejoin="round" />
<ellipse cx="736.00" cy="577.60" rx="7.44" ry="10.33" transform="rotate(21.30 736.00 577.60)" fill="#fff" stroke="#333" stroke-width="1" />
<ellipse cx="736.30" cy="577.80" rx="5.95" ry="8.27" transform="rotate(21.30 736.30 577.80)" fill="#000" stroke="#333" stroke-width="0" />
<ellipse cx="769.98" cy="589.96" rx="11.57" ry="17.01" transform="rotate(21.30 769.98 589.96)" fill="#fff" stroke="#333" stroke-width="0.9" />
<path d="M770.32,608.35 L763.80,605.81 L776.16,574.10 L782.68,576.65 Z" fill="#fff" stroke="#333" stroke-width="0" stroke-linejoin="round" />
<line x1="770.32" y1="608.35" x2="763.80" y2="605.81" stroke="#333" stroke-width="0.9" />
<line x1="782.68" y1="576.65" x2="776.16" y2="574.10" stroke="#333" stroke-width="0.9" />
<ellipse cx="776.50" cy="592.50" rx="11.57" ry="17.01" transform="rotate(21.30 776.50 592.50)" fill="#fff" stroke="#333" stroke-width="0.9" />
<ellipse cx="776.50" cy="592.50" rx="10.41" ry="15.31" transform="rotate(21.30 776.50 592.50)" fill="none" stroke="#333" stroke-width="0.8" />
<ellipse cx="776.50" cy="592.50" rx="9.02" ry="13.27" transform="rotate(21.30 776.50 592.50)" fill="none" stroke="#333" stroke-width="1.0" />
<ellipse cx="776.50" cy="592.50" rx="7.40" ry="10.89" transform="rotate(21.30 776.50 592.50)" fill="none" stroke="#333" stroke-width="0.7" />
<ellipse cx="776.50" cy="592.50" rx="5.32" ry="7.83" transform="rotate(21.30 776.50 592.50)" fill="none" stroke="#333" stroke-width="1.2" />
<ellipse cx="448.48" cy="344.46" rx="13.12" ry="19.30" transform="rotate(21.30 448.48 344.46)" fill="#fff" stroke="#333" stroke-width="0.9" />
<path d="M447.99,364.98 L441.47,362.44 L455.49,326.48 L462.01,329.02 Z" fill="#fff" stroke="#333" stroke-width="0" stroke-linejoin="round" />
<line x1="447.99" y1="364.98" x2="441.47" y2="362.44" stroke="#333" stroke-width="0.9" />
<line x1="462.01" y1="329.02" x2="455.49" y2="326.48" stroke="#333" stroke-width="0.9" />
<ellipse cx="455.00" cy="347.00" rx="13.12" ry="19.30" transform="rotate(21.30 455.00 347.00)" fill="#fff" stroke="#333" stroke-width="0.9" />
<ellipse cx="455.00" cy="347.00" rx="11.81" ry="17.37" transform="rotate(21.30 455.00 347.00)" fill="none" stroke="#333" stroke-width="0.8" />
<ellipse cx="455.00" cy="347.00" rx="10.24" ry="15.05" transform="rotate(21.30 455.00 347.00)" fill="none" stroke="#333" stroke-width="1.0" />
<ellipse cx="455.00" cy="347.00" rx="8.40" ry="12.35" transform="rotate(21.30 455.00 347.00)" fill="none" stroke="#333" stroke-width="0.7" />
<ellipse cx="455.00" cy="347.00" rx="6.04" ry="8.88" transform="rotate(21.30 455.00 347.00)" fill="none" stroke="#333" stroke-width="1.2" />
<path d="M490,352.5 L516,361 L512,381.5 L486.25,371.25 Z" fill="#fff" stroke="#333" stroke-width="0.9" stroke-linejoin="round"/>
<ellipse cx="487.75" cy="362.6" rx="5.8" ry="10" transform="rotate(12 487.75 362.6)" fill="#fff" stroke="#333" stroke-width="0.9"/>
<path d="M491,353 Q486,362 490,372" fill="none" stroke="#333" stroke-width="0.9" stroke-linejoin="round"/>
<path d="M512,357 L530.5,360 L538,366.5 L537,371 L525,368 Z" fill="#fff" stroke="#333" stroke-width="0.8" stroke-linejoin="round"/>
<path d="M514.75,359.25 L518.5,356.25 L530.5,360 L532.75,364.5 L529,366.75 L517.75,363 Z" fill="#fff" stroke="#333" stroke-width="0.85" stroke-linejoin="round"/>
<path d="M505.75,367.5 L509,365.5 L523,367.5 L525,370 L524.5,374.25 L507.25,373.5 Z" fill="#fff" stroke="#333" stroke-width="0.85" stroke-linejoin="round"/>
<path d="M507,370.5 L523.5,371.5" fill="none" stroke="#333" stroke-width="1.1" stroke-linejoin="round"/>
<path d="M507.25,375 L510,374.25 L523,378.5 L523,385 L521.5,387 L508,382.5 Z" fill="#fff" stroke="#333" stroke-width="0.85" stroke-linejoin="round"/>
<path d="M508,378 L522,382" fill="none" stroke="#333" stroke-width="1.1" stroke-linejoin="round"/>
<path d="M508.75,383.25 L511,382.5 L520,386 L524.5,390 L522,392 L511,388.5 Z" fill="#fff" stroke="#333" stroke-width="0.85" stroke-linejoin="round"/>
<path d="M523,385.5 L528.25,386 L528,390.5 L523.5,391 Z" fill="#fff" stroke="#333" stroke-width="0.8" stroke-linejoin="round"/>
<path d="M512,360 L512.5,391" fill="none" stroke="#333" stroke-width="0.6" stroke-linejoin="round"/>
<path d="M524.5,367.5 L553,377.25 L550,396.75 L524.5,388.5" fill="#fff" stroke="#333" stroke-width="0.9" stroke-linejoin="round"/>
<path d="M548.5,377 L575,387 L577,402.75 L548,395 Z" fill="#fff" stroke="#333" stroke-width="0.9" stroke-linejoin="round"/>
<path d="M552.0,378.5 L551.4,396.0" fill="none" stroke="#333" stroke-width="0.9" stroke-linejoin="round"/>
<path d="M555.3,379.7 L554.7,396.9" fill="none" stroke="#333" stroke-width="0.9" stroke-linejoin="round"/>
<path d="M558.6,380.9 L558.0,397.8" fill="none" stroke="#333" stroke-width="0.9" stroke-linejoin="round"/>
<path d="M561.9,382.1 L561.3,398.7" fill="none" stroke="#333" stroke-width="0.9" stroke-linejoin="round"/>
<path d="M565.2,383.3 L564.6,399.6" fill="none" stroke="#333" stroke-width="0.9" stroke-linejoin="round"/>
<path d="M568.5,384.5 L567.9,400.5" fill="none" stroke="#333" stroke-width="0.9" stroke-linejoin="round"/>
<path d="M571.8,385.7 L571.2,401.4" fill="none" stroke="#333" stroke-width="0.9" stroke-linejoin="round"/>
<path d="M548.5,377 Q544,386 548,395" fill="none" stroke="#333" stroke-width="0.8" stroke-linejoin="round"/>
<ellipse cx="579" cy="395.6" rx="5.6" ry="7.9" transform="rotate(10 579 395.6)" fill="#fff" stroke="#333" stroke-width="0.9"/>
<ellipse cx="580" cy="395.8" rx="1.4" ry="1.9" fill="none" stroke="#333" stroke-width="0.7"/>
<path d="M640.46,420.28 L640.21,420.91 L643.37,424.18 L642.44,426.24 L638.12,425.54 L637.65,426.44 L637.34,427.04 L639.89,431.11 L638.75,433.02 L634.76,431.33 L634.21,432.16 L633.83,432.70 L635.71,437.47 L634.39,439.18 L630.85,436.55 L630.23,437.27 L629.80,437.74 L630.96,443.09 L629.49,444.55 L626.50,441.04 L625.81,441.65 L625.35,442.04 L625.75,447.80 L624.18,448.98 L621.81,444.69 L621.09,445.16 L620.61,445.46 L620.24,451.49 L618.60,452.35 L616.93,447.40 L616.19,447.72 L615.69,447.92 L614.57,454.05 L612.91,454.57 L611.97,449.09 L611.23,449.25 L610.74,449.35 L608.89,455.41 L607.27,455.58 L607.09,449.72 L606.37,449.72 L605.89,449.71 L603.37,455.54 L601.81,455.35 L602.40,449.27 L601.73,449.11 L601.28,448.99 L598.14,454.43 L596.71,453.88 L598.05,447.75 L597.43,447.43 L597.02,447.21 L593.37,452.11 L592.08,451.22 L594.14,445.21 L593.60,444.74 L593.24,444.42 L589.16,448.65 L588.07,447.44 L590.78,441.71 L590.33,441.10 L590.04,440.69 L585.65,444.13 L584.78,442.64 L588.07,437.34 L587.72,436.62 L587.50,436.13 L582.92,438.69 L582.29,436.96 L586.08,432.24 L585.85,431.42 L585.70,430.86 L581.06,432.47 L580.68,430.54 L584.86,426.53 L584.75,425.64 L584.68,425.03 L580.10,425.64 L580.00,423.57 L584.45,420.38 L584.46,419.43 L584.48,418.79 L580.08,418.39 L580.25,416.23 L584.86,413.95 L584.99,412.97 L585.09,412.31 L581.00,410.91 L581.43,408.73 L586.07,407.41 L586.32,406.43 L586.50,405.78 L582.82,403.41 L583.52,401.26 L588.06,400.95 L588.43,399.99 L588.68,399.36 L585.52,396.10 L586.45,394.04 L590.77,394.73 L591.24,393.83 L591.55,393.24 L589.00,389.17 L590.14,387.25 L594.13,388.94 L594.68,388.12 L595.05,387.58 L593.17,382.81 L594.50,381.09 L598.03,383.73 L598.66,383.01 L599.09,382.53 L597.93,377.19 L599.40,375.72 L602.39,379.24 L603.07,378.63 L603.53,378.24 L603.13,372.48 L604.71,371.30 L607.07,375.59 L607.80,375.12 L608.28,374.82 L608.65,368.79 L610.28,367.93 L611.96,372.88 L612.70,372.56 L613.20,372.36 L614.32,366.23 L615.97,365.71 L616.91,371.19 L617.65,371.02 L618.15,370.93 L620.00,364.86 L621.62,364.70 L621.80,370.56 L622.52,370.56 L622.99,370.57 L625.52,364.74 L627.07,364.93 L626.49,371.01 L627.16,371.17 L627.61,371.29 L630.74,365.85 L632.18,366.40 L630.84,372.53 L631.46,372.84 L631.87,373.07 L635.52,368.17 L636.80,369.06 L634.75,375.07 L635.29,375.54 L635.65,375.86 L639.72,371.63 L640.82,372.84 L638.11,378.57 L638.56,379.17 L638.85,379.59 L643.24,376.15 L644.11,377.63 L640.82,382.93 L641.16,383.65 L641.39,384.14 L645.96,381.59 L646.60,383.32 L642.81,388.04 L643.04,388.86 L643.19,389.41 L647.83,387.81 L648.21,389.73 L644.03,393.74 L644.14,394.64 L644.21,395.25 L648.79,394.64 L648.89,396.71 L644.44,399.90 L644.43,400.85 L644.41,401.49 L648.81,401.89 L648.64,404.04 L644.03,406.33 L643.90,407.31 L643.80,407.96 L647.89,409.37 L647.45,411.55 L642.81,412.87 L642.56,413.85 L642.39,414.50 L646.06,416.87 L645.37,419.01 L640.82,419.33 Z" fill="#fff" stroke="#333" stroke-width="0.85" stroke-linejoin="round" />
<line x1="604.10" y1="450.11" x2="598.05" y2="447.75" stroke="#333" stroke-width="0.765" />
<line x1="603.48" y1="449.79" x2="597.43" y2="447.43" stroke="#333" stroke-width="0.765" />
<line x1="603.08" y1="449.57" x2="597.02" y2="447.21" stroke="#333" stroke-width="0.765" />
<line x1="599.42" y1="454.47" x2="593.37" y2="452.11" stroke="#333" stroke-width="0.765" />
<line x1="598.14" y1="453.58" x2="592.08" y2="451.22" stroke="#333" stroke-width="0.765" />
<line x1="600.19" y1="447.57" x2="594.14" y2="445.21" stroke="#333" stroke-width="0.765" />
<line x1="599.65" y1="447.10" x2="593.60" y2="444.74" stroke="#333" stroke-width="0.765" />
<line x1="599.30" y1="446.78" x2="593.24" y2="444.42" stroke="#333" stroke-width="0.765" />
<line x1="595.22" y1="451.01" x2="589.16" y2="448.65" stroke="#333" stroke-width="0.765" />
<line x1="594.13" y1="449.80" x2="588.07" y2="447.44" stroke="#333" stroke-width="0.765" />
<line x1="596.84" y1="444.07" x2="590.78" y2="441.71" stroke="#333" stroke-width="0.765" />
<line x1="596.39" y1="443.47" x2="590.33" y2="441.10" stroke="#333" stroke-width="0.765" />
<line x1="596.10" y1="443.05" x2="590.04" y2="440.69" stroke="#333" stroke-width="0.765" />
<line x1="591.71" y1="446.49" x2="585.65" y2="444.13" stroke="#333" stroke-width="0.765" />
<line x1="590.83" y1="445.00" x2="584.78" y2="442.64" stroke="#333" stroke-width="0.765" />
<line x1="594.13" y1="439.71" x2="588.07" y2="437.34" stroke="#333" stroke-width="0.765" />
<line x1="593.78" y1="438.98" x2="587.72" y2="436.62" stroke="#333" stroke-width="0.765" />
<line x1="593.56" y1="438.49" x2="587.50" y2="436.13" stroke="#333" stroke-width="0.765" />
<line x1="588.98" y1="441.05" x2="582.92" y2="438.69" stroke="#333" stroke-width="0.765" />
<line x1="588.35" y1="439.32" x2="582.29" y2="436.96" stroke="#333" stroke-width="0.765" />
<line x1="592.14" y1="434.60" x2="586.08" y2="432.24" stroke="#333" stroke-width="0.765" />
<line x1="591.90" y1="433.78" x2="585.85" y2="431.42" stroke="#333" stroke-width="0.765" />
<line x1="591.76" y1="433.23" x2="585.70" y2="430.86" stroke="#333" stroke-width="0.765" />
<line x1="587.11" y1="434.83" x2="581.06" y2="432.47" stroke="#333" stroke-width="0.765" />
<line x1="586.74" y1="432.91" x2="580.68" y2="430.54" stroke="#333" stroke-width="0.765" />
<line x1="590.92" y1="428.89" x2="584.86" y2="426.53" stroke="#333" stroke-width="0.765" />
<line x1="590.80" y1="428.00" x2="584.75" y2="425.64" stroke="#333" stroke-width="0.765" />
<line x1="590.74" y1="427.39" x2="584.68" y2="425.03" stroke="#333" stroke-width="0.765" />
<line x1="586.15" y1="428.00" x2="580.10" y2="425.64" stroke="#333" stroke-width="0.765" />
<line x1="586.05" y1="425.93" x2="580.00" y2="423.57" stroke="#333" stroke-width="0.765" />
<line x1="590.51" y1="422.74" x2="584.45" y2="420.38" stroke="#333" stroke-width="0.765" />
<line x1="590.52" y1="421.79" x2="584.46" y2="419.43" stroke="#333" stroke-width="0.765" />
<line x1="590.53" y1="421.15" x2="584.48" y2="418.79" stroke="#333" stroke-width="0.765" />
<line x1="586.13" y1="420.75" x2="580.08" y2="418.39" stroke="#333" stroke-width="0.765" />
<line x1="586.30" y1="418.60" x2="580.25" y2="416.23" stroke="#333" stroke-width="0.765" />
<line x1="590.92" y1="416.31" x2="584.86" y2="413.95" stroke="#333" stroke-width="0.765" />
<line x1="591.05" y1="415.33" x2="584.99" y2="412.97" stroke="#333" stroke-width="0.765" />
<line x1="591.14" y1="414.68" x2="585.09" y2="412.31" stroke="#333" stroke-width="0.765" />
<line x1="587.05" y1="413.27" x2="581.00" y2="410.91" stroke="#333" stroke-width="0.765" />
<line x1="587.49" y1="411.09" x2="581.43" y2="408.73" stroke="#333" stroke-width="0.765" />
<line x1="592.13" y1="409.77" x2="586.07" y2="407.41" stroke="#333" stroke-width="0.765" />
<line x1="592.38" y1="408.79" x2="586.32" y2="406.43" stroke="#333" stroke-width="0.765" />
<line x1="592.56" y1="408.14" x2="586.50" y2="405.78" stroke="#333" stroke-width="0.765" />
<line x1="588.88" y1="405.77" x2="582.82" y2="403.41" stroke="#333" stroke-width="0.765" />
<line x1="589.58" y1="403.62" x2="583.52" y2="401.26" stroke="#333" stroke-width="0.765" />
<line x1="594.12" y1="403.31" x2="588.06" y2="400.95" stroke="#333" stroke-width="0.765" />
<line x1="594.48" y1="402.36" x2="588.43" y2="399.99" stroke="#333" stroke-width="0.765" />
<line x1="594.73" y1="401.72" x2="588.68" y2="399.36" stroke="#333" stroke-width="0.765" />
<line x1="591.57" y1="398.46" x2="585.52" y2="396.10" stroke="#333" stroke-width="0.765" />
<line x1="592.51" y1="396.40" x2="586.45" y2="394.04" stroke="#333" stroke-width="0.765" />
<line x1="596.83" y1="397.10" x2="590.77" y2="394.73" stroke="#333" stroke-width="0.765" />
<line x1="597.29" y1="396.20" x2="591.24" y2="393.83" stroke="#333" stroke-width="0.765" />
<line x1="597.61" y1="395.60" x2="591.55" y2="393.24" stroke="#333" stroke-width="0.765" />
<line x1="595.05" y1="391.53" x2="589.00" y2="389.17" stroke="#333" stroke-width="0.765" />
<line x1="596.20" y1="389.62" x2="590.14" y2="387.25" stroke="#333" stroke-width="0.765" />
<line x1="600.18" y1="391.30" x2="594.13" y2="388.94" stroke="#333" stroke-width="0.765" />
<line x1="600.73" y1="390.48" x2="594.68" y2="388.12" stroke="#333" stroke-width="0.765" />
<line x1="601.11" y1="389.94" x2="595.05" y2="387.58" stroke="#333" stroke-width="0.765" />
<line x1="599.23" y1="385.17" x2="593.17" y2="382.81" stroke="#333" stroke-width="0.765" />
<line x1="600.55" y1="383.45" x2="594.50" y2="381.09" stroke="#333" stroke-width="0.765" />
<line x1="604.09" y1="386.09" x2="598.03" y2="383.73" stroke="#333" stroke-width="0.765" />
<line x1="604.72" y1="385.37" x2="598.66" y2="383.01" stroke="#333" stroke-width="0.765" />
<line x1="605.14" y1="384.89" x2="599.09" y2="382.53" stroke="#333" stroke-width="0.765" />
<line x1="603.98" y1="379.55" x2="597.93" y2="377.19" stroke="#333" stroke-width="0.765" />
<line x1="605.45" y1="378.09" x2="599.40" y2="375.72" stroke="#333" stroke-width="0.765" />
<line x1="608.45" y1="381.60" x2="602.39" y2="379.24" stroke="#333" stroke-width="0.765" />
<line x1="609.13" y1="380.99" x2="603.07" y2="378.63" stroke="#333" stroke-width="0.765" />
<line x1="609.59" y1="380.60" x2="603.53" y2="378.24" stroke="#333" stroke-width="0.765" />
<line x1="609.19" y1="374.84" x2="603.13" y2="372.48" stroke="#333" stroke-width="0.765" />
<line x1="610.76" y1="373.66" x2="604.71" y2="371.30" stroke="#333" stroke-width="0.765" />
<line x1="613.13" y1="377.95" x2="607.07" y2="375.59" stroke="#333" stroke-width="0.765" />
<line x1="613.85" y1="377.48" x2="607.80" y2="375.12" stroke="#333" stroke-width="0.765" />
<line x1="614.34" y1="377.18" x2="608.28" y2="374.82" stroke="#333" stroke-width="0.765" />
<line x1="614.71" y1="371.15" x2="608.65" y2="368.79" stroke="#333" stroke-width="0.765" />
<line x1="616.34" y1="370.29" x2="610.28" y2="367.93" stroke="#333" stroke-width="0.765" />
<line x1="618.02" y1="375.24" x2="611.96" y2="372.88" stroke="#333" stroke-width="0.765" />
<line x1="618.76" y1="374.92" x2="612.70" y2="372.56" stroke="#333" stroke-width="0.765" />
<line x1="619.25" y1="374.72" x2="613.20" y2="372.36" stroke="#333" stroke-width="0.765" />
<line x1="620.38" y1="368.59" x2="614.32" y2="366.23" stroke="#333" stroke-width="0.765" />
<line x1="622.03" y1="368.07" x2="615.97" y2="365.71" stroke="#333" stroke-width="0.765" />
<line x1="622.97" y1="373.55" x2="616.91" y2="371.19" stroke="#333" stroke-width="0.765" />
<line x1="623.71" y1="373.38" x2="617.65" y2="371.02" stroke="#333" stroke-width="0.765" />
<line x1="624.20" y1="373.29" x2="618.15" y2="370.93" stroke="#333" stroke-width="0.765" />
<line x1="626.05" y1="367.23" x2="620.00" y2="364.86" stroke="#333" stroke-width="0.765" />
<line x1="627.68" y1="367.06" x2="621.62" y2="364.70" stroke="#333" stroke-width="0.765" />
<line x1="627.86" y1="372.92" x2="621.80" y2="370.56" stroke="#333" stroke-width="0.765" />
<line x1="628.57" y1="372.92" x2="622.52" y2="370.56" stroke="#333" stroke-width="0.765" />
<line x1="629.05" y1="372.93" x2="622.99" y2="370.57" stroke="#333" stroke-width="0.765" />
<line x1="631.58" y1="367.10" x2="625.52" y2="364.74" stroke="#333" stroke-width="0.765" />
<line x1="633.13" y1="367.29" x2="627.07" y2="364.93" stroke="#333" stroke-width="0.765" />
<line x1="632.54" y1="373.37" x2="626.49" y2="371.01" stroke="#333" stroke-width="0.765" />
<line x1="633.22" y1="373.53" x2="627.16" y2="371.17" stroke="#333" stroke-width="0.765" />
<line x1="633.67" y1="373.65" x2="627.61" y2="371.29" stroke="#333" stroke-width="0.765" />
<path d="M599.42,454.47 L598.14,453.58 L592.08,451.22 L593.37,452.11 Z" fill="#fff" stroke="#333" stroke-width="0.765" stroke-linejoin="round" />
<path d="M595.22,451.01 L594.13,449.80 L588.07,447.44 L589.16,448.65 Z" fill="#fff" stroke="#333" stroke-width="0.765" stroke-linejoin="round" />
<path d="M591.71,446.49 L590.83,445.00 L584.78,442.64 L585.65,444.13 Z" fill="#fff" stroke="#333" stroke-width="0.765" stroke-linejoin="round" />
<path d="M588.98,441.05 L588.35,439.32 L582.29,436.96 L582.92,438.69 Z" fill="#fff" stroke="#333" stroke-width="0.765" stroke-linejoin="round" />
<path d="M587.11,434.83 L586.74,432.91 L580.68,430.54 L581.06,432.47 Z" fill="#fff" stroke="#333" stroke-width="0.765" stroke-linejoin="round" />
<path d="M586.15,428.00 L586.05,425.93 L580.00,423.57 L580.10,425.64 Z" fill="#fff" stroke="#333" stroke-width="0.765" stroke-linejoin="round" />
<path d="M586.13,420.75 L586.30,418.60 L580.25,416.23 L580.08,418.39 Z" fill="#fff" stroke="#333" stroke-width="0.765" stroke-linejoin="round" />
<path d="M587.05,413.27 L587.49,411.09 L581.43,408.73 L581.00,410.91 Z" fill="#fff" stroke="#333" stroke-width="0.765" stroke-linejoin="round" />
<path d="M588.88,405.77 L589.58,403.62 L583.52,401.26 L582.82,403.41 Z" fill="#fff" stroke="#333" stroke-width="0.765" stroke-linejoin="round" />
<path d="M591.57,398.46 L592.51,396.40 L586.45,394.04 L585.52,396.10 Z" fill="#fff" stroke="#333" stroke-width="0.765" stroke-linejoin="round" />
<path d="M595.05,391.53 L596.20,389.62 L590.14,387.25 L589.00,389.17 Z" fill="#fff" stroke="#333" stroke-width="0.765" stroke-linejoin="round" />
<path d="M599.23,385.17 L600.55,383.45 L594.50,381.09 L593.17,382.81 Z" fill="#fff" stroke="#333" stroke-width="0.765" stroke-linejoin="round" />
<path d="M603.98,379.55 L605.45,378.09 L599.40,375.72 L597.93,377.19 Z" fill="#fff" stroke="#333" stroke-width="0.765" stroke-linejoin="round" />
<path d="M609.19,374.84 L610.76,373.66 L604.71,371.30 L603.13,372.48 Z" fill="#fff" stroke="#333" stroke-width="0.765" stroke-linejoin="round" />
<path d="M614.71,371.15 L616.34,370.29 L610.28,367.93 L608.65,368.79 Z" fill="#fff" stroke="#333" stroke-width="0.765" stroke-linejoin="round" />
<path d="M620.38,368.59 L622.03,368.07 L615.97,365.71 L614.32,366.23 Z" fill="#fff" stroke="#333" stroke-width="0.765" stroke-linejoin="round" />
<path d="M626.05,367.23 L627.68,367.06 L621.62,364.70 L620.00,364.86 Z" fill="#fff" stroke="#333" stroke-width="0.765" stroke-linejoin="round" />
<path d="M631.58,367.10 L633.13,367.29 L627.07,364.93 L625.52,364.74 Z" fill="#fff" stroke="#333" stroke-width="0.765" stroke-linejoin="round" />
<path d="M646.52,422.64 L646.27,423.28 L649.43,426.54 L648.49,428.60 L644.17,427.90 L643.71,428.80 L643.39,429.40 L645.95,433.47 L644.80,435.38 L640.82,433.70 L640.27,434.52 L639.89,435.06 L641.77,439.83 L640.45,441.55 L636.91,438.91 L636.28,439.63 L635.86,440.11 L637.02,445.45 L635.55,446.91 L632.55,443.40 L631.87,444.01 L631.41,444.40 L631.81,450.16 L630.24,451.34 L627.87,447.05 L627.15,447.52 L626.66,447.82 L626.29,453.85 L624.66,454.71 L622.98,449.76 L622.24,450.08 L621.75,450.28 L620.62,456.41 L618.97,456.93 L618.03,451.45 L617.29,451.62 L616.80,451.71 L614.95,457.77 L613.32,457.94 L613.14,452.08 L612.43,452.08 L611.95,452.07 L609.42,457.90 L607.87,457.71 L608.46,451.63 L607.78,451.47 L607.33,451.35 L604.20,456.79 L602.76,456.24 L604.10,450.11 L603.48,449.79 L603.08,449.57 L599.42,454.47 L598.14,453.58 L600.19,447.57 L599.65,447.10 L599.30,446.78 L595.22,451.01 L594.13,449.80 L596.84,444.07 L596.39,443.47 L596.10,443.05 L591.71,446.49 L590.83,445.00 L594.13,439.71 L593.78,438.98 L593.56,438.49 L588.98,441.05 L588.35,439.32 L592.14,434.60 L591.90,433.78 L591.76,433.23 L587.11,434.83 L586.74,432.91 L590.92,428.89 L590.80,428.00 L590.74,427.39 L586.15,428.00 L586.05,425.93 L590.51,422.74 L590.52,421.79 L590.53,421.15 L586.13,420.75 L586.30,418.60 L590.92,416.31 L591.05,415.33 L591.14,414.68 L587.05,413.27 L587.49,411.09 L592.13,409.77 L592.38,408.79 L592.56,408.14 L588.88,405.77 L589.58,403.62 L594.12,403.31 L594.48,402.36 L594.73,401.72 L591.57,398.46 L592.51,396.40 L596.83,397.10 L597.29,396.20 L597.61,395.60 L595.05,391.53 L596.20,389.62 L600.18,391.30 L600.73,390.48 L601.11,389.94 L599.23,385.17 L600.55,383.45 L604.09,386.09 L604.72,385.37 L605.14,384.89 L603.98,379.55 L605.45,378.09 L608.45,381.60 L609.13,380.99 L609.59,380.60 L609.19,374.84 L610.76,373.66 L613.13,377.95 L613.85,377.48 L614.34,377.18 L614.71,371.15 L616.34,370.29 L618.02,375.24 L618.76,374.92 L619.25,374.72 L620.38,368.59 L622.03,368.07 L622.97,373.55 L623.71,373.38 L624.20,373.29 L626.05,367.23 L627.68,367.06 L627.86,372.92 L628.57,372.92 L629.05,372.93 L631.58,367.10 L633.13,367.29 L632.54,373.37 L633.22,373.53 L633.67,373.65 L636.80,368.21 L638.24,368.76 L636.90,374.89 L637.52,375.21 L637.92,375.43 L641.58,370.53 L642.86,371.42 L640.81,377.43 L641.35,377.90 L641.70,378.22 L645.78,373.99 L646.87,375.20 L644.16,380.93 L644.61,381.53 L644.90,381.95 L649.29,378.51 L650.17,380.00 L646.87,385.29 L647.22,386.02 L647.44,386.51 L652.02,383.95 L652.65,385.68 L648.86,390.40 L649.10,391.22 L649.24,391.77 L653.89,390.17 L654.26,392.09 L650.08,396.11 L650.20,397.00 L650.26,397.61 L654.85,397.00 L654.95,399.07 L650.49,402.26 L650.48,403.21 L650.47,403.85 L654.87,404.25 L654.70,406.40 L650.08,408.69 L649.95,409.67 L649.86,410.32 L653.95,411.73 L653.51,413.91 L648.87,415.23 L648.62,416.21 L648.44,416.86 L652.12,419.23 L651.42,421.38 L646.88,421.69 Z" fill="#fff" stroke="#333" stroke-width="0.85" stroke-linejoin="round" />
<ellipse cx="622.6" cy="413.5" rx="7.2" ry="10.3" transform="rotate(12 622.6 413.5)" fill="#fff" stroke="#333" stroke-width="1.6"/>
<path d="M624.5,403.8 Q618.5,412 618.5,423 Q626,424.5 629,416 Q631,406 624.5,403.8 Z" fill="#666" stroke="#333" stroke-width="0.6" stroke-linejoin="round"/>
<line x1="622.3" y1="405.5" x2="626.9" y2="406.1" stroke="#fff" stroke-width="0.9"/>
<line x1="621.9" y1="408.1" x2="627.7" y2="408.7" stroke="#fff" stroke-width="0.9"/>
<line x1="621.6" y1="410.7" x2="628.2" y2="411.3" stroke="#fff" stroke-width="0.9"/>
<line x1="621.5" y1="413.3" x2="628.5" y2="413.9" stroke="#fff" stroke-width="0.9"/>
<line x1="621.6" y1="415.9" x2="628.2" y2="416.5" stroke="#fff" stroke-width="0.9"/>
<line x1="621.9" y1="418.5" x2="627.7" y2="419.1" stroke="#fff" stroke-width="0.9"/>
<line x1="622.3" y1="421.1" x2="626.9" y2="421.7" stroke="#fff" stroke-width="0.9"/>
<ellipse cx="682.05" cy="436.35" rx="8.61" ry="12.66" transform="rotate(21.30 682.05 436.35)" fill="#fff" stroke="#333" stroke-width="0.6" />
<ellipse cx="682.70" cy="436.60" rx="8.61" ry="12.66" transform="rotate(21.30 682.70 436.60)" fill="#fff" stroke="#333" stroke-width="0.9" />
<ellipse cx="682.70" cy="436.60" rx="5.64" ry="8.30" transform="rotate(21.30 682.70 436.60)" fill="none" stroke="#333" stroke-width="0.9" />
<ellipse cx="733.47" cy="456.59" rx="12.98" ry="19.09" transform="rotate(21.30 733.47 456.59)" fill="#fff" stroke="#333" stroke-width="0.9" />
<path d="M734.27,477.39 L726.53,474.37 L740.40,438.80 L748.13,441.81 Z" fill="#fff" stroke="#333" stroke-width="0" stroke-linejoin="round" />
<line x1="734.27" y1="477.39" x2="726.53" y2="474.37" stroke="#333" stroke-width="0.9" />
<line x1="748.13" y1="441.81" x2="740.40" y2="438.80" stroke="#333" stroke-width="0.9" />
<ellipse cx="741.20" cy="459.60" rx="12.98" ry="19.09" transform="rotate(21.30 741.20 459.60)" fill="#fff" stroke="#333" stroke-width="0.9" />
<ellipse cx="741.20" cy="459.60" rx="11.68" ry="17.18" transform="rotate(21.30 741.20 459.60)" fill="none" stroke="#333" stroke-width="0.8" />
<ellipse cx="741.20" cy="459.60" rx="10.13" ry="14.89" transform="rotate(21.30 741.20 459.60)" fill="none" stroke="#333" stroke-width="1.0" />
<ellipse cx="741.20" cy="459.60" rx="8.31" ry="12.22" transform="rotate(21.30 741.20 459.60)" fill="none" stroke="#333" stroke-width="0.7" />
<ellipse cx="741.20" cy="459.60" rx="5.97" ry="8.78" transform="rotate(21.30 741.20 459.60)" fill="none" stroke="#333" stroke-width="1.2" />
<clipPath id="bores"><ellipse cx="269.25" cy="394.00" rx="9.75" ry="14.34" transform="rotate(21.30 269.25 394.00)"/><ellipse cx="313.00" cy="411.00" rx="9.65" ry="14.19" transform="rotate(21.30 313.00 411.00)"/><ellipse cx="351.00" cy="426.00" rx="9.99" ry="14.69" transform="rotate(21.30 351.00 426.00)"/><ellipse cx="408.00" cy="448.50" rx="9.19" ry="16.00" transform="rotate(6 408.00 448.50)"/><ellipse cx="459.80" cy="469.30" rx="10.26" ry="15.10" transform="rotate(21.30 459.80 469.30)"/><ellipse cx="512.75" cy="490.25" rx="9.30" ry="16.49" transform="rotate(6 512.75 490.25)"/><ellipse cx="555.30" cy="507.00" rx="10.61" ry="15.60" transform="rotate(21.30 555.30 507.00)"/><ellipse cx="601.50" cy="525.30" rx="9.79" ry="16.49" transform="rotate(6 601.50 525.30)"/><ellipse cx="642.70" cy="541.20" rx="10.16" ry="14.94" transform="rotate(21.30 642.70 541.20)"/><ellipse cx="686.00" cy="558.50" rx="9.82" ry="16.00" transform="rotate(6 686.00 558.50)"/><ellipse cx="776.50" cy="592.50" rx="5.06" ry="7.44" transform="rotate(21.30 776.50 592.50)"/><ellipse cx="455.00" cy="347.00" rx="5.73" ry="8.43" transform="rotate(21.30 455.00 347.00)"/><path d="M622,403.8 Q614,406 615.5,416 Q617,423.5 620,423 Q616,410 622,403.8 Z"/><ellipse cx="682.70" cy="436.60" rx="5.47" ry="8.05" transform="rotate(21.30 682.70 436.60)"/><ellipse cx="741.20" cy="459.60" rx="5.67" ry="8.34" transform="rotate(21.30 741.20 459.60)"/><rect x="313" y="391" width="20" height="40"/><rect x="408" y="428.5" width="34" height="40"/><rect x="512.75" y="470.25" width="30" height="40"/><rect x="601.5" y="505.29999999999995" width="24" height="40"/><rect x="686" y="538.5" width="19" height="40"/><rect x="622.6" y="393.5" width="32" height="40"/></clipPath>
<g clip-path="url(#bores)">
<line x1="375.40" y1="348.10" x2="264.75" y2="392.50" stroke="#333" stroke-width="0.8" stroke-dasharray="7 4"/>
<line x1="264.75" y1="392.50" x2="760.00" y2="586.60" stroke="#333" stroke-width="0.8" stroke-dasharray="7 4"/>
<line x1="383.00" y1="319.25" x2="742.00" y2="458.50" stroke="#333" stroke-width="0.8" stroke-dasharray="7 4"/>
</g>
<circle cx="596.00" cy="304.50" r="24" fill="#fff" stroke="#3a3a3a" stroke-width="0.8"/>
<path d="M0.8,14.4 Q1.7,15.5 3.75,15.5 Q7.5,15.5 7.5,8.9 L7.5,4.7 Q7.5,0 3.75,0 Q0,0 0,4.7 Q0,8.9 3.75,8.9 Q7.1,8.9 7.5,6.1" transform="translate(592.25,296.75)" fill="none" stroke="#333" stroke-width="0.8" stroke-linecap="round" stroke-linejoin="round"/>
<circle cx="651.80" cy="304.50" r="24" fill="#fff" stroke="#3a3a3a" stroke-width="0.8"/>
<path d="M3.75,0 L3.75,15.5" transform="translate(641.55,296.75)" fill="none" stroke="#333" stroke-width="0.8" stroke-linecap="round" stroke-linejoin="round"/>
<path d="M0,4 Q0,0 3.75,0 Q7.5,0 7.5,4 L7.5,11.5 Q7.5,15.5 3.75,15.5 Q0,15.5 0,11.5 Z" transform="translate(654.55,296.75)" fill="none" stroke="#333" stroke-width="0.8" stroke-linecap="round" stroke-linejoin="round"/>
<circle cx="706.50" cy="304.50" r="24" fill="#fff" stroke="#3a3a3a" stroke-width="0.8"/>
<path d="M3.75,0 L3.75,15.5" transform="translate(696.25,296.75)" fill="none" stroke="#333" stroke-width="0.8" stroke-linecap="round" stroke-linejoin="round"/>
<path d="M3.75,0 L3.75,15.5" transform="translate(709.25,296.75)" fill="none" stroke="#333" stroke-width="0.8" stroke-linecap="round" stroke-linejoin="round"/>
<circle cx="764.00" cy="304.50" r="24" fill="#fff" stroke="#3a3a3a" stroke-width="0.8"/>
<path d="M3.75,0 L3.75,15.5" transform="translate(753.75,296.75)" fill="none" stroke="#333" stroke-width="0.8" stroke-linecap="round" stroke-linejoin="round"/>
<path d="M0.2,2 Q1.2,0 3.75,0 Q7.3,0 7.3,3.8 Q7.3,7.3 3.4,7.3 Q7.5,7.3 7.5,11.3 Q7.5,15.5 3.75,15.5 Q1,15.5 0,13.2" transform="translate(766.75,296.75)" fill="none" stroke="#333" stroke-width="0.8" stroke-linecap="round" stroke-linejoin="round"/>
<circle cx="247.30" cy="594.30" r="24" fill="#fff" stroke="#3a3a3a" stroke-width="0.8"/>
<path d="M3.75,0 L3.75,15.5" transform="translate(243.55,586.55)" fill="none" stroke="#333" stroke-width="0.8" stroke-linecap="round" stroke-linejoin="round"/>
<circle cx="301.80" cy="594.30" r="24" fill="#fff" stroke="#3a3a3a" stroke-width="0.8"/>
<path d="M0,0 L7.5,0 L2.5,15.5" transform="translate(298.05,586.55)" fill="none" stroke="#333" stroke-width="0.8" stroke-linecap="round" stroke-linejoin="round"/>
<circle cx="352.50" cy="594.30" r="24" fill="#fff" stroke="#3a3a3a" stroke-width="0.8"/>
<path d="M3.75,7 Q0.4,7 0.4,3.5 Q0.4,0 3.75,0 Q7.1,0 7.1,3.5 Q7.1,7 3.75,7 Q0,7 0,11.2 Q0,15.5 3.75,15.5 Q7.5,15.5 7.5,11.2 Q7.5,7 3.75,7 Z" transform="translate(348.75,586.55)" fill="none" stroke="#333" stroke-width="0.8" stroke-linecap="round" stroke-linejoin="round"/>
<circle cx="406.80" cy="594.30" r="24" fill="#fff" stroke="#3a3a3a" stroke-width="0.8"/>
<path d="M6.7,1.1 Q5.8,0 3.75,0 Q0,0 0,6.6 L0,10.8 Q0,15.5 3.75,15.5 Q7.5,15.5 7.5,10.8 Q7.5,6.6 3.75,6.6 Q0.4,6.6 0,9.4" transform="translate(403.05,586.55)" fill="none" stroke="#333" stroke-width="0.8" stroke-linecap="round" stroke-linejoin="round"/>
<circle cx="460.00" cy="594.30" r="24" fill="#fff" stroke="#3a3a3a" stroke-width="0.8"/>
<path d="M7.1,0 L0.9,0 L0.4,6.6 Q1.7,5.7 3.75,5.7 Q7.5,5.7 7.5,10.5 Q7.5,15.5 3.75,15.5 Q1.1,15.5 0.2,13.2" transform="translate(456.25,586.55)" fill="none" stroke="#333" stroke-width="0.8" stroke-linecap="round" stroke-linejoin="round"/>
<circle cx="603.30" cy="671.80" r="24" fill="#fff" stroke="#3a3a3a" stroke-width="0.8"/>
<path d="M5.4,15.5 L5.4,0 L0,10.8 L7.5,10.8" transform="translate(599.55,664.05)" fill="none" stroke="#333" stroke-width="0.8" stroke-linecap="round" stroke-linejoin="round"/>
<circle cx="659.00" cy="671.80" r="24" fill="#fff" stroke="#3a3a3a" stroke-width="0.8"/>
<path d="M0.2,2 Q1.2,0 3.75,0 Q7.3,0 7.3,3.8 Q7.3,7.3 3.4,7.3 Q7.5,7.3 7.5,11.3 Q7.5,15.5 3.75,15.5 Q1,15.5 0,13.2" transform="translate(655.25,664.05)" fill="none" stroke="#333" stroke-width="0.8" stroke-linecap="round" stroke-linejoin="round"/>
<circle cx="717.00" cy="671.80" r="24" fill="#fff" stroke="#3a3a3a" stroke-width="0.8"/>
<path d="M0.3,3.8 Q0.3,0 3.75,0 Q7.3,0 7.3,3.8 Q7.3,6.2 5.5,8.2 L0,15.5 L7.5,15.5" transform="translate(713.25,664.05)" fill="none" stroke="#333" stroke-width="0.8" stroke-linecap="round" stroke-linejoin="round"/>
<circle cx="767.50" cy="671.80" r="24" fill="#fff" stroke="#3a3a3a" stroke-width="0.8"/>
<path d="M3.75,0 L3.75,15.5" transform="translate(757.25,664.05)" fill="none" stroke="#333" stroke-width="0.8" stroke-linecap="round" stroke-linejoin="round"/>
<path d="M0.3,3.8 Q0.3,0 3.75,0 Q7.3,0 7.3,3.8 Q7.3,6.2 5.5,8.2 L0,15.5 L7.5,15.5" transform="translate(770.25,664.05)" fill="none" stroke="#333" stroke-width="0.8" stroke-linecap="round" stroke-linejoin="round"/>
<line x1="582" y1="325" x2="550" y2="374" stroke="#444" stroke-width="0.8"/>
<line x1="645.6" y1="328.5" x2="634" y2="367.5" stroke="#444" stroke-width="0.8"/>
<line x1="701.5" y1="328.5" x2="684.6" y2="426" stroke="#444" stroke-width="0.8"/>
<line x1="759.4" y1="328.5" x2="743" y2="439" stroke="#444" stroke-width="0.8"/>
<line x1="249.4" y1="570.5" x2="264.4" y2="412.5" stroke="#444" stroke-width="0.8"/>
<line x1="301.9" y1="570.5" x2="301.9" y2="444" stroke="#444" stroke-width="0.8"/>
<line x1="352.5" y1="570.5" x2="350.6" y2="446" stroke="#444" stroke-width="0.8"/>
<line x1="405" y1="570.5" x2="399" y2="493" stroke="#444" stroke-width="0.8"/>
<line x1="471" y1="572" x2="497" y2="529" stroke="#444" stroke-width="0.8"/>
<line x1="600.5" y1="648" x2="589.3" y2="556.25" stroke="#444" stroke-width="0.8"/>
<line x1="662.8" y1="648" x2="672.25" y2="582.5" stroke="#444" stroke-width="0.8"/>
<line x1="720.2" y1="648" x2="727.6" y2="593" stroke="#444" stroke-width="0.8"/>
<line x1="770.25" y1="648" x2="773.75" y2="608.75" stroke="#444" stroke-width="0.8"/>
</svg></body></html>
